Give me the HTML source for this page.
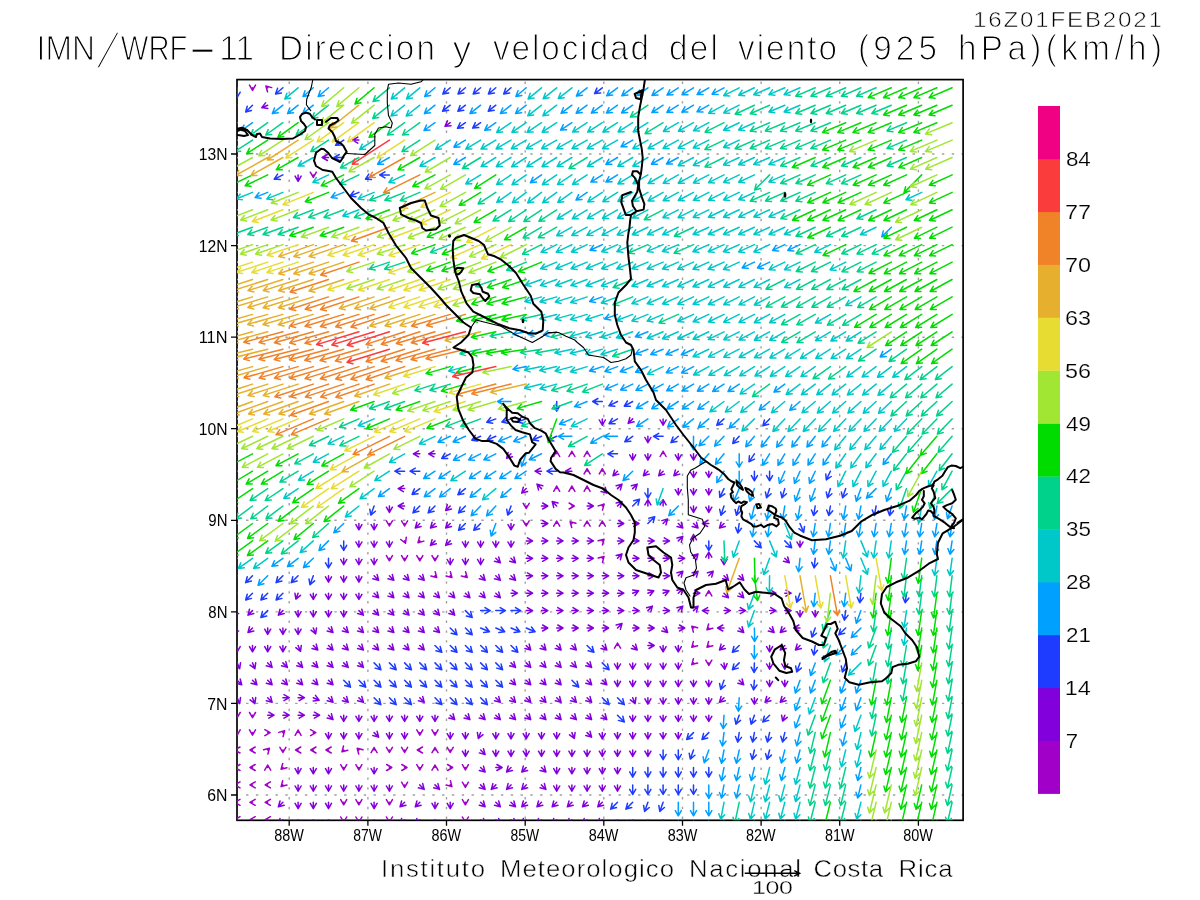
<!DOCTYPE html><html><head><meta charset="utf-8"><title>IMN/WRF-11 viento 925 hPa</title><style>html,body{margin:0;padding:0;background:#fff;width:1200px;height:900px;overflow:hidden}svg{display:block}.t{font-family:"Liberation Sans",Arial,sans-serif;fill:#000}</style></head><body>
<svg width="1200" height="900" viewBox="0 0 1200 900">
<rect width="1200" height="900" fill="#fff"/>
<defs><clipPath id="fr"><rect x="237.0" y="79.6" width="726.1" height="740.7"/></clipPath></defs>
<path d="M289.2 81.6V820.3M367.9 81.6V820.3M446.5 81.6V820.3M525.2 81.6V820.3M603.8 81.6V820.3M682.5 81.6V820.3M761.1 81.6V820.3M839.7 81.6V820.3M918.4 81.6V820.3M246.1 795.0H963.1M246.1 703.4H963.1M246.1 611.9H963.1M246.1 520.3H963.1M246.1 428.7H963.1M246.1 337.2H963.1M246.1 245.6H963.1M246.1 154.0H963.1" stroke="#a0a0a0" stroke-width="1.4" stroke-dasharray="2.4 7.4" fill="none"/>
<rect x="237.0" y="79.6" width="726.1" height="740.7" fill="none" stroke="#000" stroke-width="1.7"/>
<g clip-path="url(#fr)" fill="none" stroke-width="1.5" stroke-linecap="round" stroke-linejoin="round">
<path stroke="#a000c8" d="M252.5 87.8L252.5 90.3M249.5 85.1L252.5 90.3L255.5 85.1M267.7 87.8L265.9 86M271.7 87.6L265.9 86L267.5 91.8M313.3 174.9L313.3 177.4M310.3 172.2L313.3 177.4L316.3 172.2M556.7 453.8L556.7 451.3M559.7 456.5L556.7 451.3L553.7 456.5M571.9 453.8L571.9 451.3M574.9 456.5L571.9 451.3L568.9 456.5M587.1 453.8L587.1 451.3M590.1 456.5L587.1 451.3L584.1 456.5M663.1 453.8L663.1 451.3M666.1 456.5L663.1 451.3L660.1 456.5M587.1 471.2L587.1 468.7M590.1 473.9L587.1 468.7L584.1 473.9M602.3 471.2L602.3 468.7M605.3 473.9L602.3 468.7L599.3 473.9M556.7 488.6L556.7 486.1M559.7 491.3L556.7 486.1L553.7 491.3M571.9 488.6L571.9 486.1M574.9 491.3L571.9 486.1L568.9 491.3M587.1 488.6L587.1 486.1M590.1 491.3L587.1 486.1L584.1 491.3M526.2 506L526.2 508.5M523.2 503.3L526.2 508.5L529.2 503.3M571.9 506L574.3 506M569.1 509L574.3 506L569.1 503M602.3 506L604 504.3M602.5 510.1L604 504.3L598.2 505.9M389.4 523.5L389.4 526M386.4 520.8L389.4 526L392.4 520.8M404.6 523.5L404.6 526M401.6 520.8L404.6 526L407.6 520.8M526.2 523.5L526.2 526M523.2 520.8L526.2 526L529.2 520.8M556.7 523.5L556.7 521M559.7 526.2L556.7 521L553.7 526.2M571.9 523.5L570.1 521.7M575.9 523.3L570.1 521.7L571.7 527.5M587.1 523.5L587.1 521M590.1 526.2L587.1 521L584.1 526.2M602.3 523.5L602.3 521M605.3 526.2L602.3 521L599.3 526.2M404.6 540.9L405.5 543.2M400.7 539.5L405.5 543.2L406.3 537.2M419.8 540.9L418 542.7M419.6 536.9L418 542.7L423.8 541.1M602.3 540.9L604 539.2M602.5 544.9L604 539.2L598.2 540.7M389.4 558.3L389.4 560.8M386.4 555.6L389.4 560.8L392.4 555.6M404.6 558.3L404.6 560.8M401.6 555.6L404.6 560.8L407.6 555.6M419.8 558.3L419.8 560.8M416.8 555.6L419.8 560.8L422.8 555.6M435 558.3L435 560.8M432 555.6L435 560.8L438 555.6M602.3 558.3L604 556.6M602.5 562.4L604 556.6L598.2 558.1M435 575.8L436.7 577.5M430.9 576L436.7 577.5L435.2 571.7M450.2 575.8L451.9 577.5M446.1 576L451.9 577.5L450.4 571.7M465.4 575.8L467.2 577.5M461.4 576L467.2 577.5L465.6 571.7M708.8 593.2L708.8 590.7M711.8 595.9L708.8 590.7L705.8 595.9M693.5 628L691.8 626.3M697.6 627.8L691.8 626.3L693.4 632.1M708.8 628L707 629.8M708.6 624L707 629.8L712.8 628.2M617.5 645.5L617.5 643M620.5 648.2L617.5 643L614.5 648.2M693.5 645.5L691.8 647.2M693.4 641.4L691.8 647.2L697.6 645.7M708.8 645.5L707 647.2M708.6 641.4L707 647.2L712.8 645.7M693.5 662.9L691.8 664.6M693.4 658.8L691.8 664.6L697.6 663.1M708.8 662.9L708.8 665.4M705.8 660.2L708.8 665.4L711.8 660.2M237.2 715.2L237.2 717.6M234.2 712.5L237.2 717.6L240.2 712.5M252.5 715.2L252.5 717.6M249.5 712.5L252.5 717.6L255.5 712.5M237.2 732.6L237.2 735.1M234.2 729.9L237.2 735.1L240.2 729.9M252.5 732.6L252.5 735.1M249.5 729.9L252.5 735.1L255.5 729.9M267.7 732.6L270.1 732.6M264.9 735.6L270.1 732.6L264.9 729.6M282.9 732.6L284.6 730.8M283.1 736.6L284.6 730.8L278.8 732.4M298.1 732.6L298.1 730.1M301.1 735.3L298.1 730.1L295.1 735.3M313.3 732.6L315.8 732.6M310.6 735.6L315.8 732.6L310.6 729.6M419.8 732.6L419.8 735.1M416.8 729.9L419.8 735.1L422.8 729.9M435 732.6L435 735.1M432 729.9L435 735.1L438 729.9M237.2 750L234.8 750M240 747L234.8 750L240 753M252.5 750L250 750M255.2 747L250 750L255.2 753M267.7 750L269.4 748.3M267.9 754.1L269.4 748.3L263.6 749.8M282.9 750L282.9 752.5M279.9 747.3L282.9 752.5L285.9 747.3M298.1 750L295.6 750M300.8 747L295.6 750L300.8 753M313.3 750L310.8 750M316 747L310.8 750L316 753M328.5 750L326 750M331.2 747L326 750L331.2 753M343.7 750L342 751.8M343.5 746L342 751.8L347.8 750.2M358.9 750L357.2 748.3M363 749.8L357.2 748.3L358.7 754.1M374.1 750L374.1 747.6M377.1 752.7L374.1 747.6L371.1 752.7M389.4 750L389.4 752.5M386.4 747.3L389.4 752.5L392.4 747.3M404.6 750L404.6 752.5M401.6 747.3L404.6 752.5L407.6 747.3M419.8 750L417.3 750M422.5 747L417.3 750L422.5 753M435 750L435 747.6M438 752.7L435 747.6L432 752.7M450.2 750L450.2 752.5M447.2 747.3L450.2 752.5L453.2 747.3M237.2 767.5L234.8 767.5M240 764.5L234.8 767.5L240 770.5M252.5 767.5L250 767.5M255.2 764.5L250 767.5L255.2 770.5M267.7 767.5L267.7 765M270.7 770.2L267.7 765L264.7 770.2M282.9 767.5L281.1 769.2M282.7 763.4L281.1 769.2L286.9 767.7M343.7 767.5L343.7 769.9M340.7 764.7L343.7 769.9L346.7 764.7M358.9 767.5L358.9 769.9M355.9 764.7L358.9 769.9L361.9 764.7M389.4 767.5L391.8 767.5M386.6 770.5L391.8 767.5L386.6 764.5M404.6 767.5L407 767.5M401.8 770.5L407 767.5L401.8 764.5M419.8 767.5L419.8 769.9M416.8 764.7L419.8 769.9L422.8 764.7M435 767.5L435 765M438 770.2L435 765L432 770.2M450.2 767.5L452.7 767.5M447.5 770.5L452.7 767.5L447.5 764.5M465.4 767.5L465.4 769.9M462.4 764.7L465.4 769.9L468.4 764.7M237.2 784.9L234.8 784.9M240 781.9L234.8 784.9L240 787.9M252.5 784.9L250 784.9M255.2 781.9L250 784.9L255.2 787.9M267.7 784.9L265.2 784.9M270.4 781.9L265.2 784.9L270.4 787.9M282.9 784.9L281.1 786.6M282.7 780.8L281.1 786.6L286.9 785.1M404.6 784.9L404.6 787.4M401.6 782.2L404.6 787.4L407.6 782.2M450.2 784.9L451.9 786.6M446.1 785.1L451.9 786.6L450.4 780.8M465.4 784.9L465.4 787.4M462.4 782.2L465.4 787.4L468.4 782.2M237.2 802.3L234.8 802.3M240 799.3L234.8 802.3L240 805.3M252.5 802.3L250 802.3M255.2 799.3L250 802.3L255.2 805.3M267.7 802.3L265.2 802.3M270.4 799.3L265.2 802.3L270.4 805.3M343.7 802.3L343.7 804.8M340.7 799.6L343.7 804.8L346.7 799.6M358.9 802.3L358.9 804.8M355.9 799.6L358.9 804.8L361.9 799.6M389.4 802.3L389.4 804.8M386.4 799.6L389.4 804.8L392.4 799.6M465.4 802.3L465.4 804.8M462.4 799.6L465.4 804.8L468.4 799.6M237.2 819.7L234.8 819.7M240 816.7L234.8 819.7L240 822.7M252.5 819.7L250 819.7M255.2 816.7L250 819.7L255.2 822.7M267.7 819.7L265.2 819.7M270.4 816.7L265.2 819.7L270.4 822.7M343.7 819.7L343.7 822.2M340.7 817L343.7 822.2L346.7 817M358.9 819.7L358.9 822.2M355.9 817L358.9 822.2L361.9 817M389.4 819.7L389.4 822.2M386.4 817L389.4 822.2L392.4 817M465.4 819.7L465.4 822.2M462.4 817L465.4 822.2L468.4 817"/>
<path stroke="#8200dc" d="M267.7 105.2L261.8 107.6M265.5 102.9L261.8 107.6L267.8 108.4M450.2 122.7L445 126.3M447.5 120.9L445 126.3L451 125.8M358.9 140.1L352.6 140.1M357.8 137.1L352.6 140.1L357.8 143.1M328.5 157.5L322.2 157.5M327.4 154.5L322.2 157.5L327.4 160.5M298.1 174.9L298.1 181.3M295.1 176.1L298.1 181.3L301.1 176.1M602.3 418.9L602.3 425.2M599.3 420L602.3 425.2L605.3 420M632.7 418.9L628.2 423.4M629.8 417.6L628.2 423.4L634 421.8M663.1 418.9L663.1 425.2M660.1 420L663.1 425.2L666.1 420M647.9 436.3L647.9 442.7M644.9 437.5L647.9 442.7L650.9 437.5M419.8 453.8L413.4 453.8M418.6 450.8L413.4 453.8L418.6 456.8M435 453.8L428.7 453.8M433.9 450.8L428.7 453.8L433.9 456.8M511 453.8L506.6 458.2M508.1 452.4L506.6 458.2L512.4 456.7M632.7 453.8L632.7 460.1M629.7 454.9L632.7 460.1L635.7 454.9M647.9 453.8L647.9 460.1M644.9 454.9L647.9 460.1L650.9 454.9M678.3 453.8L678.3 460.1M675.3 454.9L678.3 460.1L681.3 454.9M693.5 453.8L693.5 460.1M690.5 454.9L693.5 460.1L696.5 454.9M541.5 471.2L535.1 471.2M540.3 468.2L535.1 471.2L540.3 474.2M571.9 471.2L565.5 471.2M570.7 468.2L565.5 471.2L570.7 474.2M617.5 471.2L613 475.7M614.6 469.9L613 475.7L618.8 474.1M647.9 471.2L643.4 475.7M645 469.9L643.4 475.7L649.2 474.1M663.1 471.2L658.7 475.7M660.2 469.9L658.7 475.7L664.5 474.1M678.3 471.2L673.9 475.7M675.4 469.9L673.9 475.7L679.7 474.1M693.5 471.2L693.5 477.5M690.5 472.3L693.5 477.5L696.5 472.3M708.8 471.2L708.8 477.5M705.8 472.3L708.8 477.5L711.8 472.3M404.6 488.6L398.2 488.6M403.4 485.6L398.2 488.6L403.4 491.6M526.2 488.6L521.8 493.1M523.3 487.3L521.8 493.1L527.6 491.5M541.5 488.6L537 484.1M542.8 485.7L537 484.1L538.5 489.9M602.3 488.6L606.8 493.1M601 491.5L606.8 493.1L605.2 487.3M617.5 488.6L622 484.1M620.4 489.9L622 484.1L616.2 485.7M632.7 488.6L637.2 484.1M635.6 489.9L637.2 484.1L631.4 485.7M678.3 488.6L678.3 494.9M675.3 489.7L678.3 494.9L681.3 489.7M693.5 488.6L693.5 494.9M690.5 489.7L693.5 494.9L696.5 489.7M708.8 488.6L708.8 494.9M705.8 489.7L708.8 494.9L711.8 489.7M389.4 506L389.4 512.4M386.4 507.2L389.4 512.4L392.4 507.2M404.6 506L398.2 506M403.4 503L398.2 506L403.4 509M450.2 506L445.7 510.5M447.3 504.7L445.7 510.5L451.5 509M541.5 506L547.8 506M542.6 509L547.8 506L542.6 503M556.7 506L552.2 501.6M558 503.1L552.2 501.6L553.7 507.4M587.1 506L593.4 506M588.2 509L593.4 506L588.2 503M617.5 506L622 501.6M620.4 507.4L622 501.6L616.2 503.1M647.9 506L647.9 499.7M650.9 504.9L647.9 499.7L644.9 504.9M663.1 506L663.1 499.7M666.1 504.9L663.1 499.7L660.1 504.9M693.5 506L693.5 512.4M690.5 507.2L693.5 512.4L696.5 507.2M708.8 506L708.8 512.4M705.8 507.2L708.8 512.4L711.8 507.2M358.9 523.5L358.9 529.8M355.9 524.6L358.9 529.8L361.9 524.6M374.1 523.5L374.1 529.8M371.1 524.6L374.1 529.8L377.1 524.6M419.8 523.5L415.3 527.9M416.9 522.2L415.3 527.9L421.1 526.4M435 523.5L430.5 527.9M432.1 522.2L430.5 527.9L436.3 526.4M450.2 523.5L445.7 527.9M447.3 522.2L445.7 527.9L451.5 526.4M511 523.5L511 529.8M508 524.6L511 529.8L514 524.6M541.5 523.5L547.8 523.5M542.6 526.5L547.8 523.5L542.6 520.5M617.5 523.5L623.8 523.5M618.6 526.5L623.8 523.5L618.6 520.5M632.7 523.5L639 523.5M633.8 526.5L639 523.5L633.8 520.5M663.1 523.5L667.6 519M666 524.8L667.6 519L661.8 520.6M678.3 523.5L682.8 527.9M677 526.4L682.8 527.9L681.3 522.2M693.5 523.5L698 527.9M692.2 526.4L698 527.9L696.5 522.2M708.8 523.5L702.4 523.5M707.6 520.5L702.4 523.5L707.6 526.5M724 523.5L719.5 527.9M721.1 522.2L719.5 527.9L725.3 526.4M358.9 540.9L358.9 547.2M355.9 542L358.9 547.2L361.9 542M374.1 540.9L374.1 547.2M371.1 542L374.1 547.2L377.1 542M389.4 540.9L389.4 547.2M386.4 542L389.4 547.2L392.4 542M435 540.9L430.5 545.4M432.1 539.6L430.5 545.4L436.3 543.8M450.2 540.9L445.7 545.4M447.3 539.6L445.7 545.4L451.5 543.8M465.4 540.9L465.4 547.2M462.4 542L465.4 547.2L468.4 542M480.6 540.9L480.6 547.2M477.6 542L480.6 547.2L483.6 542M495.8 540.9L495.8 547.2M492.8 542L495.8 547.2L498.8 542M511 540.9L511 547.2M508 542L511 547.2L514 542M526.2 540.9L532.6 540.9M527.4 543.9L532.6 540.9L527.4 537.9M541.5 540.9L547.8 540.9M542.6 543.9L547.8 540.9L542.6 537.9M556.7 540.9L563 540.9M557.8 543.9L563 540.9L557.8 537.9M571.9 540.9L578.2 540.9M573 543.9L578.2 540.9L573 537.9M587.1 540.9L593.4 540.9M588.2 543.9L593.4 540.9L588.2 537.9M617.5 540.9L623.8 540.9M618.6 543.9L623.8 540.9L618.6 537.9M632.7 540.9L639 540.9M633.8 543.9L639 540.9L633.8 537.9M647.9 540.9L654.2 540.9M649 543.9L654.2 540.9L649 537.9M663.1 540.9L669.5 540.9M664.3 543.9L669.5 540.9L664.3 537.9M678.3 540.9L682.8 536.4M681.3 542.2L682.8 536.4L677 538M693.5 540.9L693.5 534.6M696.5 539.8L693.5 534.6L690.5 539.8M800 540.9L800 547.2M797 542L800 547.2L803 542M343.7 558.3L343.7 564.7M340.7 559.5L343.7 564.7L346.7 559.5M358.9 558.3L358.9 564.7M355.9 559.5L358.9 564.7L361.9 559.5M374.1 558.3L374.1 564.7M371.1 559.5L374.1 564.7L377.1 559.5M450.2 558.3L450.2 564.7M447.2 559.5L450.2 564.7L453.2 559.5M465.4 558.3L465.4 564.7M462.4 559.5L465.4 564.7L468.4 559.5M480.6 558.3L480.6 564.7M477.6 559.5L480.6 564.7L483.6 559.5M495.8 558.3L500.3 562.8M494.5 561.2L500.3 562.8L498.7 557M511 558.3L515.5 562.8M509.7 561.2L515.5 562.8L513.9 557M526.2 558.3L532.6 558.3M527.4 561.3L532.6 558.3L527.4 555.3M541.5 558.3L547.8 558.3M542.6 561.3L547.8 558.3L542.6 555.3M556.7 558.3L563 558.3M557.8 561.3L563 558.3L557.8 555.3M571.9 558.3L578.2 558.3M573 561.3L578.2 558.3L573 555.3M587.1 558.3L593.4 558.3M588.2 561.3L593.4 558.3L588.2 555.3M617.5 558.3L622 553.9M620.4 559.7L622 553.9L616.2 555.4M632.7 558.3L639 558.3M633.8 561.3L639 558.3L633.8 555.3M647.9 558.3L654.2 558.3M649 561.3L654.2 558.3L649 555.3M663.1 558.3L669.5 558.3M664.3 561.3L669.5 558.3L664.3 555.3M678.3 558.3L684.7 558.3M679.5 561.3L684.7 558.3L679.5 555.3M693.5 558.3L698 553.9M696.5 559.7L698 553.9L692.2 555.4M708.8 558.3L708.8 552M711.8 557.2L708.8 552L705.8 557.2M724 558.3L724 564.7M721 559.5L724 564.7L727 559.5M784.8 558.3L789.3 562.8M783.5 561.2L789.3 562.8L787.7 557M328.5 575.8L328.5 582.1M325.5 576.9L328.5 582.1L331.5 576.9M343.7 575.8L343.7 582.1M340.7 576.9L343.7 582.1L346.7 576.9M358.9 575.8L358.9 582.1M355.9 576.9L358.9 582.1L361.9 576.9M374.1 575.8L378.6 580.2M372.8 578.7L378.6 580.2L377.1 574.4M389.4 575.8L393.8 580.2M388 578.7L393.8 580.2L392.3 574.4M404.6 575.8L409 580.2M403.2 578.7L409 580.2L407.5 574.4M419.8 575.8L424.2 580.2M418.4 578.7L424.2 580.2L422.7 574.4M480.6 575.8L485.1 580.2M479.3 578.7L485.1 580.2L483.5 574.4M495.8 575.8L500.3 580.2M494.5 578.7L500.3 580.2L498.7 574.4M511 575.8L515.5 580.2M509.7 578.7L515.5 580.2L513.9 574.4M526.2 575.8L532.6 575.8M527.4 578.8L532.6 575.8L527.4 572.8M541.5 575.8L547.8 575.8M542.6 578.8L547.8 575.8L542.6 572.8M556.7 575.8L563 575.8M557.8 578.8L563 575.8L557.8 572.8M571.9 575.8L578.2 575.8M573 578.8L578.2 575.8L573 572.8M587.1 575.8L593.4 575.8M588.2 578.8L593.4 575.8L588.2 572.8M602.3 575.8L608.6 575.8M603.4 578.8L608.6 575.8L603.4 572.8M617.5 575.8L623.8 575.8M618.6 578.8L623.8 575.8L618.6 572.8M632.7 575.8L639 575.8M633.8 578.8L639 575.8L633.8 572.8M647.9 575.8L654.2 575.8M649 578.8L654.2 575.8L649 572.8M663.1 575.8L669.5 575.8M664.3 578.8L669.5 575.8L664.3 572.8M678.3 575.8L682.8 571.3M681.3 577.1L682.8 571.3L677 572.8M693.5 575.8L698 571.3M696.5 577.1L698 571.3L692.2 572.8M708.8 575.8L713.2 571.3M711.7 577.1L713.2 571.3L707.4 572.8M724 575.8L728.4 580.2M722.6 578.7L728.4 580.2L726.9 574.4M739.2 575.8L743.7 580.2M737.9 578.7L743.7 580.2L742.1 574.4M298.1 593.2L295.9 599.1M294.9 593.2L295.9 599.1L300.5 595.3M313.3 593.2L313.3 599.5M310.3 594.3L313.3 599.5L316.3 594.3M328.5 593.2L328.5 599.5M325.5 594.3L328.5 599.5L331.5 594.3M343.7 593.2L343.7 599.5M340.7 594.3L343.7 599.5L346.7 594.3M358.9 593.2L358.9 599.5M355.9 594.3L358.9 599.5L361.9 594.3M374.1 593.2L378.6 597.7M372.8 596.1L378.6 597.7L377.1 591.9M389.4 593.2L393.8 597.7M388 596.1L393.8 597.7L392.3 591.9M404.6 593.2L409 597.7M403.2 596.1L409 597.7L407.5 591.9M419.8 593.2L424.2 597.7M418.4 596.1L424.2 597.7L422.7 591.9M435 593.2L439.5 597.7M433.7 596.1L439.5 597.7L437.9 591.9M450.2 593.2L454.7 597.7M448.9 596.1L454.7 597.7L453.1 591.9M465.4 593.2L469.9 597.7M464.1 596.1L469.9 597.7L468.3 591.9M480.6 593.2L485.1 597.7M479.3 596.1L485.1 597.7L483.5 591.9M495.8 593.2L500.3 597.7M494.5 596.1L500.3 597.7L498.7 591.9M511 593.2L517.4 593.2M512.2 596.2L517.4 593.2L512.2 590.2M526.2 593.2L532.6 593.2M527.4 596.2L532.6 593.2L527.4 590.2M541.5 593.2L547.8 593.2M542.6 596.2L547.8 593.2L542.6 590.2M556.7 593.2L563 593.2M557.8 596.2L563 593.2L557.8 590.2M571.9 593.2L578.2 593.2M573 596.2L578.2 593.2L573 590.2M587.1 593.2L593.4 593.2M588.2 596.2L593.4 593.2L588.2 590.2M602.3 593.2L608.6 593.2M603.4 596.2L608.6 593.2L603.4 590.2M617.5 593.2L623.8 593.2M618.6 596.2L623.8 593.2L618.6 590.2M632.7 593.2L638.6 590.8M634.9 595.5L638.6 590.8L632.6 590M647.9 593.2L653.8 590.8M650.1 595.5L653.8 590.8L647.8 590M663.1 593.2L669 590.8M665.3 595.5L669 590.8L663 590M678.3 593.2L682.8 588.7M681.3 594.5L682.8 588.7L677 590.3M693.5 593.2L699.9 593.2M694.7 596.2L699.9 593.2L694.7 590.2M724 593.2L728.4 597.7M722.6 596.1L728.4 597.7L726.9 591.9M739.2 593.2L743.7 597.7M737.9 596.1L743.7 597.7L742.1 591.9M769.6 593.2L775.9 593.2M770.7 596.2L775.9 593.2L770.7 590.2M784.8 593.2L791.1 593.2M785.9 596.2L791.1 593.2L785.9 590.2M237.2 610.6L232.8 615.1M234.3 609.3L232.8 615.1L238.6 613.5M252.5 610.6L248 615.1M249.5 609.3L248 615.1L253.8 613.5M282.9 610.6L278.4 615.1M280 609.3L278.4 615.1L284.2 613.5M298.1 610.6L298.1 616.9M295.1 611.7L298.1 616.9L301.1 611.7M313.3 610.6L313.3 616.9M310.3 611.7L313.3 616.9L316.3 611.7M328.5 610.6L328.5 616.9M325.5 611.7L328.5 616.9L331.5 611.7M343.7 610.6L343.7 616.9M340.7 611.7L343.7 616.9L346.7 611.7M358.9 610.6L363.4 615.1M357.6 613.5L363.4 615.1L361.8 609.3M374.1 610.6L378.6 615.1M372.8 613.5L378.6 615.1L377.1 609.3M389.4 610.6L393.8 615.1M388 613.5L393.8 615.1L392.3 609.3M404.6 610.6L409 615.1M403.2 613.5L409 615.1L407.5 609.3M419.8 610.6L424.2 615.1M418.4 613.5L424.2 615.1L422.7 609.3M435 610.6L439.5 615.1M433.7 613.5L439.5 615.1L437.9 609.3M450.2 610.6L454.7 615.1M448.9 613.5L454.7 615.1L453.1 609.3M526.2 610.6L532.6 610.6M527.4 613.6L532.6 610.6L527.4 607.6M541.5 610.6L547.8 610.6M542.6 613.6L547.8 610.6L542.6 607.6M556.7 610.6L563 610.6M557.8 613.6L563 610.6L557.8 607.6M571.9 610.6L578.2 610.6M573 613.6L578.2 610.6L573 607.6M587.1 610.6L593.4 610.6M588.2 613.6L593.4 610.6L588.2 607.6M602.3 610.6L608.6 610.6M603.4 613.6L608.6 610.6L603.4 607.6M617.5 610.6L623.8 610.6M618.6 613.6L623.8 610.6L618.6 607.6M632.7 610.6L639 610.6M633.8 613.6L639 610.6L633.8 607.6M647.9 610.6L652.4 606.1M650.8 611.9L652.4 606.1L646.6 607.7M663.1 610.6L669.5 610.6M664.3 613.6L669.5 610.6L664.3 607.6M678.3 610.6L682.8 606.1M681.3 611.9L682.8 606.1L677 607.7M693.5 610.6L698 606.1M696.5 611.9L698 606.1L692.2 607.7M708.8 610.6L702.4 610.6M707.6 607.6L702.4 610.6L707.6 613.6M724 610.6L730.3 610.6M725.1 613.6L730.3 610.6L725.1 607.6M739.2 610.6L745.5 610.6M740.3 613.6L745.5 610.6L740.3 607.6M769.6 610.6L775.9 610.6M770.7 613.6L775.9 610.6L770.7 607.6M784.8 610.6L791.1 610.6M785.9 613.6L791.1 610.6L785.9 607.6M800 610.6L800 616.9M797 611.7L800 616.9L803 611.7M815.2 610.6L815.2 616.9M812.2 611.7L815.2 616.9L818.2 611.7M237.2 628L232.8 632.5M234.3 626.7L232.8 632.5L238.6 631M252.5 628L248 632.5M249.5 626.7L248 632.5L253.8 631M267.7 628L267.7 634.4M264.7 629.2L267.7 634.4L270.7 629.2M282.9 628L282.9 634.4M279.9 629.2L282.9 634.4L285.9 629.2M298.1 628L298.1 634.4M295.1 629.2L298.1 634.4L301.1 629.2M313.3 628L315.7 633.9M311 630.2L315.7 633.9L316.5 627.9M328.5 628L333 632.5M327.2 631L333 632.5L331.4 626.7M343.7 628L348.2 632.5M342.4 631L348.2 632.5L346.6 626.7M358.9 628L363.4 632.5M357.6 631L363.4 632.5L361.8 626.7M374.1 628L378.6 632.5M372.8 631L378.6 632.5L377.1 626.7M389.4 628L393.8 632.5M388 631L393.8 632.5L392.3 626.7M404.6 628L409 632.5M403.2 631L409 632.5L407.5 626.7M419.8 628L424.2 632.5M418.4 631L424.2 632.5L422.7 626.7M435 628L439.5 632.5M433.7 631L439.5 632.5L437.9 626.7M541.5 628L547.8 628M542.6 631L547.8 628L542.6 625M556.7 628L563 628M557.8 631L563 628L557.8 625M571.9 628L578.2 628M573 631L578.2 628L573 625M587.1 628L593.4 628M588.2 631L593.4 628L588.2 625M602.3 628L608.6 628M603.4 631L608.6 628L603.4 625M617.5 628L622 623.6M620.4 629.4L622 623.6L616.2 625.1M632.7 628L639 628M633.8 631L639 628L633.8 625M647.9 628L654.2 628M649 631L654.2 628L649 625M663.1 628L667.6 632.5M661.8 631L667.6 632.5L666 626.7M678.3 628L684.7 628M679.5 631L684.7 628L679.5 625M724 628L717.6 628M722.8 625L717.6 628L722.8 631M739.2 628L743.7 632.5M737.9 631L743.7 632.5L742.1 626.7M769.6 628L774.1 632.5M768.3 631L774.1 632.5L772.5 626.7M784.8 628L780.3 632.5M781.9 626.7L780.3 632.5L786.1 631M800 628L793.7 628M798.9 625L793.7 628L798.9 631M237.2 645.5L237.2 651.8M234.2 646.6L237.2 651.8L240.2 646.6M252.5 645.5L252.5 651.8M249.5 646.6L252.5 651.8L255.5 646.6M267.7 645.5L267.7 651.8M264.7 646.6L267.7 651.8L270.7 646.6M282.9 645.5L282.9 651.8M279.9 646.6L282.9 651.8L285.9 646.6M298.1 645.5L300.5 651.3M295.8 647.7L300.5 651.3L301.3 645.4M313.3 645.5L317.8 649.9M312 648.4L317.8 649.9L316.2 644.1M328.5 645.5L333 649.9M327.2 648.4L333 649.9L331.4 644.1M343.7 645.5L348.2 649.9M342.4 648.4L348.2 649.9L346.6 644.1M358.9 645.5L363.4 649.9M357.6 648.4L363.4 649.9L361.8 644.1M374.1 645.5L378.6 649.9M372.8 648.4L378.6 649.9L377.1 644.1M389.4 645.5L393.8 649.9M388 648.4L393.8 649.9L392.3 644.1M404.6 645.5L409 649.9M403.2 648.4L409 649.9L407.5 644.1M419.8 645.5L424.2 649.9M418.4 648.4L424.2 649.9L422.7 644.1M526.2 645.5L530.7 649.9M524.9 648.4L530.7 649.9L529.2 644.1M541.5 645.5L545.9 649.9M540.1 648.4L545.9 649.9L544.4 644.1M556.7 645.5L561.1 649.9M555.3 648.4L561.1 649.9L559.6 644.1M571.9 645.5L576.3 649.9M570.5 648.4L576.3 649.9L574.8 644.1M602.3 645.5L606.8 649.9M601 648.4L606.8 649.9L605.2 644.1M632.7 645.5L637.2 649.9M631.4 648.4L637.2 649.9L635.6 644.1M647.9 645.5L654.2 645.5M649 648.5L654.2 645.5L649 642.5M663.1 645.5L663.1 651.8M660.1 646.6L663.1 651.8L666.1 646.6M678.3 645.5L678.3 651.8M675.3 646.6L678.3 651.8L681.3 646.6M724 645.5L719.5 649.9M721.1 644.1L719.5 649.9L725.3 648.4M769.6 645.5L769.6 651.8M766.6 646.6L769.6 651.8L772.6 646.6M784.8 645.5L780.3 649.9M781.9 644.1L780.3 649.9L786.1 648.4M800 645.5L795.5 649.9M797.1 644.1L795.5 649.9L801.3 648.4M237.2 662.9L239.7 668.7M234.9 665.1L239.7 668.7L240.5 662.8M252.5 662.9L254.9 668.7M250.1 665.1L254.9 668.7L255.7 662.8M267.7 662.9L272.1 667.4M266.3 665.8L272.1 667.4L270.6 661.6M282.9 662.9L287.4 667.4M281.6 665.8L287.4 667.4L285.8 661.6M298.1 662.9L302.6 667.4M296.8 665.8L302.6 667.4L301 661.6M313.3 662.9L317.8 667.4M312 665.8L317.8 667.4L316.2 661.6M328.5 662.9L333 667.4M327.2 665.8L333 667.4L331.4 661.6M343.7 662.9L348.2 667.4M342.4 665.8L348.2 667.4L346.6 661.6M358.9 662.9L363.4 667.4M357.6 665.8L363.4 667.4L361.8 661.6M511 662.9L515.5 667.4M509.7 665.8L515.5 667.4L513.9 661.6M526.2 662.9L530.7 667.4M524.9 665.8L530.7 667.4L529.2 661.6M541.5 662.9L545.9 667.4M540.1 665.8L545.9 667.4L544.4 661.6M556.7 662.9L561.1 667.4M555.3 665.8L561.1 667.4L559.6 661.6M571.9 662.9L576.3 667.4M570.5 665.8L576.3 667.4L574.8 661.6M587.1 662.9L591.6 667.4M585.8 665.8L591.6 667.4L590 661.6M617.5 662.9L617.5 669.2M614.5 664L617.5 669.2L620.5 664M632.7 662.9L632.7 669.2M629.7 664L632.7 669.2L635.7 664M647.9 662.9L647.9 669.2M644.9 664L647.9 669.2L650.9 664M663.1 662.9L663.1 669.2M660.1 664L663.1 669.2L666.1 664M678.3 662.9L678.3 669.2M675.3 664L678.3 669.2L681.3 664M724 662.9L724.8 669.2M721.1 664.4L724.8 669.2L727.1 663.6M769.6 662.9L769.6 669.2M766.6 664L769.6 669.2L772.6 664M784.8 662.9L784.8 669.2M781.8 664L784.8 669.2L787.8 664M237.2 680.3L241.7 684.8M235.9 683.2L241.7 684.8L240.2 679M252.5 680.3L256.9 684.8M251.1 683.2L256.9 684.8L255.4 679M267.7 680.3L272.1 684.8M266.3 683.2L272.1 684.8L270.6 679M282.9 680.3L287.4 684.8M281.6 683.2L287.4 684.8L285.8 679M298.1 680.3L302.6 684.8M296.8 683.2L302.6 684.8L301 679M313.3 680.3L317.8 684.8M312 683.2L317.8 684.8L316.2 679M328.5 680.3L333 684.8M327.2 683.2L333 684.8L331.4 679M511 680.3L515.5 684.8M509.7 683.2L515.5 684.8L513.9 679M526.2 680.3L530.7 684.8M524.9 683.2L530.7 684.8L529.2 679M541.5 680.3L545.9 684.8M540.1 683.2L545.9 684.8L544.4 679M556.7 680.3L561.1 684.8M555.3 683.2L561.1 684.8L559.6 679M587.1 680.3L591.6 684.8M585.8 683.2L591.6 684.8L590 679M602.3 680.3L606.8 684.8M601 683.2L606.8 684.8L605.2 679M617.5 680.3L617.5 686.6M614.5 681.4L617.5 686.6L620.5 681.4M632.7 680.3L632.7 686.6M629.7 681.4L632.7 686.6L635.7 681.4M647.9 680.3L647.9 686.6M644.9 681.4L647.9 686.6L650.9 681.4M663.1 680.3L663.1 686.6M660.1 681.4L663.1 686.6L666.1 681.4M678.3 680.3L678.3 686.6M675.3 681.4L678.3 686.6L681.3 681.4M693.5 680.3L693.5 686.6M690.5 681.4L693.5 686.6L696.5 681.4M708.8 680.3L708.8 686.6M705.8 681.4L708.8 686.6L711.8 681.4M739.2 680.3L743.7 684.8M737.9 683.2L743.7 684.8L742.1 679M769.6 680.3L769.6 686.6M766.6 681.4L769.6 686.6L772.6 681.4M784.8 680.3L784.8 686.6M781.8 681.4L784.8 686.6L787.8 681.4M237.2 697.7L239.7 703.6M234.9 699.9L239.7 703.6L240.5 697.6M252.5 697.7L254.9 703.6M250.1 699.9L254.9 703.6L255.7 697.6M267.7 697.7L272.1 702.2M266.3 700.7L272.1 702.2L270.6 696.4M282.9 697.7L289.2 697.7M284 700.7L289.2 697.7L284 694.7M298.1 697.7L304.4 697.7M299.2 700.7L304.4 697.7L299.2 694.7M313.3 697.7L319.1 700.2M313.2 700.9L319.1 700.2L315.5 695.4M328.5 697.7L333 702.2M327.2 700.7L333 702.2L331.4 696.4M343.7 697.7L348.2 702.2M342.4 700.7L348.2 702.2L346.6 696.4M358.9 697.7L363.4 702.2M357.6 700.7L363.4 702.2L361.8 696.4M419.8 697.7L424.2 702.2M418.4 700.7L424.2 702.2L422.7 696.4M495.8 697.7L500.3 702.2M494.5 700.7L500.3 702.2L498.7 696.4M511 697.7L515.5 702.2M509.7 700.7L515.5 702.2L513.9 696.4M526.2 697.7L530.7 702.2M524.9 700.7L530.7 702.2L529.2 696.4M541.5 697.7L545.9 702.2M540.1 700.7L545.9 702.2L544.4 696.4M556.7 697.7L561.1 702.2M555.3 700.7L561.1 702.2L559.6 696.4M571.9 697.7L576.3 702.2M570.5 700.7L576.3 702.2L574.8 696.4M587.1 697.7L591.6 702.2M585.8 700.7L591.6 702.2L590 696.4M632.7 697.7L635.1 703.6M630.4 699.9L635.1 703.6L635.9 697.6M647.9 697.7L647.9 704.1M644.9 698.9L647.9 704.1L650.9 698.9M663.1 697.7L663.1 704.1M660.1 698.9L663.1 704.1L666.1 698.9M678.3 697.7L678.3 704.1M675.3 698.9L678.3 704.1L681.3 698.9M693.5 697.7L693.5 704.1M690.5 698.9L693.5 704.1L696.5 698.9M708.8 697.7L708.8 704.1M705.8 698.9L708.8 704.1L711.8 698.9M724 697.7L719.5 702.2M721.1 696.4L719.5 702.2L725.3 700.7M754.4 697.7L754.4 704.1M751.4 698.9L754.4 704.1L757.4 698.9M769.6 697.7L765.1 702.2M766.7 696.4L765.1 702.2L770.9 700.7M784.8 697.7L780.3 702.2M781.9 696.4L780.3 702.2L786.1 700.7M267.7 715.2L274 715.2M268.8 718.2L274 715.2L268.8 712.2M282.9 715.2L289.2 715.2M284 718.2L289.2 715.2L284 712.2M298.1 715.2L304.4 715.2M299.2 718.2L304.4 715.2L299.2 712.2M313.3 715.2L319.6 715.2M314.4 718.2L319.6 715.2L314.4 712.2M328.5 715.2L333 719.6M327.2 718.1L333 719.6L331.4 713.8M343.7 715.2L343.7 721.5M340.7 716.3L343.7 721.5L346.7 716.3M358.9 715.2L358.9 721.5M355.9 716.3L358.9 721.5L361.9 716.3M374.1 715.2L374.1 721.5M371.1 716.3L374.1 721.5L377.1 716.3M389.4 715.2L389.4 721.5M386.4 716.3L389.4 721.5L392.4 716.3M404.6 715.2L404.6 721.5M401.6 716.3L404.6 721.5L407.6 716.3M419.8 715.2L419.8 721.5M416.8 716.3L419.8 721.5L422.8 716.3M435 715.2L435 721.5M432 716.3L435 721.5L438 716.3M450.2 715.2L454.7 719.6M448.9 718.1L454.7 719.6L453.1 713.8M465.4 715.2L469.9 719.6M464.1 718.1L469.9 719.6L468.3 713.8M480.6 715.2L485.1 719.6M479.3 718.1L485.1 719.6L483.5 713.8M495.8 715.2L500.3 719.6M494.5 718.1L500.3 719.6L498.7 713.8M511 715.2L515.5 719.6M509.7 718.1L515.5 719.6L513.9 713.8M526.2 715.2L530.7 719.6M524.9 718.1L530.7 719.6L529.2 713.8M541.5 715.2L545.9 719.6M540.1 718.1L545.9 719.6L544.4 713.8M556.7 715.2L561.1 719.6M555.3 718.1L561.1 719.6L559.6 713.8M571.9 715.2L576.3 719.6M570.5 718.1L576.3 719.6L574.8 713.8M587.1 715.2L591.6 719.6M585.8 718.1L591.6 719.6L590 713.8M602.3 715.2L606.8 719.6M601 718.1L606.8 719.6L605.2 713.8M632.7 715.2L632.7 721.5M629.7 716.3L632.7 721.5L635.7 716.3M647.9 715.2L647.9 721.5M644.9 716.3L647.9 721.5L650.9 716.3M663.1 715.2L663.1 721.5M660.1 716.3L663.1 721.5L666.1 716.3M678.3 715.2L678.3 721.5M675.3 716.3L678.3 721.5L681.3 716.3M693.5 715.2L693.5 721.5M690.5 716.3L693.5 721.5L696.5 716.3M708.8 715.2L708.8 721.5M705.8 716.3L708.8 721.5L711.8 716.3M784.8 715.2L782.6 721.1M781.6 715.2L782.6 721.1L787.2 717.3M328.5 732.6L328.5 738.9M325.5 733.7L328.5 738.9L331.5 733.7M343.7 732.6L343.7 738.9M340.7 733.7L343.7 738.9L346.7 733.7M358.9 732.6L358.9 738.9M355.9 733.7L358.9 738.9L361.9 733.7M374.1 732.6L378.6 737.1M372.8 735.5L378.6 737.1L377.1 731.3M389.4 732.6L389.4 738.9M386.4 733.7L389.4 738.9L392.4 733.7M404.6 732.6L404.6 738.9M401.6 733.7L404.6 738.9L407.6 733.7M450.2 732.6L450.2 738.9M447.2 733.7L450.2 738.9L453.2 733.7M465.4 732.6L465.4 738.9M462.4 733.7L465.4 738.9L468.4 733.7M480.6 732.6L478.4 738.5M477.4 732.6L478.4 738.5L483 734.7M495.8 732.6L495.8 738.9M492.8 733.7L495.8 738.9L498.8 733.7M511 732.6L511 738.9M508 733.7L511 738.9L514 733.7M526.2 732.6L526.2 738.9M523.2 733.7L526.2 738.9L529.2 733.7M541.5 732.6L541.5 738.9M538.5 733.7L541.5 738.9L544.5 733.7M556.7 732.6L556.7 738.9M553.7 733.7L556.7 738.9L559.7 733.7M571.9 732.6L574.3 738.4M569.5 734.8L574.3 738.4L575.1 732.5M587.1 732.6L591.6 737.1M585.8 735.5L591.6 737.1L590 731.3M602.3 732.6L602.3 738.9M599.3 733.7L602.3 738.9L605.3 733.7M617.5 732.6L617.5 738.9M614.5 733.7L617.5 738.9L620.5 733.7M632.7 732.6L632.7 738.9M629.7 733.7L632.7 738.9L635.7 733.7M647.9 732.6L647.9 738.9M644.9 733.7L647.9 738.9L650.9 733.7M663.1 732.6L663.1 738.9M660.1 733.7L663.1 738.9L666.1 733.7M678.3 732.6L678.3 738.9M675.3 733.7L678.3 738.9L681.3 733.7M465.4 750L465.4 756.4M462.4 751.2L465.4 756.4L468.4 751.2M480.6 750L485.1 754.5M479.3 752.9L485.1 754.5L483.5 748.7M495.8 750L495.8 756.4M492.8 751.2L495.8 756.4L498.8 751.2M511 750L511 756.4M508 751.2L511 756.4L514 751.2M526.2 750L526.2 756.4M523.2 751.2L526.2 756.4L529.2 751.2M541.5 750L541.5 756.4M538.5 751.2L541.5 756.4L544.5 751.2M556.7 750L556.7 756.4M553.7 751.2L556.7 756.4L559.7 751.2M571.9 750L571.9 756.4M568.9 751.2L571.9 756.4L574.9 751.2M587.1 750L587.1 756.4M584.1 751.2L587.1 756.4L590.1 751.2M602.3 750L602.3 756.4M599.3 751.2L602.3 756.4L605.3 751.2M617.5 750L617.5 756.4M614.5 751.2L617.5 756.4L620.5 751.2M632.7 750L632.7 756.4M629.7 751.2L632.7 756.4L635.7 751.2M647.9 750L647.9 756.4M644.9 751.2L647.9 756.4L650.9 751.2M298.1 767.5L298.1 773.8M295.1 768.6L298.1 773.8L301.1 768.6M313.3 767.5L313.3 773.8M310.3 768.6L313.3 773.8L316.3 768.6M328.5 767.5L328.5 773.8M325.5 768.6L328.5 773.8L331.5 768.6M374.1 767.5L374.1 773.8M371.1 768.6L374.1 773.8L377.1 768.6M480.6 767.5L485.1 771.9M479.3 770.4L485.1 771.9L483.5 766.1M495.8 767.5L502.1 767.5M496.9 770.5L502.1 767.5L496.9 764.5M511 767.5L506.6 771.9M508.1 766.1L506.6 771.9L512.4 770.4M526.2 767.5L521.8 771.9M523.3 766.1L521.8 771.9L527.6 770.4M541.5 767.5L545.9 771.9M540.1 770.4L545.9 771.9L544.4 766.1M556.7 767.5L556.7 773.8M553.7 768.6L556.7 773.8L559.7 768.6M571.9 767.5L571.9 773.8M568.9 768.6L571.9 773.8L574.9 768.6M587.1 767.5L587.1 773.8M584.1 768.6L587.1 773.8L590.1 768.6M602.3 767.5L602.3 773.8M599.3 768.6L602.3 773.8L605.3 768.6M617.5 767.5L617.5 773.8M614.5 768.6L617.5 773.8L620.5 768.6M298.1 784.9L298.1 791.2M295.1 786L298.1 791.2L301.1 786M313.3 784.9L313.3 791.2M310.3 786L313.3 791.2L316.3 786M328.5 784.9L328.5 791.2M325.5 786L328.5 791.2L331.5 786M343.7 784.9L343.7 791.2M340.7 786L343.7 791.2L346.7 786M358.9 784.9L358.9 791.2M355.9 786L358.9 791.2L361.9 786M374.1 784.9L374.1 791.2M371.1 786L374.1 791.2L377.1 786M389.4 784.9L389.4 791.2M386.4 786L389.4 791.2L392.4 786M419.8 784.9L424.2 789.4M418.4 787.8L424.2 789.4L422.7 783.6M435 784.9L439.5 789.4M433.7 787.8L439.5 789.4L437.9 783.6M480.6 784.9L485.1 789.4M479.3 787.8L485.1 789.4L483.5 783.6M495.8 784.9L491.3 789.4M492.9 783.6L491.3 789.4L497.1 787.8M511 784.9L506.6 789.4M508.1 783.6L506.6 789.4L512.4 787.8M526.2 784.9L521.8 789.4M523.3 783.6L521.8 789.4L527.6 787.8M541.5 784.9L545.9 789.4M540.1 787.8L545.9 789.4L544.4 783.6M556.7 784.9L556.7 791.2M553.7 786L556.7 791.2L559.7 786M571.9 784.9L571.9 791.2M568.9 786L571.9 791.2L574.9 786M587.1 784.9L587.1 791.2M584.1 786L587.1 791.2L590.1 786M602.3 784.9L602.3 791.2M599.3 786L602.3 791.2L605.3 786M617.5 784.9L617.5 791.2M614.5 786L617.5 791.2L620.5 786M282.9 802.3L278.4 806.8M280 801L278.4 806.8L284.2 805.2M298.1 802.3L298.1 808.6M295.1 803.4L298.1 808.6L301.1 803.4M313.3 802.3L313.3 808.6M310.3 803.4L313.3 808.6L316.3 803.4M328.5 802.3L328.5 808.6M325.5 803.4L328.5 808.6L331.5 803.4M374.1 802.3L374.1 808.6M371.1 803.4L374.1 808.6L377.1 803.4M404.6 802.3L400.1 806.8M401.6 801L400.1 806.8L405.9 805.2M419.8 802.3L415.3 806.8M416.9 801L415.3 806.8L421.1 805.2M435 802.3L435 808.6M432 803.4L435 808.6L438 803.4M450.2 802.3L450.2 808.6M447.2 803.4L450.2 808.6L453.2 803.4M480.6 802.3L485.1 806.8M479.3 805.2L485.1 806.8L483.5 801M495.8 802.3L500.3 806.8M494.5 805.2L500.3 806.8L498.7 801M511 802.3L515.5 806.8M509.7 805.2L515.5 806.8L513.9 801M526.2 802.3L521.8 806.8M523.3 801L521.8 806.8L527.6 805.2M541.5 802.3L537 806.8M538.5 801L537 806.8L542.8 805.2M556.7 802.3L552.2 806.8M553.7 801L552.2 806.8L558 805.2M571.9 802.3L567.4 806.8M569 801L567.4 806.8L573.2 805.2M587.1 802.3L582.6 806.8M584.2 801L582.6 806.8L588.4 805.2M602.3 802.3L597.8 806.8M599.4 801L597.8 806.8L603.6 805.2M282.9 819.7L278.4 824.2M280 818.4L278.4 824.2L284.2 822.7M298.1 819.7L298.1 826.1M295.1 820.9L298.1 826.1L301.1 820.9M313.3 819.7L313.3 826.1M310.3 820.9L313.3 826.1L316.3 820.9M328.5 819.7L328.5 826.1M325.5 820.9L328.5 826.1L331.5 820.9M374.1 819.7L374.1 826.1M371.1 820.9L374.1 826.1L377.1 820.9M404.6 819.7L400.1 824.2M401.6 818.4L400.1 824.2L405.9 822.7M419.8 819.7L415.3 824.2M416.9 818.4L415.3 824.2L421.1 822.7M435 819.7L435 826.1M432 820.9L435 826.1L438 820.9M450.2 819.7L450.2 826.1M447.2 820.9L450.2 826.1L453.2 820.9M480.6 819.7L485.1 824.2M479.3 822.7L485.1 824.2L483.5 818.4M495.8 819.7L500.3 824.2M494.5 822.7L500.3 824.2L498.7 818.4M511 819.7L515.5 824.2M509.7 822.7L515.5 824.2L513.9 818.4M526.2 819.7L521.8 824.2M523.3 818.4L521.8 824.2L527.6 822.7M541.5 819.7L537 824.2M538.5 818.4L537 824.2L542.8 822.7M556.7 819.7L552.2 824.2M553.7 818.4L552.2 824.2L558 822.7M571.9 819.7L567.4 824.2M569 818.4L567.4 824.2L573.2 822.7M587.1 819.7L582.6 824.2M584.2 818.4L582.6 824.2L588.4 822.7M602.3 819.7L597.8 824.2M599.4 818.4L597.8 824.2L603.6 822.7"/>
<path stroke="#1e3cff" d="M237.2 87.8L237.2 97.4M234.2 92.2L237.2 97.4L240.2 92.2M282.9 87.8L275.5 94M277.6 88.3L275.5 94L281.4 92.9M450.2 87.8L442.8 94M444.9 88.3L442.8 94L448.7 92.9M465.4 87.8L458 94M460.1 88.3L458 94L463.9 92.9M480.6 87.8L473.2 94M475.3 88.3L473.2 94L479.1 92.9M495.8 87.8L488.4 94M490.5 88.3L488.4 94L494.4 92.9M511 87.8L503.7 94M505.7 88.3L503.7 94L509.6 92.9M602.3 87.8L594.6 93.6M596.9 88.1L594.6 93.6L600.6 92.9M237.2 105.2L230.4 112M232 106.2L230.4 112L236.2 110.5M252.5 105.2L245.7 112M247.2 106.2L245.7 112L251.4 110.5M450.2 105.2L442.6 111.2M444.9 105.6L442.6 111.2L448.6 110.3M465.4 105.2L457.9 111.2M460.1 105.6L457.9 111.2L463.8 110.3M495.8 105.2L488.3 111.2M490.5 105.6L488.3 111.2L494.2 110.3M465.4 122.7L457.5 128.2M460.1 122.7L457.5 128.2L463.5 127.7M480.6 122.7L472.7 128.1M475.3 122.7L472.7 128.1L478.7 127.6M343.7 140.1L335.6 145.3M338.4 140L335.6 145.3L341.6 145M343.7 157.5L334.1 157.5M339.3 154.5L334.1 157.5L339.3 160.5M282.9 174.9L274.2 179.1M277.6 174.1L274.2 179.1L280.2 179.6M374.1 174.9L365.5 179.1M368.8 174.1L365.5 179.1L371.4 179.6M389.4 174.9L379.7 174.9M384.9 171.9L379.7 174.9L384.9 177.9M358.9 192.4L350 196M353.7 191.2L350 196L355.9 196.8M556.7 401.5L556.7 411.1M553.7 405.9L556.7 411.1L559.7 405.9M602.3 401.5L592.7 401.5M597.9 398.5L592.7 401.5L597.9 404.5M617.5 401.5L608.9 405.8M612.2 400.8L608.9 405.8L614.9 406.2M632.7 401.5L624.3 406.1M627.4 401L624.3 406.1L630.3 406.2M495.8 418.9L486.8 422.2M490.6 417.6L486.8 422.2L492.7 423.2M511 418.9L501.9 422.1M505.9 417.5L501.9 422.1L507.8 423.2M526.2 418.9L517.1 422M521.1 417.5L517.1 422L523 423.2M617.5 418.9L609.1 423.7M612.2 418.5L609.1 423.7L615.1 423.7M724 418.9L716.8 425.3M718.7 419.6L716.8 425.3L722.6 424.1M769.6 418.9L762.9 425.8M764.4 420L762.9 425.8L768.7 424.2M480.6 436.3L471.8 440.2M475.3 435.4L471.8 440.2L477.8 440.9M495.8 436.3L487 440.1M490.6 435.3L487 440.1L492.9 440.8M541.5 436.3L532.6 440M536.2 435.3L532.6 440L538.5 440.8M556.7 436.3L547.9 440.3M551.4 435.5L547.9 440.3L553.9 440.9M632.7 436.3L624.8 441.8M627.4 436.4L624.8 441.8L630.8 441.3M663.1 436.3L653.5 436.3M658.7 433.3L653.5 436.3L658.7 439.3M678.3 436.3L671 442.6M673 436.9L671 442.6L676.9 441.5M739.2 436.3L732.8 443.5M734 437.7L732.8 443.5L738.5 441.6M450.2 453.8L441.7 458.4M444.9 453.2L441.7 458.4L447.7 458.5M617.5 453.8L607.9 453.8M613.1 450.8L607.9 453.8L613.1 456.8M754.4 453.8L749 461.8M749.4 455.8L749 461.8L754.4 459.1M404.6 471.2L394.9 471.2M400.1 468.2L394.9 471.2L400.1 474.2M419.8 471.2L410.1 471.2M415.3 468.2L410.1 471.2L415.3 474.2M556.7 471.2L547 471.2M552.2 468.2L547 471.2L552.2 474.2M754.4 471.2L754.4 480.8M751.4 475.6L754.4 480.8L757.4 475.6M769.6 471.2L769.6 480.8M766.6 475.6L769.6 480.8L772.6 475.6M830.4 471.2L826.3 479.9M825.8 473.9L826.3 479.9L831.2 476.5M419.8 488.6L412.1 494.4M414.4 488.9L412.1 494.4L418 493.7M465.4 488.6L457.9 494.7M460.1 489.1L457.9 494.7L463.8 493.7M647.9 488.6L647.9 498.2M644.9 493L647.9 498.2L650.9 493M724 488.6L719.8 497.3M719.4 491.3L719.8 497.3L724.8 493.9M769.6 488.6L766.6 497.8M765.4 491.9L766.6 497.8L771.1 493.8M784.8 488.6L782 497.8M780.7 492L782 497.8L786.4 493.7M830.4 488.6L827.5 497.8M826.2 491.9L827.5 497.8L831.9 493.8M845.7 488.6L842.6 497.8M841.4 491.9L842.6 497.8L847.1 493.8M374.1 506L370.8 515.1M369.8 509.2L370.8 515.1L375.4 511.2M419.8 506L413 512.9M414.5 507.1L413 512.9L418.8 511.3M435 506L428.2 512.9M429.7 507.1L428.2 512.9L434 511.3M465.4 506L458.6 512.9M460.1 507.1L458.6 512.9L464.4 511.3M511 506L507.7 515.1M506.7 509.2L507.7 515.1L512.3 511.2M632.7 506L639.5 499.2M638 505L639.5 499.2L633.7 500.8M724 506L720.9 515.2M719.7 509.3L720.9 515.2L725.4 511.2M739.2 506L736.5 515.3M735.1 509.5L736.5 515.3L740.8 511.1M815.2 506L813.6 515.5M811.5 509.9L813.6 515.5L817.4 510.9M830.4 506L828.8 515.5M826.7 509.9L828.8 515.5L832.6 510.9M876.1 506L874.4 515.5M872.3 509.9L874.4 515.5L878.3 510.9M891.3 506L889.6 515.5M887.6 509.9L889.6 515.5L893.5 510.9M465.4 523.5L458.6 530.3M460.1 524.5L458.6 530.3L464.4 528.7M480.6 523.5L473.8 530.3M475.4 524.5L473.8 530.3L479.6 528.7M647.9 523.5L654.7 516.7M653.2 522.5L654.7 516.7L648.9 518.2M739.2 523.5L737.8 533M735.6 527.4L737.8 533L741.5 528.3M800 523.5L803.7 532.4M798.9 528.7L803.7 532.4L804.5 526.4M343.7 540.9L343.7 550.5M340.7 545.3L343.7 550.5L346.7 545.3M708.8 540.9L708.8 550.5M705.8 545.3L708.8 550.5L711.8 545.3M754.4 540.9L761.2 547.7M755.4 546.2L761.2 547.7L759.6 541.9M784.8 540.9L791.6 547.7M785.8 546.2L791.6 547.7L790.1 541.9M328.5 558.3L328.5 568M325.5 562.8L328.5 568L331.5 562.8M815.2 558.3L814.1 567.9M811.7 562.4L814.1 567.9L817.7 563.1M237.2 575.8L230.4 582.6M232 576.8L230.4 582.6L236.2 581M252.5 575.8L245.7 582.6M247.2 576.8L245.7 582.6L251.4 581M282.9 575.8L276.1 582.6M277.6 576.8L276.1 582.6L281.9 581M298.1 575.8L291.3 582.6M292.8 576.8L291.3 582.6L297.1 581M313.3 575.8L310 584.8M309 578.9L310 584.8L314.6 580.9M237.2 593.2L230.4 600M232 594.2L230.4 600L236.2 598.4M252.5 593.2L245.7 600M247.2 594.2L245.7 600L251.4 598.4M267.7 593.2L260.9 600M262.4 594.2L260.9 600L266.7 598.4M282.9 593.2L276.1 600M277.6 594.2L276.1 600L281.9 598.4M800 593.2L796.7 602.2M795.7 596.3L796.7 602.2L801.3 598.4M860.9 593.2L859.7 602.7M857.3 597.2L859.7 602.7L863.3 597.9M906.5 593.2L905.2 602.7M902.9 597.2L905.2 602.7L908.9 598M267.7 610.6L260.9 617.4M262.4 611.6L260.9 617.4L266.7 615.9M465.4 610.6L472.2 617.4M466.4 615.9L472.2 617.4L470.7 611.6M480.6 610.6L490.2 610.6M485 613.6L490.2 610.6L485 607.6M495.8 610.6L505.4 610.6M500.2 613.6L505.4 610.6L500.2 607.6M511 610.6L520.7 610.6M515.5 613.6L520.7 610.6L515.5 607.6M845.7 610.6L844.4 620.1M842.1 614.6L844.4 620.1L848 615.4M450.2 628L457 634.8M451.2 633.3L457 634.8L455.4 629M465.4 628L472.2 634.8M466.4 633.3L472.2 634.8L470.7 629M480.6 628L489.5 631.7M483.6 632.5L489.5 631.7L485.8 627M495.8 628L504.7 631.7M498.8 632.5L504.7 631.7L501.1 627M511 628L519.9 631.7M514 632.5L519.9 631.7L516.3 627M526.2 628L535.1 631.7M529.2 632.5L535.1 631.7L531.5 627M815.2 628L811.9 637.1M810.9 631.2L811.9 637.1L816.5 633.2M845.7 628L838.8 634.8M840.4 629L838.8 634.8L844.6 633.3M435 645.5L441.8 652.3M436 650.7L441.8 652.3L440.2 646.5M450.2 645.5L457 652.3M451.2 650.7L457 652.3L455.4 646.5M465.4 645.5L472.2 652.3M466.4 650.7L472.2 652.3L470.7 646.5M480.6 645.5L487.4 652.3M481.6 650.7L487.4 652.3L485.9 646.5M495.8 645.5L502.6 652.3M496.8 650.7L502.6 652.3L501.1 646.5M511 645.5L517.8 652.3M512 650.7L517.8 652.3L516.3 646.5M587.1 645.5L593.9 652.3M588.1 650.7L593.9 652.3L592.3 646.5M739.2 645.5L732.4 652.3M733.9 646.5L732.4 652.3L738.2 650.7M815.2 645.5L813.7 655M811.6 649.4L813.7 655L817.5 650.3M374.1 662.9L380.9 669.7M375.2 668.1L380.9 669.7L379.4 663.9M389.4 662.9L396.2 669.7M390.4 668.1L396.2 669.7L394.6 663.9M404.6 662.9L411.4 669.7M405.6 668.1L411.4 669.7L409.8 663.9M419.8 662.9L426.6 669.7M420.8 668.1L426.6 669.7L425 663.9M435 662.9L441.8 669.7M436 668.1L441.8 669.7L440.2 663.9M450.2 662.9L457 669.7M451.2 668.1L457 669.7L455.4 663.9M465.4 662.9L472.2 669.7M466.4 668.1L472.2 669.7L470.7 663.9M480.6 662.9L487.4 669.7M481.6 668.1L487.4 669.7L485.9 663.9M495.8 662.9L502.6 669.7M496.8 668.1L502.6 669.7L501.1 663.9M602.3 662.9L609.1 669.7M603.3 668.1L609.1 669.7L607.5 663.9M739.2 662.9L732.4 669.7M733.9 663.9L732.4 669.7L738.2 668.1M754.4 662.9L754 672.5M751.2 667.2L754 672.5L757.2 667.4M800 662.9L796.7 671.9M795.7 666L796.7 671.9L801.3 668.1M845.7 662.9L842.4 671.9M841.3 666L842.4 671.9L847 668.1M343.7 680.3L350.5 687.1M344.7 685.6L350.5 687.1L349 681.3M358.9 680.3L365.7 687.1M359.9 685.6L365.7 687.1L364.2 681.3M374.1 680.3L380.9 687.1M375.2 685.6L380.9 687.1L379.4 681.3M389.4 680.3L396.2 687.1M390.4 685.6L396.2 687.1L394.6 681.3M404.6 680.3L411.4 687.1M405.6 685.6L411.4 687.1L409.8 681.3M419.8 680.3L426.6 687.1M420.8 685.6L426.6 687.1L425 681.3M435 680.3L441.8 687.1M436 685.6L441.8 687.1L440.2 681.3M450.2 680.3L457 687.1M451.2 685.6L457 687.1L455.4 681.3M465.4 680.3L472.2 687.1M466.4 685.6L472.2 687.1L470.7 681.3M480.6 680.3L487.4 687.1M481.6 685.6L487.4 687.1L485.9 681.3M495.8 680.3L502.6 687.1M496.8 685.6L502.6 687.1L501.1 681.3M571.9 680.3L578.7 687.1M572.9 685.6L578.7 687.1L577.1 681.3M724 680.3L720.7 689.4M719.6 683.5L720.7 689.4L725.3 685.5M754.4 680.3L753.6 689.9M751 684.5L753.6 689.9L757 685M374.1 697.7L380.9 704.6M375.2 703L380.9 704.6L379.4 698.8M389.4 697.7L396.2 704.6M390.4 703L396.2 704.6L394.6 698.8M404.6 697.7L411.4 704.6M405.6 703L411.4 704.6L409.8 698.8M435 697.7L441.8 704.6M436 703L441.8 704.6L440.2 698.8M450.2 697.7L457 704.6M451.2 703L457 704.6L455.4 698.8M465.4 697.7L472.2 704.6M466.4 703L472.2 704.6L470.7 698.8M480.6 697.7L487.4 704.6M481.6 703L487.4 704.6L485.9 698.8M602.3 697.7L609.1 704.6M603.3 703L609.1 704.6L607.5 698.8M617.5 697.7L624.3 704.6M618.5 703L624.3 704.6L622.8 698.8M617.5 715.2L624.3 722M618.5 720.4L624.3 722L622.8 716.2M739.2 715.2L735.9 724.2M734.8 718.3L735.9 724.2L740.5 720.4M754.4 715.2L751.1 724.2M750.1 718.3L751.1 724.2L755.7 720.4M769.6 715.2L762.8 722M764.3 716.2L762.8 722L768.6 720.4M693.5 732.6L686.7 739.4M688.3 733.6L686.7 739.4L692.5 737.9M708.8 732.6L702 739.4M703.5 733.6L702 739.4L707.7 737.9M739.2 732.6L737.7 742.1M735.5 736.5L737.7 742.1L741.5 737.4M754.4 732.6L752.6 742M750.6 736.4L752.6 742L756.5 737.5M769.6 732.6L767.4 742M765.7 736.2L767.4 742L771.5 737.6M784.8 732.6L782.5 741.9M780.8 736.2L782.5 741.9L786.7 737.6M663.1 750L663.1 759.7M660.1 754.5L663.1 759.7L666.1 754.5M678.3 750L678.3 759.7M675.3 754.5L678.3 759.7L681.3 754.5M693.5 750L690.3 759.1M689.2 753.2L690.3 759.1L694.9 755.2M754.4 750L752.2 759.4M750.5 753.7L752.2 759.4L756.3 755M769.6 750L767.2 759.3M765.6 753.6L767.2 759.3L771.4 755.1M632.7 767.5L632.7 777.1M629.7 771.9L632.7 777.1L635.7 771.9M647.9 767.5L647.9 777.1M644.9 771.9L647.9 777.1L650.9 771.9M663.1 767.5L663.1 777.1M660.1 771.9L663.1 777.1L666.1 771.9M678.3 767.5L678.3 777.1M675.3 771.9L678.3 777.1L681.3 771.9M693.5 767.5L693.5 777.1M690.5 771.9L693.5 777.1L696.5 771.9M708.8 767.5L708.8 777.1M705.8 771.9L708.8 777.1L711.8 771.9M632.7 784.9L632.7 794.5M629.7 789.3L632.7 794.5L635.7 789.3M647.9 784.9L647.9 794.5M644.9 789.3L647.9 794.5L650.9 789.3M663.1 784.9L663.1 794.5M660.1 789.3L663.1 794.5L666.1 789.3M678.3 784.9L678.3 794.5M675.3 789.3L678.3 794.5L681.3 789.3M693.5 784.9L693.5 794.5M690.5 789.3L693.5 794.5L696.5 789.3M617.5 802.3L610.7 809.1M612.2 803.3L610.7 809.1L616.5 807.6M632.7 802.3L625.9 809.1M627.5 803.3L625.9 809.1L631.7 807.6M647.9 802.3L644.6 811.4M643.6 805.4L644.6 811.4L649.2 807.5M663.1 802.3L659.8 811.4M658.8 805.4L659.8 811.4L664.4 807.5M617.5 819.7L610.7 826.5M612.2 820.7L610.7 826.5L616.5 825M632.7 819.7L625.9 826.5M627.5 820.7L625.9 826.5L631.7 825M647.9 819.7L644.6 828.8M643.6 822.9L644.6 828.8L649.2 824.9M663.1 819.7L659.8 828.8M658.8 822.9L659.8 828.8L664.4 824.9"/>
<path stroke="#00a0ff" d="M313.3 87.8L303 96.5M305 90.8L303 96.5L308.9 95.4M328.5 87.8L318.2 96.5M320.2 90.8L318.2 96.5L324.1 95.4M435 87.8L424.7 96.5M426.7 90.8L424.7 96.5L430.6 95.4M526.2 87.8L515.9 96.5M518 90.8L515.9 96.5L521.8 95.4M587.1 87.8L576.4 96.1M578.7 90.5L576.4 96.1L582.4 95.2M617.5 87.8L606.7 95.8M609.1 90.3L606.7 95.8L612.6 95.1M632.7 87.8L621.8 95.7M624.2 90.2L621.8 95.7L627.8 95.1M647.9 87.8L636.9 95.6M639.4 90.1L636.9 95.6L642.9 95M663.1 87.8L652 95.4M654.6 90L652 95.4L658 94.9M678.3 87.8L667 95.1M669.8 89.8L667 95.1L673 94.8M693.5 87.8L682 94.8M684.9 89.5L682 94.8L688 94.7M708.8 87.8L697.1 94.5M700.1 89.3L697.1 94.5L703.1 94.5M724 87.8L712.1 94.2M715.3 89.1L712.1 94.2L718.1 94.4M282.9 105.2L272.3 113.6M274.5 108L272.3 113.6L278.3 112.7M298.1 105.2L287.6 113.6M289.7 108L287.6 113.6L293.5 112.7M313.3 105.2L302.8 113.6M305 108L302.8 113.6L308.7 112.7M435 105.2L424.4 113.6M426.6 108L424.4 113.6L430.4 112.7M480.6 105.2L470 113.6M472.3 108L470 113.6L476 112.7M511 105.2L500.4 113.5M502.7 108L500.4 113.5L506.4 112.7M526.2 105.2L515.6 113.5M517.9 108L515.6 113.5L521.6 112.7M571.9 105.2L561.1 113.3M563.4 107.8L561.1 113.3L567 112.6M587.1 105.2L576.2 113.2M578.6 107.7L576.2 113.2L582.2 112.5M602.3 105.2L591.4 113.1M593.8 107.6L591.4 113.1L597.3 112.5M617.5 105.2L606.5 113M609 107.6L606.5 113L612.5 112.5M632.7 105.2L621.6 112.9M624.2 107.5L621.6 112.9L627.6 112.4M663.1 105.2L651.9 112.6M654.6 107.3L651.9 112.6L657.9 112.3M678.3 105.2L666.9 112.4M669.7 107.1L666.9 112.4L672.9 112.2M693.5 105.2L681.9 112.1M684.9 106.9L681.9 112.1L687.9 112M708.8 105.2L697 111.8M700.1 106.6L697 111.8L703 111.9M237.2 122.7L226.3 130.5M228.8 125.1L226.3 130.5L232.3 129.9M252.5 122.7L241.5 130.5M244 125.1L241.5 130.5L247.5 129.9M435 122.7L424 130.5M426.5 125L424 130.5L430 129.9M495.8 122.7L484.7 130.3M487.3 124.9L484.7 130.3L490.7 129.8M571.9 122.7L560.6 130.1M563.3 124.7L560.6 130.1L566.6 129.7M465.4 140.1L453.9 147.2M456.8 141.9L453.9 147.2L459.9 147M632.7 140.1L621 146.8M624 141.6L621 146.8L627 146.8M389.4 157.5L377.6 164.1M380.7 158.9L377.6 164.1L383.6 164.2M465.4 157.5L453.8 164.4M456.8 159.2L453.8 164.4L459.8 164.3M617.5 157.5L605.9 164.4M608.9 159.2L605.9 164.4L611.9 164.3M663.1 157.5L651.4 164.2M654.4 159L651.4 164.2L657.4 164.2M678.3 157.5L666.5 164M669.6 158.9L666.5 164L672.5 164.1M541.5 174.9L530.4 182.7M532.9 177.2L530.4 182.7L536.4 182.1M602.3 174.9L590.9 182.1M593.7 176.8L590.9 182.1L596.9 181.9M617.5 174.9L606 182M608.9 176.7L606 182L612 181.8M267.7 192.4L255.2 197.4M258.9 192.7L255.2 197.4L261.1 198.2M343.7 192.4L331.2 197.4M334.9 192.7L331.2 197.4L337.2 198.2M587.1 192.4L576 200M578.6 194.6L576 200L582 199.5M891.3 227.2L881.8 236.7M883.3 230.9L881.8 236.7L887.5 235.2M602.3 244.6L590.1 250.3M593.5 245.4L590.1 250.3L596 250.8M784.8 244.6L772.6 250.4M776 245.4L772.6 250.4L778.6 250.9M800 244.6L787.8 250.4M791.3 245.5L787.8 250.4L793.8 250.9M754.4 262.1L742.2 267.9M745.6 262.9L742.2 267.9L748.2 268.3M769.6 262.1L757.5 267.9M760.8 263L757.5 267.9L763.5 268.4M602.3 296.9L589.6 301.4M593.5 296.9L589.6 301.4L595.5 302.5M617.5 314.4L604.8 318.9M608.7 314.3L604.8 318.9L610.7 319.9M526.2 331.8L513 334.3M517.5 330.4L513 334.3L518.7 336.3M541.5 331.8L528.2 334.4M532.7 330.4L528.2 334.4L533.9 336.3M556.7 331.8L543.5 334.7M547.9 330.7L543.5 334.7L549.2 336.5M647.9 331.8L635.4 336.7M639.1 332L635.4 336.7L641.3 337.6M647.9 349.2L635.4 354.1M639.1 349.4L635.4 354.1L641.3 355M663.1 349.2L650.7 354.4M654.3 349.6L650.7 354.4L656.6 355.1M678.3 349.2L666 354.6M669.6 349.8L666 354.6L671.9 355.3M693.5 349.2L681.3 354.8M684.8 349.9L681.3 354.8L687.3 355.4M891.3 349.2L880.2 356.9M882.8 351.4L880.2 356.9L886.2 356.4M526.2 366.6L513 369.2M517.5 365.2L513 369.2L518.7 371.1M602.3 366.6L589.5 371M593.5 366.5L589.5 371L595.4 372.1M617.5 366.6L604.9 371.4M608.7 366.7L604.9 371.4L610.8 372.4M632.7 366.6L620.3 371.8M623.9 367L620.3 371.8L626.2 372.6M647.9 366.6L635.6 372.2M639.1 367.3L635.6 372.2L641.6 372.8M678.3 366.6L666.3 372.7M669.6 367.7L666.3 372.7L672.3 373M693.5 366.6L681.6 372.9M684.8 367.8L681.6 372.9L687.6 373.2M617.5 384.1L605.2 389.5M608.7 384.6L605.2 389.5L611.1 390.1M632.7 384.1L620.6 389.9M623.9 384.9L620.6 389.9L626.5 390.3M647.9 384.1L636 390.3M639.2 385.2L636 390.3L642 390.6M663.1 384.1L651.4 390.6M654.4 385.5L651.4 390.6L657.4 390.7M678.3 384.1L666.7 390.8M669.7 385.6L666.7 390.8L672.7 390.8M693.5 384.1L682 391M684.9 385.8L682 391L688 390.9M708.8 384.1L697.4 391.2M700.2 385.9L697.4 391.2L703.3 391M724 384.1L712.7 391.4M715.4 386.1L712.7 391.4L718.7 391.1M739.2 384.1L728 391.6M730.6 386.2L728 391.6L734 391.2M784.8 384.1L774 392.1M776.4 386.6L774 392.1L780 391.4M511 401.5L497.6 401.5M502.8 398.5L497.6 401.5L502.8 404.5M587.1 401.5L574.6 406.6M578.3 401.9L574.6 406.6L580.6 407.4M647.9 401.5L636.4 408.4M639.3 403.2L636.4 408.4L642.4 408.3M663.1 401.5L651.8 408.7M654.5 403.4L651.8 408.7L657.8 408.5M678.3 401.5L667.1 408.9M669.8 403.6L667.1 408.9L673.1 408.6M693.5 401.5L682.4 409.1M685 403.7L682.4 409.1L688.4 408.6M708.8 401.5L697.8 409.3M700.3 403.9L697.8 409.3L703.8 408.7M769.6 401.5L759.2 410.1M761.3 404.4L759.2 410.1L765.1 409.1M800 401.5L789.8 410.2M791.8 404.6L789.8 410.2L795.7 409.1M571.9 418.9L559.5 424.3M563.1 419.5L559.5 424.3L565.5 425M647.9 418.9L636.7 426.4M639.4 421L636.7 426.4L642.7 426M678.3 418.9L667.6 427M669.9 421.5L667.6 427L673.5 426.3M693.5 418.9L683 427.3M685.2 421.7L683 427.3L688.9 426.4M708.8 418.9L698.4 427.6M700.5 421.9L698.4 427.6L704.3 426.5M739.2 418.9L729.3 428.1M731.1 422.4L729.3 428.1L735.2 426.7M450.2 436.3L438 442.1M441.4 437.1L438 442.1L444 442.6M465.4 436.3L453.1 441.9M456.6 437L453.1 441.9L459.1 442.5M511 436.3L498.6 441.5M502.2 436.8L498.6 441.5L504.5 442.3M526.2 436.3L513.7 441.4M517.4 436.7L513.7 441.4L519.7 442.2M571.9 436.3L558.4 436.3M563.6 433.3L558.4 436.3L563.6 439.3M602.3 436.3L590.7 443.2M593.6 438L590.7 443.2L596.7 443.1M617.5 436.3L604 436.3M609.2 433.3L604 436.3L609.2 439.3M693.5 436.3L693.5 449.8M690.5 444.6L693.5 449.8L696.5 444.6M708.8 436.3L699.1 445.8M700.7 440L699.1 445.8L704.9 444.3M724 436.3L714.7 446.1M716.1 440.3L714.7 446.1L720.4 444.4M754.4 436.3L745.8 446.7M746.8 440.8L745.8 446.7L751.4 444.6M769.6 436.3L761.4 447M762.2 441.1L761.4 447L766.9 444.7M784.8 436.3L776.7 447.1M777.4 441.2L776.7 447.1L782.2 444.8M800 436.3L791.8 447M792.6 441.1L791.8 447L797.4 444.7M815.2 436.3L806.9 447M807.8 441L806.9 447L812.5 444.7M830.4 436.3L822 446.9M822.9 440.9L822 446.9L827.6 444.7M465.4 453.8L453.5 460.1M456.7 455L453.5 460.1L459.5 460.3M480.6 453.8L468.6 459.9M471.9 454.9L468.6 459.9L474.6 460.2M495.8 453.8L483.8 459.8M487.1 454.8L483.8 459.8L489.8 460.2M526.2 453.8L521.6 466.4M520.6 460.5L521.6 466.4L526.2 462.6M541.5 453.8L529.3 459.7M532.7 454.7L529.3 459.7L535.3 460.1M708.8 453.8L699.9 463.9M701 458L699.9 463.9L705.6 462M724 453.8L715.5 464.3M716.4 458.3L715.5 464.3L721.1 462.1M739.2 453.8L739.2 467.2M736.2 462L739.2 467.2L742.2 462M769.6 453.8L762.6 465.3M762.7 459.3L762.6 465.3L767.9 462.4M784.8 453.8L778 465.4M778 459.4L778 465.4L783.2 462.4M800 453.8L793 465.3M793.1 459.3L793 465.3L798.3 462.4M815.2 453.8L808 465.1M808.3 459.1L808 465.1L813.3 462.4M830.4 453.8L823 465M823.4 459L823 465L828.4 462.3M891.3 453.8L883.1 464.5M883.9 458.5L883.1 464.5L888.6 462.2M435 471.2L423.7 478.6M426.4 473.2L423.7 478.6L429.7 478.2M450.2 471.2L438.9 478.6M441.6 473.2L438.9 478.6L444.9 478.2M480.6 471.2L469.4 478.6M472 473.2L469.4 478.6L475.3 478.2M495.8 471.2L484.6 478.6M487.3 473.2L484.6 478.6L490.6 478.2M511 471.2L499.8 478.6M502.5 473.2L499.8 478.6L505.8 478.2M526.2 471.2L515 478.6M517.7 473.2L515 478.6L521 478.2M632.7 471.2L623 480.6M624.7 474.8L623 480.6L628.9 479.1M724 471.2L716.8 482.6M717 476.6L716.8 482.6L722.1 479.8M739.2 471.2L739.2 484.7M736.2 479.5L739.2 484.7L742.2 479.5M784.8 471.2L779.4 483.5M778.7 477.6L779.4 483.5L784.2 480M800 471.2L794.5 483.5M793.9 477.5L794.5 483.5L799.3 480M815.2 471.2L809.5 483.4M809 477.4L809.5 483.4L814.5 480M389.4 488.6L378.5 496.6M380.9 491.1L378.5 496.6L384.4 495.9M435 488.6L424.3 496.8M426.6 491.3L424.3 496.8L430.3 496M450.2 488.6L439.6 497M441.8 491.4L439.6 497L445.5 496.1M480.6 488.6L470.2 497.2M472.3 491.6L470.2 497.2L476.1 496.2M511 488.6L500.8 497.4M502.8 491.7L500.8 497.4L506.7 496.3M739.2 488.6L733.9 501M733.2 495.1L733.9 501L738.7 497.4M754.4 488.6L749.7 501.2M748.7 495.3L749.7 501.2L754.3 497.4M800 488.6L795.4 501.3M794.4 495.4L795.4 501.3L800 497.4M815.2 488.6L810.6 501.3M809.6 495.4L810.6 501.3L815.2 497.4M860.9 488.6L856.3 501.3M855.2 495.4L856.3 501.3L860.8 497.4M876.1 488.6L866.5 498.1M868.1 492.4L866.5 498.1L872.3 496.6M891.3 488.6L886.7 501.3M885.6 495.4L886.7 501.3L891.3 497.4M480.6 506L471.2 515.7M472.7 509.9L471.2 515.7L477 514.1M495.8 506L486.6 515.9M488 510L486.6 515.9L492.4 514.1M678.3 506L668.8 515.6M670.4 509.8L668.8 515.6L674.6 514M754.4 506L751.2 519.1M749.5 513.4L751.2 519.1L755.3 514.8M769.6 506L767 519.3M765 513.6L767 519.3L770.9 514.8M784.8 506L782.5 519.3M780.4 513.7L782.5 519.3L786.3 514.7M800 506L797.7 519.3M795.6 513.7L797.7 519.3L801.5 514.7M845.7 506L843.3 519.3M841.3 513.7L843.3 519.3L847.2 514.7M860.9 506L858.5 519.3M856.5 513.7L858.5 519.3L862.4 514.7M906.5 506L904.2 519.3M902.1 513.7L904.2 519.3L908 514.7M936.9 506L934.6 519.3M932.5 513.7L934.6 519.3L938.4 514.7M952.1 506L947.5 518.7M946.5 512.8L947.5 518.7L952.1 514.9M343.7 523.5L333.9 532.8M335.6 527L333.9 532.8L339.8 531.3M495.8 523.5L491.2 536.1M490.2 530.2L491.2 536.1L495.8 532.3M754.4 523.5L752.4 536.8M750.2 531.2L752.4 536.8L756.1 532.1M769.6 523.5L767.6 536.8M765.4 531.2L767.6 536.8L771.3 532.1M815.2 523.5L813.1 536.8M811 531.2L813.1 536.8L816.9 532.1M830.4 523.5L828.3 536.8M826.2 531.2L828.3 536.8L832.1 532.1M845.7 523.5L843.5 536.8M841.4 531.2L843.5 536.8L847.3 532.1M860.9 523.5L858.7 536.8M856.6 531.2L858.7 536.8L862.5 532.1M876.1 523.5L873.9 536.8M871.8 531.2L873.9 536.8L877.7 532.1M891.3 523.5L889.1 536.8M887 531.2L889.1 536.8L892.9 532.1M906.5 523.5L904.3 536.8M902.2 531.2L904.3 536.8L908.1 532.1M921.7 523.5L919.5 536.8M917.4 531.2L919.5 536.8L923.3 532.1M936.9 523.5L934.7 536.8M932.6 531.2L934.7 536.8L938.5 532.1M952.1 523.5L950 536.8M947.8 531.2L950 536.8L953.8 532.1M328.5 540.9L319 550.4M320.5 544.6L319 550.4L324.8 548.9M815.2 540.9L813.4 554.3M811.1 548.7L813.4 554.3L817.1 549.5M830.4 540.9L828.6 554.2M826.3 548.7L828.6 554.2L832.3 549.5M906.5 540.9L904.5 554.2M902.3 548.6L904.5 554.2L908.2 549.5M921.7 540.9L919.7 554.2M917.5 548.6L919.7 554.2L923.4 549.5M936.9 540.9L934.9 554.2M932.7 548.6L934.9 554.2L938.7 549.5M952.1 540.9L950.1 554.2M947.9 548.6L950.1 554.2L953.9 549.5M282.9 558.3L271.9 566.2M274.4 560.7L271.9 566.2L277.9 565.6M298.1 558.3L287.5 566.6M289.7 561.1L287.5 566.6L293.4 565.8M313.3 558.3L303.5 567.6M305.2 561.8L303.5 567.6L309.3 566.2M800 558.3L798.5 571.7M796.1 566.2L798.5 571.7L802.1 566.9M830.4 558.3L835.6 570.8M830.8 567.1L835.6 570.8L836.4 564.8M845.7 558.3L850.8 570.8M846 567.1L850.8 570.8L851.6 564.8M267.7 575.8L258.1 585.3M259.7 579.5L258.1 585.3L263.9 583.7M815.2 593.2L813.7 606.6M811.3 601.1L813.7 606.6L817.3 601.7M845.7 593.2L844 606.6M841.7 601L844 606.6L847.6 601.8M860.9 610.6L856.3 623.3M855.2 617.4L856.3 623.3L860.8 619.4M754.4 628L754.7 641.5M751.6 636.4L754.7 641.5L757.6 636.2M860.9 628L851.3 637.6M852.9 631.8L851.3 637.6L857.1 636M754.4 645.5L754.3 658.9M751.3 653.7L754.3 658.9L757.3 653.8M845.7 645.5L836.1 655M837.7 649.2L836.1 655L841.9 653.4M860.9 645.5L851.3 655M852.9 649.2L851.3 655L857.1 653.4M815.2 662.9L810.6 675.6M809.6 669.6L810.6 675.6L815.2 671.7M800 680.3L795.4 693M794.4 687.1L795.4 693L800 689.1M815.2 680.3L810.6 693M809.6 687.1L810.6 693L815.2 689.1M845.7 680.3L841 693M840 687.1L841 693L845.6 689.1M860.9 680.3L856.3 693M855.2 687.1L856.3 693L860.8 689.1M739.2 697.7L738.4 711.2M735.7 705.8L738.4 711.2L741.7 706.2M800 697.7L795.4 710.4M794.4 704.5L795.4 710.4L800 706.6M845.7 697.7L841 710.4M840 704.5L841 710.4L845.6 706.6M860.9 697.7L856.3 710.4M855.2 704.5L856.3 710.4L860.8 706.6M724 715.2L723.2 728.6M720.5 723.3L723.2 728.6L726.5 723.6M800 715.2L795.4 727.8M794.4 721.9L795.4 727.8L800 724M845.7 715.2L841 727.8M840 721.9L841 727.8L845.6 724M724 732.6L722.3 746M720 740.5L722.3 746L725.9 741.2M800 732.6L796.8 745.7M795.1 739.9L796.8 745.7L801 741.4M845.7 732.6L842.6 745.7M840.9 740L842.6 745.7L846.7 741.3M708.8 750L704.2 762.7M703.1 756.8L704.2 762.7L708.7 758.8M724 750L721.5 763.3M719.5 757.6L721.5 763.3L725.4 758.7M739.2 750L736.4 763.2M734.5 757.5L736.4 763.2L740.4 758.7M784.8 750L781.4 763M779.8 757.3L781.4 763L785.6 758.8M800 750L796.6 763.1M795 757.3L796.6 763.1L800.8 758.8M724 767.5L721.5 780.7M719.5 775L721.5 780.7L725.4 776.1M739.2 767.5L736.4 780.6M734.5 774.9L736.4 780.6L740.4 776.2M754.4 767.5L751.3 780.6M749.6 774.8L751.3 780.6L755.4 776.2M784.8 767.5L781.4 780.5M779.8 774.7L781.4 780.5L785.6 776.2M860.9 767.5L857.7 780.5M856 774.8L857.7 780.5L861.8 776.2M708.8 784.9L708.8 798.4M705.8 793.2L708.8 798.4L711.8 793.2M724 784.9L721.5 798.1M719.5 792.5L721.5 798.1L725.4 793.6M739.2 784.9L736.4 798.1M734.5 792.4L736.4 798.1L740.4 793.6M860.9 784.9L857.7 798M856 792.2L857.7 798L861.8 793.6M678.3 802.3L678.3 815.8M675.3 810.6L678.3 815.8L681.3 810.6M693.5 802.3L693.5 815.8M690.5 810.6L693.5 815.8L696.5 810.6M708.8 802.3L708.8 815.8M705.8 810.6L708.8 815.8L711.8 810.6M678.3 819.7L678.3 833.2M675.3 828L678.3 833.2L681.3 828M693.5 819.7L693.5 833.2M690.5 828L693.5 833.2L696.5 828M708.8 819.7L708.8 833.2M705.8 828L708.8 833.2L711.8 828"/>
<path stroke="#00c8c8" d="M298.1 87.8L284.8 98.9M286.9 93.3L284.8 98.9L290.7 97.9M404.6 87.8L391.3 98.9M393.3 93.3L391.3 98.9L397.2 97.9M419.8 87.8L406.5 98.9M408.6 93.3L406.5 98.9L412.4 97.9M541.5 87.8L528.1 98.9M530.2 93.2L528.1 98.9L534 97.9M556.7 87.8L543.2 98.7M545.4 93.1L543.2 98.7L549.1 97.8M571.9 87.8L558.3 98.6M560.5 93L558.3 98.6L564.2 97.7M739.2 87.8L723.7 95.6M727 90.6L723.7 95.6L729.7 95.9M754.4 87.8L738.7 95.2M742.1 90.3L738.7 95.2L744.7 95.7M769.6 87.8L753.7 94.8M757.3 89.9L753.7 94.8L759.7 95.4M784.8 87.8L768.9 94.6M772.5 89.8L768.9 94.6L774.8 95.3M800 87.8L784.1 94.6M787.7 89.8L784.1 94.6L790 95.3M404.6 105.2L391 116M393.2 110.4L391 116L397 115.1M419.8 105.2L406.2 116M408.4 110.4L406.2 116L412.2 115.1M541.5 105.2L527.8 115.8M530 110.3L527.8 115.8L533.7 115M556.7 105.2L542.9 115.7M545.2 110.2L542.9 115.7L548.8 115M724 105.2L708.6 113.3M711.8 108.2L708.6 113.3L714.6 113.5M739.2 105.2L723.7 112.9M727 107.9L723.7 112.9L729.7 113.3M784.8 105.2L768.9 112M772.5 107.2L768.9 112L774.8 112.7M800 105.2L784.1 112M787.7 107.2L784.1 112L790 112.7M511 122.7L496.7 132.4M499.3 127L496.7 132.4L502.7 132M526.2 122.7L511.9 132.4M514.5 127L511.9 132.4L517.9 131.9M541.5 122.7L527.1 132.3M529.7 126.9L527.1 132.3L533.1 131.9M556.7 122.7L542.2 132.2M544.9 126.9L542.2 132.2L548.2 131.9M587.1 122.7L572.6 132.1M575.3 126.8L572.6 132.1L578.6 131.8M602.3 122.7L587.7 132.1M590.5 126.7L587.7 132.1L593.7 131.8M617.5 122.7L602.9 132M605.7 126.7L602.9 132L608.9 131.7M632.7 122.7L618.1 131.9M620.9 126.6L618.1 131.9L624.1 131.7M647.9 122.7L633.2 131.9M636.1 126.6L633.2 131.9L639.2 131.6M678.3 122.7L663.4 131.4M666.4 126.2L663.4 131.4L669.4 131.4M693.5 122.7L678.4 131.1M681.5 125.9L678.4 131.1L684.4 131.2M708.8 122.7L693.5 130.8M696.6 125.7L693.5 130.8L699.5 131M739.2 122.7L723.6 130.2M727 125.2L723.6 130.2L729.6 130.6M754.4 122.7L738.6 129.9M742.1 125L738.6 129.9L744.6 130.4M374.1 140.1L359.6 149.5M362.3 144.2L359.6 149.5L365.6 149.2M450.2 140.1L435.5 149.3M438.3 144L435.5 149.3L441.5 149.1M480.6 140.1L465.8 149.1M468.7 143.8L465.8 149.1L471.8 148.9M495.8 140.1L481 149M483.9 143.7L481 149L487 148.9M511 140.1L496.1 148.9M499.1 143.7L496.1 148.9L502.1 148.8M526.2 140.1L511.3 148.8M514.2 143.6L511.3 148.8L517.3 148.8M541.5 140.1L526.4 148.7M529.4 143.5L526.4 148.7L532.4 148.7M556.7 140.1L541.7 148.7M544.7 143.5L541.7 148.7L547.7 148.7M571.9 140.1L556.9 148.7M559.9 143.5L556.9 148.7L562.9 148.7M587.1 140.1L572.1 148.7M575.1 143.5L572.1 148.7L578.1 148.7M602.3 140.1L587.3 148.7M590.3 143.5L587.3 148.7L593.3 148.7M617.5 140.1L602.5 148.7M605.5 143.5L602.5 148.7L608.5 148.7M647.9 140.1L632.9 148.7M635.9 143.5L632.9 148.7L638.9 148.7M663.1 140.1L648.1 148.6M651.1 143.5L648.1 148.6L654.1 148.7M678.3 140.1L663.1 148.4M666.3 143.3L663.1 148.4L669.1 148.5M693.5 140.1L678.2 148.2M681.4 143.1L678.2 148.2L684.2 148.4M708.8 140.1L693.3 147.9M696.6 142.9L693.3 147.9L699.3 148.3M739.2 140.1L723.5 147.5M726.9 142.5L723.5 147.5L729.5 148M313.3 157.5L298.2 166M301.3 160.8L298.2 166L304.2 166.1M435 157.5L420 166.2M423 161L420 166.2L426 166.2M495.8 157.5L481.1 166.6M483.9 161.3L481.1 166.6L487.1 166.4M511 157.5L496.3 166.7M499.2 161.4L496.3 166.7L502.3 166.5M526.2 157.5L511.6 166.8M514.4 161.5L511.6 166.8L517.6 166.5M541.5 157.5L526.8 166.8M529.6 161.5L526.8 166.8L532.8 166.6M556.7 157.5L542 166.7M544.8 161.4L542 166.7L548 166.5M571.9 157.5L557.2 166.6M560 161.4L557.2 166.6L563.1 166.5M602.3 157.5L587.5 166.5M590.4 161.2L587.5 166.5L593.5 166.4M632.7 157.5L617.8 166.3M620.7 161.1L617.8 166.3L623.8 166.2M647.9 157.5L632.9 166.2M635.9 161L632.9 166.2L638.9 166.2M693.5 157.5L678.2 165.6M681.4 160.5L678.2 165.6L684.2 165.8M708.8 157.5L693.3 165.4M696.6 160.4L693.3 165.4L699.3 165.7M739.2 157.5L723.5 164.9M726.9 160L723.5 164.9L729.5 165.4M754.4 157.5L738.6 164.7M742.1 159.8L738.6 164.7L744.6 165.3M769.6 157.5L753.7 164.5M757.3 159.6L753.7 164.5L759.7 165.1M784.8 157.5L768.9 164.4M772.5 159.6L768.9 164.4L774.9 165.1M328.5 174.9L312.9 182.4M316.3 177.5L312.9 182.4L318.9 182.9M404.6 174.9L388.9 182.4M392.3 177.5L388.9 182.4L394.9 182.9M480.6 174.9L465.8 183.9M468.7 178.6L465.8 183.9L471.8 183.8M511 174.9L496.6 184.5M499.3 179.1L496.6 184.5L502.6 184.1M526.2 174.9L512 184.8M514.6 179.4L512 184.8L518 184.3M556.7 174.9L542.4 184.7M545 179.3L542.4 184.7L548.3 184.3M571.9 174.9L557.5 184.5M560.1 179.2L557.5 184.5L563.4 184.2M587.1 174.9L572.6 184.4M575.3 179L572.6 184.4L578.5 184.1M632.7 174.9L617.9 183.9M620.8 178.6L617.9 183.9L623.9 183.8M647.9 174.9L633 183.7M635.9 178.5L633 183.7L639 183.6M663.1 174.9L648.1 183.5M651.1 178.3L648.1 183.5L654.1 183.5M678.3 174.9L663.2 183.3M666.3 178.2L663.2 183.3L669.2 183.4M693.5 174.9L678.3 183.1M681.4 178L678.3 183.1L684.3 183.3M708.8 174.9L693.4 182.9M696.6 177.8L693.4 182.9L699.3 183.2M724 174.9L708.5 182.6M711.8 177.6L708.5 182.6L714.4 183M739.2 174.9L723.6 182.4M726.9 177.5L723.6 182.4L729.5 182.9M754.4 174.9L738.7 182.2M742.1 177.3L738.7 182.2L744.6 182.8M784.8 174.9L768.9 181.9M772.5 177.1L768.9 181.9L774.9 182.6M237.2 192.4L221.2 198.9M224.9 194.1L221.2 198.9L227.1 199.7M252.5 192.4L236.4 198.9M240.1 194.1L236.4 198.9L242.3 199.7M282.9 192.4L266.8 198.9M270.5 194.1L266.8 198.9L272.8 199.7M374.1 192.4L358.1 198.9M361.8 194.1L358.1 198.9L364 199.7M511 192.4L496.8 202.3M499.4 196.9L496.8 202.3L502.8 201.8M526.2 192.4L512.4 202.8M514.7 197.3L512.4 202.8L518.4 202.1M541.5 192.4L527.7 202.9M530 197.4L527.7 202.9L533.7 202.1M556.7 192.4L542.7 202.7M545.1 197.2L542.7 202.7L548.7 202M571.9 192.4L557.8 202.4M560.3 197L557.8 202.4L563.7 201.8M602.3 192.4L587.8 201.9M590.5 196.6L587.8 201.9L593.8 201.6M617.5 192.4L602.9 201.7M605.7 196.3L602.9 201.7L608.9 201.4M632.7 192.4L617.9 201.4M620.8 196.1L617.9 201.4L623.9 201.3M647.9 192.4L633 201.2M635.9 195.9L633 201.2L639 201.1M663.1 192.4L648.1 200.9M651.1 195.7L648.1 200.9L654.1 201M678.3 192.4L663.2 200.7M666.3 195.6L663.2 200.7L669.2 200.8M693.5 192.4L678.3 200.5M681.4 195.4L678.3 200.5L684.3 200.7M708.8 192.4L693.4 200.3M696.6 195.3L693.4 200.3L699.4 200.6M724 192.4L708.5 200.1M711.8 195.1L708.5 200.1L714.5 200.5M739.2 192.4L723.6 199.9M727 195L723.6 199.9L729.6 200.4M754.4 192.4L738.7 199.7M742.1 194.8L738.7 199.7L744.7 200.2M921.7 192.4L906 199.7M909.4 194.8L906 199.7L912 200.2M358.9 209.8L342.8 216M346.5 211.3L342.8 216L348.7 216.9M571.9 209.8L557.2 219M560 213.7L557.2 219L563.2 218.8M587.1 209.8L572.3 218.8M575.2 213.6L572.3 218.8L578.3 218.7M602.3 209.8L587.4 218.6M590.3 213.4L587.4 218.6L593.4 218.5M617.5 209.8L602.5 218.4M605.5 213.2L602.5 218.4L608.5 218.4M632.7 209.8L617.5 218.2M620.6 213L617.5 218.2L623.5 218.3M647.9 209.8L632.6 217.9M635.8 212.9L632.6 217.9L638.6 218.1M678.3 209.8L662.9 217.7M666.2 212.6L662.9 217.7L668.9 218M693.5 209.8L678.1 217.6M681.4 212.5L678.1 217.6L684.1 217.9M708.8 209.8L693.2 217.4M696.6 212.5L693.2 217.4L699.2 217.8M724 209.8L708.4 217.3M711.7 212.4L708.4 217.3L714.4 217.8M739.2 209.8L723.5 217.2M726.9 212.3L723.5 217.2L729.5 217.7M754.4 209.8L738.7 217.1M742.1 212.2L738.7 217.1L744.7 217.6M769.6 209.8L753.8 217M757.3 212.1L753.8 217L759.8 217.6M784.8 209.8L769 216.9M772.5 212.1L769 216.9L775 217.5M571.9 227.2L556.7 235.6M559.8 230.5L556.7 235.6L562.7 235.7M587.1 227.2L571.8 235.4M575 230.3L571.8 235.4L577.8 235.6M602.3 227.2L586.9 235.3M590.2 230.2L586.9 235.3L592.9 235.5M617.5 227.2L602.1 235.1M605.3 230L602.1 235.1L608.1 235.4M632.7 227.2L617.2 234.9M620.5 229.9L617.2 234.9L623.2 235.3M647.9 227.2L632.3 234.7M635.7 229.8L632.3 234.7L638.3 235.2M663.1 227.2L647.5 234.6M650.9 229.7L647.5 234.6L653.4 235.1M678.3 227.2L662.7 234.6M666.1 229.7L662.7 234.6L668.6 235.1M708.8 227.2L693.1 234.5M696.5 229.6L693.1 234.5L699 235.1M724 227.2L708.3 234.5M711.7 229.6L708.3 234.5L714.2 235.1M739.2 227.2L723.5 234.5M726.9 229.6L723.5 234.5L729.4 235M754.4 227.2L738.7 234.5M742.1 229.6L738.7 234.5L744.6 235M769.6 227.2L753.9 234.5M757.3 229.6L753.9 234.5L759.8 235M784.8 227.2L769.1 234.5M772.5 229.6L769.1 234.5L775 235M800 227.2L784.3 234.5M787.8 229.6L784.3 234.5L790.3 235M876.1 227.2L860.4 234.7M863.8 229.7L860.4 234.7L866.4 235.1M556.7 244.6L541.1 252.3M544.5 247.3L541.1 252.3L547.1 252.7M571.9 244.6L556.3 252.2M559.6 247.2L556.3 252.2L562.2 252.6M587.1 244.6L571.4 252M574.8 247.1L571.4 252L577.4 252.5M617.5 244.6L601.7 251.8M605.2 246.9L601.7 251.8L607.7 252.4M632.7 244.6L616.9 251.6M620.4 246.8L616.9 251.6L622.8 252.3M663.1 244.6L647.2 251.4M650.8 246.6L647.2 251.4L653.2 252.2M678.3 244.6L662.4 251.5M666 246.7L662.4 251.5L668.4 252.2M708.8 244.6L692.9 251.7M696.5 246.8L692.9 251.7L698.9 252.3M724 244.6L708.2 251.7M711.7 246.9L708.2 251.7L714.1 252.3M739.2 244.6L723.4 251.8M726.9 246.9L723.4 251.8L729.4 252.4M754.4 244.6L738.6 251.9M742.1 247L738.6 251.9L744.6 252.4M769.6 244.6L753.9 251.9M757.3 247L753.9 251.9L759.9 252.5M830.4 244.6L814.8 252.1M818.2 247.1L814.8 252.1L820.8 252.6M556.7 262.1L540.7 268.8M544.3 264L540.7 268.8L546.7 269.6M571.9 262.1L555.9 268.8M559.5 264L555.9 268.8L561.9 269.6M587.1 262.1L571.1 268.8M574.7 264L571.1 268.8L577.1 269.6M602.3 262.1L586.3 268.8M590 264L586.3 268.8L592.3 269.6M617.5 262.1L601.6 268.8M605.2 264L601.6 268.8L607.5 269.6M632.7 262.1L616.8 268.8M620.4 264L616.8 268.8L622.7 269.6M647.9 262.1L632 268.8M635.6 264L632 268.8L637.9 269.6M663.1 262.1L647.2 268.9M650.8 264.1L647.2 268.9L653.2 269.6M678.3 262.1L662.5 269M666 264.2L662.5 269L668.4 269.7M693.5 262.1L677.7 269.1M681.2 264.2L677.7 269.1L683.7 269.7M708.8 262.1L693 269.2M696.5 264.3L693 269.2L698.9 269.8M724 262.1L708.2 269.3M711.7 264.4L708.2 269.3L714.2 269.9M739.2 262.1L723.5 269.4M726.9 264.5L723.5 269.4L729.5 269.9M784.8 262.1L769.2 269.7M772.6 264.7L769.2 269.7L775.2 270.1M800 262.1L784.5 269.7M787.8 264.7L784.5 269.7L790.5 270.1M845.7 262.1L830.2 269.9M833.5 264.9L830.2 269.9L836.2 270.2M541.5 279.5L525.1 285.2M529 280.7L525.1 285.2L531 286.3M556.7 279.5L540.4 285.4M544.2 280.8L540.4 285.4L546.3 286.4M571.9 279.5L555.6 285.5M559.5 280.9L555.6 285.5L561.5 286.5M587.1 279.5L570.9 285.6M574.7 281L570.9 285.6L576.8 286.6M602.3 279.5L586.1 285.8M589.9 281.1L586.1 285.8L592.1 286.7M617.5 279.5L601.4 285.9M605.1 281.2L601.4 285.9L607.3 286.8M647.9 279.5L631.9 286.2M635.6 281.4L631.9 286.2L637.9 287M663.1 279.5L647.2 286.3M650.8 281.5L647.2 286.3L653.2 287M678.3 279.5L662.5 286.5M666 281.6L662.5 286.5L668.4 287.1M693.5 279.5L677.8 286.6M681.3 281.7L677.8 286.6L683.7 287.2M708.8 279.5L693 286.8M696.5 281.9L693 286.8L699 287.3M724 279.5L708.3 286.9M711.7 282L708.3 286.9L714.3 287.4M739.2 279.5L723.6 287M727 282.1L723.6 287L729.6 287.5M754.4 279.5L738.9 287.2M742.2 282.2L738.9 287.2L744.8 287.6M769.6 279.5L754.1 287.3M757.4 282.3L754.1 287.3L760.1 287.6M800 279.5L784.6 287.4M787.9 282.4L784.6 287.4L790.6 287.7M541.5 296.9L524.8 301.6M529 297.3L524.8 301.6L530.6 303.1M556.7 296.9L540 301.8M544.2 297.5L540 301.8L545.9 303.2M571.9 296.9L555.3 302.1M559.4 297.7L555.3 302.1L561.2 303.4M587.1 296.9L570.7 302.4M574.6 297.9L570.7 302.4L576.5 303.6M617.5 296.9L601.3 303M605.1 298.4L601.3 303L607.2 304M647.9 296.9L631.9 303.6M635.6 298.8L631.9 303.6L637.9 304.3M663.1 296.9L647.2 303.8M650.8 299L647.2 303.8L653.2 304.5M678.3 296.9L662.5 304M666 299.1L662.5 304L668.5 304.6M693.5 296.9L677.8 304.1M681.3 299.2L677.8 304.1L683.8 304.7M708.8 296.9L693.1 304.3M696.5 299.4L693.1 304.3L699.1 304.8M724 296.9L708.4 304.5M711.7 299.5L708.4 304.5L714.4 304.9M739.2 296.9L723.7 304.6M727 299.6L723.7 304.6L729.7 305M754.4 296.9L739 304.8M742.2 299.8L739 304.8L745 305.1M769.6 296.9L754.3 305M757.5 299.9L754.3 305L760.3 305.2M860.9 296.9L845.8 305.4M848.8 300.3L845.8 305.4L851.8 305.5M556.7 314.4L539.9 318.7M544.2 314.5L539.9 318.7L545.7 320.3M571.9 314.4L555.2 319.1M559.4 314.8L555.2 319.1L561 320.5M587.1 314.4L570.5 319.4M574.6 315L570.5 319.4L576.4 320.8M602.3 314.4L585.8 319.8M589.8 315.3L585.8 319.8L591.7 321M632.7 314.4L616.5 320.5M620.3 315.9L616.5 320.5L622.4 321.5M647.9 314.4L631.9 320.9M635.6 316.1L631.9 320.9L637.8 321.7M663.1 314.4L647.2 321.1M650.8 316.3L647.2 321.1L653.1 321.9M693.5 314.4L677.8 321.5M681.3 316.7L677.8 321.5L683.8 322.1M708.8 314.4L693.1 321.8M696.5 316.8L693.1 321.8L699.1 322.2M724 314.4L708.4 322M711.8 317L708.4 322L714.4 322.4M739.2 314.4L723.7 322.2M727 317.1L723.7 322.2L729.7 322.5M754.4 314.4L739 322.4M742.2 317.3L739 322.4L745 322.6M769.6 314.4L754.3 322.6M757.5 317.5L754.3 322.6L760.3 322.7M784.8 314.4L769.6 322.7M772.7 317.6L769.6 322.7L775.6 322.8M830.4 314.4L815.4 323M818.4 317.8L815.4 323L821.4 323M587.1 331.8L570.4 336.4M574.6 332.1L570.4 336.4L576.2 337.9M602.3 331.8L585.7 336.9M589.8 332.5L585.7 336.9L591.6 338.2M617.5 331.8L601.1 337.3M605 332.8L601.1 337.3L607 338.5M632.7 331.8L616.4 337.7M620.3 333.1L616.4 337.7L622.3 338.8M663.1 331.8L647.2 338.5M650.8 333.7L647.2 338.5L653.1 339.2M678.3 331.8L662.5 338.7M666 333.9L662.5 338.7L668.4 339.4M693.5 331.8L677.8 339M681.3 334.1L677.8 339L683.8 339.5M708.8 331.8L693.1 339.2M696.5 334.3L693.1 339.2L699.1 339.7M724 331.8L708.4 339.4M711.8 334.5L708.4 339.4L714.4 339.8M739.2 331.8L723.8 339.7M727 334.6L723.8 339.7L729.8 340M754.4 331.8L739.1 339.9M742.3 334.8L739.1 339.9L745.1 340.1M769.6 331.8L754.4 340.1M757.5 335L754.4 340.1L760.4 340.3M784.8 331.8L769.7 340.3M772.8 335.2L769.7 340.3L775.7 340.4M830.4 331.8L815.6 340.7M818.5 335.5L815.6 340.7L821.6 340.6M845.7 331.8L830.9 340.9M833.7 335.6L830.9 340.9L836.9 340.7M860.9 331.8L846.2 341M849 335.7L846.2 341L852.2 340.8M571.9 349.2L554.9 352.9M559.4 348.9L554.9 352.9L560.7 354.7M587.1 349.2L570.3 353.4M574.6 349.3L570.3 353.4L576 355.1M602.3 349.2L585.6 353.9M589.8 349.6L585.6 353.9L591.4 355.4M617.5 349.2L601 354.5M605 350L601 354.5L606.8 355.7M708.8 349.2L693.1 356.7M696.5 351.7L693.1 356.7L699.1 357.1M724 349.2L708.5 356.9M711.8 351.9L708.5 356.9L714.5 357.3M739.2 349.2L723.8 357.2M727 352.1L723.8 357.2L729.8 357.5M754.4 349.2L739.2 357.5M742.3 352.4L739.2 357.5L745.2 357.6M769.6 349.2L754.5 357.7M757.6 352.6L754.5 357.7L760.5 357.8M784.8 349.2L769.9 357.9M772.8 352.7L769.9 357.9L775.9 357.9M800 349.2L785.2 358.1M788.1 352.9L785.2 358.1L791.2 358M815.2 349.2L800.5 358.3M803.3 353L800.5 358.3L806.5 358.1M830.4 349.2L815.8 358.4M818.6 353.1L815.8 358.4L821.8 358.2M845.7 349.2L831.1 358.6M833.8 353.3L831.1 358.6L837.1 358.3M860.9 349.2L846.4 358.8M849.1 353.4L846.4 358.8L852.4 358.4M465.4 366.6L448.7 371.1M452.9 366.9L448.7 371.1L454.5 372.7M541.5 366.6L524.5 370M529 366.1L524.5 370L530.1 371.9M556.7 366.6L539.8 370.6M544.2 366.5L539.8 370.6L545.5 372.3M571.9 366.6L555.1 371.1M559.4 366.9L555.1 371.1L560.9 372.7M587.1 366.6L570.5 371.7M574.6 367.3L570.5 371.7L576.3 373M663.1 366.6L647.5 374.2M650.9 369.2L647.5 374.2L653.5 374.6M708.8 366.6L693.6 375M696.7 369.9L693.6 375L699.6 375.1M724 366.6L708.9 375.3M712 370.1L708.9 375.3L714.9 375.3M739.2 366.6L724.3 375.5M727.2 370.3L724.3 375.5L730.3 375.4M754.4 366.6L739.7 375.8M742.5 370.5L739.7 375.8L745.7 375.6M769.6 366.6L755 376M757.8 370.7L755 376L761 375.7M784.8 366.6L770.4 376.2M773 370.8L770.4 376.2L776.4 375.8M800 366.6L785.7 376.4M788.3 371L785.7 376.4L791.7 375.9M815.2 366.6L801 376.5M803.5 371.1L801 376.5L807 376M860.9 366.6L846.9 376.9M849.3 371.4L846.9 376.9L852.9 376.2M876.1 366.6L862.2 377M864.6 371.5L862.2 377L868.2 376.3M891.3 366.6L877.5 377.2M879.8 371.6L877.5 377.2L883.5 376.4M906.5 366.6L892.8 377.2M895.1 371.7L892.8 377.2L898.7 376.4M541.5 384.1L524.6 388.2M529 384L524.6 388.2L530.4 389.8M556.7 384.1L540 388.7M544.2 384.4L540 388.7L545.8 390.2M754.4 384.1L740.2 394M742.7 388.6L740.2 394L746.2 393.5M800 384.1L786.2 394.6M788.6 389L786.2 394.6L792.2 393.8M815.2 384.1L801.5 394.7M803.8 389.1L801.5 394.7L807.5 393.9M830.4 384.1L816.8 394.8M819.1 389.2L816.8 394.8L822.8 393.9M845.7 384.1L832.1 394.9M834.3 389.3L832.1 394.9L838.1 394M860.9 384.1L847.4 395M849.6 389.4L847.4 395L853.4 394M876.1 384.1L862.7 395.1M864.8 389.5L862.7 395.1L868.6 394.1M891.3 384.1L878 395.2M880.1 389.6L878 395.2L883.9 394.2M724 401.5L710 411.8M712.4 406.3L710 411.8L716 411.1M739.2 401.5L725.4 412M727.7 406.5L725.4 412L731.4 411.2M754.4 401.5L740.8 412.3M743 406.7L740.8 412.3L746.8 411.4M784.8 401.5L771.6 412.7M773.6 407L771.6 412.7L777.5 411.6M815.2 401.5L802.1 412.8M804.1 407.2L802.1 412.8L808 411.7M830.4 401.5L817.4 412.9M819.3 407.2L817.4 412.9L823.3 411.7M845.7 401.5L832.7 413M834.6 407.3L832.7 413L838.6 411.8M860.9 401.5L848 413.1M849.8 407.4L848 413.1L853.9 411.8M876.1 401.5L863.3 413.2M865.1 407.5L863.3 413.2L869.1 411.9M891.3 401.5L878.6 413.3M880.3 407.5L878.6 413.3L884.4 411.9M374.1 418.9L358.2 425.7M361.8 420.9L358.2 425.7L364.2 426.4M587.1 418.9L571.4 426.4M574.8 421.4L571.4 426.4L577.4 426.8M754.4 418.9L742 431M743.6 425.3L742 431L747.8 429.5M784.8 418.9L772.9 431.5M774.3 425.7L772.9 431.5L778.7 429.8M800 418.9L788.1 431.5M789.5 425.7L788.1 431.5L793.9 429.8M815.2 418.9L803.3 431.5M804.7 425.6L803.3 431.5L809 429.8M830.4 418.9L818.5 431.5M819.9 425.6L818.5 431.5L824.2 429.8M845.7 418.9L833.7 431.4M835.1 425.6L833.7 431.4L839.4 429.8M860.9 418.9L848.9 431.4M850.3 425.6L848.9 431.4L854.6 429.7M876.1 418.9L864.1 431.4M865.5 425.6L864.1 431.4L869.8 429.7M891.3 418.9L879.3 431.4M880.7 425.6L879.3 431.4L885 429.7M906.5 418.9L894.5 431.4M895.9 425.6L894.5 431.4L900.2 429.7M343.7 436.3L328.1 443.9M331.5 438.9L328.1 443.9L334.1 444.3M435 436.3L419.4 443.9M422.8 438.9L419.4 443.9L425.4 444.3M845.7 436.3L834.7 449.8M835.7 443.9L834.7 449.8L840.3 447.6M860.9 436.3L849.8 449.7M850.8 443.8L849.8 449.7L855.4 447.6M876.1 436.3L864.9 449.6M866 443.7L864.9 449.6L870.5 447.5M891.3 436.3L880 449.5M881.1 443.6L880 449.5L885.6 447.5M328.5 453.8L313.3 462.1M316.4 456.9L313.3 462.1L319.3 462.2M404.6 453.8L389.5 462.4M392.5 457.2L389.5 462.4L395.5 462.4M845.7 453.8L835.8 468M836.3 462.1L835.8 468L841.3 465.5M860.9 453.8L850.8 467.9M851.4 461.9L850.8 467.9L856.3 465.4M876.1 453.8L865.8 467.7M866.4 461.7L865.8 467.7L871.3 465.3M313.3 471.2L298.5 480.2M301.4 475L298.5 480.2L304.5 480.1M389.4 471.2L374.8 480.6M377.5 475.3L374.8 480.6L380.8 480.3M465.4 471.2L450.9 480.7M453.6 475.4L450.9 480.7L456.9 480.4M845.7 471.2L838 486.7M837.6 480.7L838 486.7L843 483.4M860.9 471.2L853 486.6M852.7 480.6L853 486.6L858 483.4M876.1 471.2L868 486.5M867.8 480.5L868 486.5L873.1 483.3M891.3 471.2L883.1 486.4M882.9 480.4L883.1 486.4L888.2 483.3M936.9 471.2L928.6 486.4M928.5 480.4L928.6 486.4L933.7 483.3M298.1 488.6L283.8 498.4M286.4 493L283.8 498.4L289.7 497.9M374.1 488.6L360.1 498.8M362.6 493.3L360.1 498.8L366.1 498.2M495.8 488.6L482.6 499.8M484.6 494.1L482.6 499.8L488.5 498.7M663.1 488.6L657.2 504.9M656.2 499L657.2 504.9L661.8 501M358.9 506L345.4 516.9M347.6 511.3L345.4 516.9L351.3 516M921.7 506L918.7 523.1M916.6 517.5L918.7 523.1L922.5 518.5M784.8 523.5L791.4 539.5M786.7 535.8L791.4 539.5L792.2 533.5M313.3 540.9L300.3 552.4M302.2 546.7L300.3 552.4L306.2 551.2M739.2 540.9L733.3 557.2M732.2 551.3L733.3 557.2L737.9 553.3M769.6 540.9L776.2 556.9M771.5 553.3L776.2 556.9L777 551M845.7 540.9L843.2 558.1M841 552.5L843.2 558.1L846.9 553.3M860.9 540.9L867.5 556.9M862.7 553.3L867.5 556.9L868.3 551M876.1 540.9L873.6 558M871.3 552.5L873.6 558L877.3 553.3M891.3 540.9L888.7 558M886.5 552.5L888.7 558L892.5 553.3M237.2 558.3L223.1 568.4M225.6 562.9L223.1 568.4L229.1 567.8M252.5 558.3L238.4 568.4M240.8 562.9L238.4 568.4L244.3 567.8M267.7 558.3L253.6 568.4M256.1 562.9L253.6 568.4L259.5 567.8M769.6 558.3L763.7 574.6M762.6 568.7L763.7 574.6L768.3 570.8M860.9 558.3L867.5 574.3M862.7 570.7L867.5 574.3L868.3 568.4M936.9 558.3L934.6 575.5M932.3 569.9L934.6 575.5L938.2 570.8M952.1 558.3L949.8 575.5M947.5 569.9L949.8 575.5L953.5 570.8M769.6 575.8L769.3 593.1M766.4 587.8L769.3 593.1L772.4 587.9M860.9 575.8L858.9 593M856.5 587.5L858.9 593L862.5 588.1M754.4 593.2L748.5 609.5M747.4 603.6L748.5 609.5L753.1 605.6M754.4 610.6L748.5 626.9M747.4 621L748.5 626.9L753.1 623M906.5 610.6L904 627.8M901.8 622.2L904 627.8L907.7 623M906.5 628L903.8 645.2M901.7 639.6L903.8 645.2L907.6 640.5M830.4 645.5L824.5 661.7M823.5 655.8L824.5 661.7L829.1 657.9M860.9 662.9L848.6 675.1M850.2 669.3L848.6 675.1L854.4 673.6M815.2 697.7L809.3 714M808.3 708.1L809.3 714L813.9 710.2M860.9 715.2L854.9 731.5M853.9 725.5L854.9 731.5L859.5 727.6M860.9 732.6L857 749.5M855.2 743.8L857 749.5L861.1 745.1M845.7 750L841.5 766.8M839.8 761.1L841.5 766.8L845.7 762.5M860.9 750L856.8 766.9M855.1 761.1L856.8 766.9L860.9 762.5M769.6 767.5L765.3 784.2M763.7 778.5L765.3 784.2L769.5 779.9M800 767.5L795.6 784.2M794.1 778.4L795.6 784.2L799.9 779.9M754.4 784.9L750.5 801.8M748.7 796L750.5 801.8L754.6 797.4M769.6 784.9L765.3 801.7M763.7 795.9L765.3 801.7L769.5 797.4M784.8 784.9L780.4 801.6M778.8 795.8L780.4 801.6L784.6 797.4M800 784.9L795.6 801.6M794.1 795.9L795.6 801.6L799.9 797.4M724 802.3L720.8 819.3M718.8 813.7L720.8 819.3L724.7 814.8M754.4 802.3L750.5 819.2M748.7 813.4L750.5 819.2L754.6 814.8M769.6 802.3L765.3 819.1M763.7 813.3L765.3 819.1L769.5 814.8M784.8 802.3L780.4 819.1M778.8 813.3L780.4 819.1L784.6 814.8M800 802.3L795.6 819.1M794.1 813.3L795.6 819.1L799.9 814.8M860.9 802.3L856.8 819.1M855.1 813.4L856.8 819.1L860.9 814.8M724 819.7L720.8 836.8M718.8 831.1L720.8 836.8L724.7 832.2M754.4 819.7L750.5 836.6M748.7 830.9L750.5 836.6L754.6 832.2M769.6 819.7L765.3 836.5M763.7 830.7L765.3 836.5L769.5 832.2M784.8 819.7L780.4 836.5M778.8 830.7L780.4 836.5L784.6 832.2M800 819.7L795.6 836.5M794.1 830.7L795.6 836.5L799.9 832.2M860.9 819.7L856.8 836.6M855.1 830.8L856.8 836.6L860.9 832.2"/>
<path stroke="#00d28c" d="M389.4 87.8L373.1 101.4M375.2 95.8L373.1 101.4L379 100.4M815.2 87.8L795.7 96.1M799.3 91.3L795.7 96.1L801.7 96.8M830.4 87.8L810.9 96.1M814.6 91.3L810.9 96.1L816.9 96.8M845.7 87.8L826.2 96.1M829.8 91.3L826.2 96.1L832.1 96.8M860.9 87.8L841.4 96.1M845 91.3L841.4 96.1L847.3 96.8M876.1 87.8L856.6 96.1M860.2 91.3L856.6 96.1L862.5 96.8M328.5 105.2L312 118.4M314.2 112.9L312 118.4L317.9 117.5M389.4 105.2L372.8 118.4M375 112.9L372.8 118.4L378.7 117.5M647.9 105.2L630.4 117.1M633 111.7L630.4 117.1L636.4 116.7M754.4 105.2L735.2 114.2M738.6 109.3L735.2 114.2L741.2 114.7M769.6 105.2L750.2 113.7M753.8 108.9L750.2 113.7L756.2 114.4M815.2 105.2L795.7 113.5M799.3 108.7L795.7 113.5L801.7 114.2M830.4 105.2L810.9 113.5M814.6 108.7L810.9 113.5L816.9 114.2M845.7 105.2L826.2 113.5M829.8 108.7L826.2 113.5L832.1 114.2M860.9 105.2L841.4 113.5M845 108.7L841.4 113.5L847.3 114.2M876.1 105.2L856.6 113.5M860.2 108.7L856.6 113.5L862.5 114.2M891.3 105.2L871.8 113.5M875.4 108.7L871.8 113.5L877.7 114.2M267.7 122.7L250.5 135M253 129.6L250.5 135L256.5 134.4M282.9 122.7L265.7 135M268.2 129.6L265.7 135L271.7 134.4M313.3 122.7L296.1 135M298.6 129.6L296.1 135L302.1 134.4M404.6 122.7L387.4 135M389.8 129.6L387.4 135L393.4 134.4M419.8 122.7L402.6 135M405 129.5L402.6 135L408.5 134.4M663.1 122.7L645.1 133.7M647.9 128.4L645.1 133.7L651.1 133.5M724 122.7L705.1 132.2M708.4 127.2L705.1 132.2L711.1 132.6M769.6 122.7L750.2 131.1M753.8 126.3L750.2 131.1L756.2 131.8M784.8 122.7L765.3 130.9M768.9 126.1L765.3 130.9L771.3 131.7M800 122.7L780.5 130.9M784.1 126.1L780.5 130.9L786.5 131.7M815.2 122.7L795.7 130.9M799.3 126.1L795.7 130.9L801.7 131.7M830.4 122.7L810.9 130.9M814.6 126.1L810.9 130.9L816.9 131.7M906.5 122.7L887 130.9M890.6 126.1L887 130.9L893 131.7M237.2 140.1L219.5 151.6M222.2 146.3L219.5 151.6L225.5 151.3M252.5 140.1L234.7 151.6M237.4 146.3L234.7 151.6L240.7 151.3M328.5 140.1L310.8 151.6M313.5 146.3L310.8 151.6L316.7 151.3M419.8 140.1L402 151.6M404.7 146.2L402 151.6L408 151.3M724 140.1L704.9 149.4M708.3 144.4L704.9 149.4L710.9 149.8M754.4 140.1L735.1 148.8M738.6 143.9L735.1 148.8L741.1 149.4M769.6 140.1L750.2 148.5M753.7 143.7L750.2 148.5L756.1 149.2M784.8 140.1L765.3 148.4M768.9 143.6L765.3 148.4L771.3 149.1M800 140.1L780.5 148.4M784.1 143.6L780.5 148.4L786.5 149.1M815.2 140.1L795.7 148.4M799.3 143.6L795.7 148.4L801.7 149.1M830.4 140.1L810.9 148.4M814.6 143.6L810.9 148.4L816.9 149.1M906.5 140.1L887 148.4M890.6 143.6L887 148.4L893 149.1M358.9 157.5L340.5 167.9M343.5 162.7L340.5 167.9L346.5 168M480.6 157.5L462.5 168.5M465.4 163.2L462.5 168.5L468.5 168.4M587.1 157.5L569 168.6M571.9 163.3L569 168.6L575 168.4M724 157.5L705 166.9M708.3 161.9L705 166.9L711 167.3M800 157.5L780.6 165.9M784.2 161.1L780.6 165.9L786.5 166.6M830.4 157.5L811 165.9M814.6 161.1L811 165.9L817 166.6M860.9 157.5L841.5 166M845 161.1L841.5 166L847.4 166.6M906.5 157.5L887.1 166M890.7 161.2L887.1 166L893.1 166.7M358.9 174.9L339.8 184.1M343.2 179.2L339.8 184.1L345.8 184.6M769.6 174.9L754.6 189.9M756.2 184.1L754.6 189.9L760.4 188.4M800 174.9L780.6 183.5M784.2 178.6L780.6 183.5L786.6 184.1M815.2 174.9L795.9 183.5M799.4 178.7L795.9 183.5L801.8 184.1M845.7 174.9L826.3 183.6M829.8 178.7L826.3 183.6L832.3 184.2M860.9 174.9L841.5 183.6M845.1 178.7L841.5 183.6L847.5 184.2M389.4 192.4L369.7 200.3M373.4 195.6L369.7 200.3L375.7 201.1M404.6 192.4L384.9 200.3M388.6 195.6L384.9 200.3L390.9 201.1M419.8 192.4L400.3 200.6M403.9 195.8L400.3 200.6L406.2 201.4M495.8 192.4L478.1 203.9M480.8 198.5L478.1 203.9L484.1 203.6M769.6 192.4L750.3 201.1M753.8 196.2L750.3 201.1L756.3 201.7M784.8 192.4L765.5 201M769 196.1L765.5 201L771.4 201.6M800 192.4L780.7 201M784.2 196.2L780.7 201L786.7 201.6M815.2 192.4L795.9 201.1M799.4 196.2L795.9 201.1L801.9 201.7M313.3 209.8L293.5 217.4M297.3 212.7L293.5 217.4L299.5 218.3M328.5 209.8L308.7 217.4M312.5 212.7L308.7 217.4L314.7 218.3M343.7 209.8L324 217.4M327.7 212.7L324 217.4L329.9 218.3M374.1 209.8L354.4 217.4M358.1 212.7L354.4 217.4L360.3 218.3M511 209.8L493 221M495.9 215.7L493 221L499 220.8M526.2 209.8L508.6 221.5M511.3 216.1L508.6 221.5L514.6 221.1M541.5 209.8L523.9 221.6M526.5 216.2L523.9 221.6L529.9 221.2M556.7 209.8L538.9 221.3M541.6 216L538.9 221.3L544.9 221M663.1 209.8L644.3 219.6M647.6 214.5L644.3 219.6L650.3 219.8M800 209.8L780.8 218.6M784.2 213.7L780.8 218.6L786.7 219.2M876.1 209.8L856.9 218.8M860.3 213.9L856.9 218.8L862.9 219.3M237.2 227.2L217.4 234.5M221.2 229.9L217.4 234.5L223.3 235.5M252.5 227.2L232.6 234.5M236.4 229.9L232.6 234.5L238.5 235.5M267.7 227.2L247.8 234.5M251.6 229.9L247.8 234.5L253.7 235.5M282.9 227.2L263 234.5M266.8 229.9L263 234.5L268.9 235.5M298.1 227.2L278.2 234.5M282 229.9L278.2 234.5L284.1 235.5M541.5 227.2L523.2 237.9M526.1 232.7L523.2 237.9L529.2 237.9M556.7 227.2L538.3 237.7M541.3 232.5L538.3 237.7L544.3 237.7M693.5 227.2L674.4 236.2M677.8 231.3L674.4 236.2L680.4 236.7M815.2 227.2L796 236.2M799.5 231.2L796 236.2L802 236.7M845.7 227.2L826.5 236.2M829.9 231.3L826.5 236.2L832.5 236.7M860.9 227.2L841.7 236.3M845.1 231.3L841.7 236.3L847.7 236.8M450.2 244.6L430.5 252.4M434.2 247.7L430.5 252.4L436.4 253.3M541.5 244.6L522.5 254.2M525.8 249.2L522.5 254.2L528.5 254.5M647.9 244.6L628.5 253M632.1 248.2L628.5 253L634.4 253.7M693.5 244.6L674.1 253.1M677.7 248.3L674.1 253.1L680.1 253.8M815.2 244.6L796.1 253.7M799.5 248.8L796.1 253.7L802.1 254.2M860.9 244.6L841.8 253.8M845.2 248.9L841.8 253.8L847.8 254.3M876.1 244.6L857 253.9M860.4 248.9L857 253.9L863 254.3M891.3 244.6L872.2 253.9M875.6 248.9L872.2 253.9L878.2 254.3M389.4 262.1L369.3 268.9M373.3 264.4L369.3 268.9L375.2 270.1M404.6 262.1L384.5 268.9M388.5 264.4L384.5 268.9L390.4 270.1M526.2 262.1L506.7 270.3M510.3 265.5L506.7 270.3L512.7 271M815.2 262.1L796.3 271.5M799.6 266.5L796.3 271.5L802.3 271.9M830.4 262.1L811.5 271.5M814.8 266.5L811.5 271.5L817.5 271.9M860.9 262.1L842 271.7M845.3 266.6L842 271.7L848 272M876.1 262.1L857.2 271.7M860.5 266.7L857.2 271.7L863.2 272M495.8 279.5L475.8 286.4M479.7 281.9L475.8 286.4L481.7 287.5M632.7 279.5L613.1 287.5M616.8 282.8L613.1 287.5L619.1 288.3M784.8 279.5L766 289.1M769.2 284.1L766 289.1L772 289.4M815.2 279.5L796.5 289.3M799.7 284.2L796.5 289.3L802.4 289.5M830.4 279.5L811.7 289.3M814.9 284.3L811.7 289.3L817.7 289.6M845.7 279.5L826.9 289.4M830.1 284.3L826.9 289.4L832.9 289.6M860.9 279.5L842.2 289.5M845.4 284.4L842.2 289.5L848.2 289.7M632.7 296.9L613 304.7M616.7 300L613 304.7L618.9 305.6M784.8 296.9L766.1 306.9M769.3 301.8L766.1 306.9L772.1 307.1M800 296.9L781.4 307M784.5 301.9L781.4 307L787.4 307.2M815.2 296.9L796.6 307.1M799.8 301.9L796.6 307.1L802.6 307.2M830.4 296.9L811.9 307.1M815 302L811.9 307.1L817.9 307.3M845.7 296.9L827.2 307.2M830.2 302.1L827.2 307.2L833.2 307.3M876.1 296.9L857.7 307.4M860.7 302.2L857.7 307.4L863.7 307.4M541.5 314.4L520.8 319.2M525.2 315.1L520.8 319.2L526.6 320.9M678.3 314.4L659 322.9M662.5 318.1L659 322.9L664.9 323.5M800 314.4L781.5 324.7M784.6 319.5L781.5 324.7L787.5 324.8M815.2 314.4L796.8 324.8M799.9 319.6L796.8 324.8L802.8 324.9M845.7 314.4L827.4 325.1M830.3 319.8L827.4 325.1L833.4 325M860.9 314.4L842.7 325.2M845.6 319.9L842.7 325.2L848.7 325.1M511 331.8L490.3 336.1M494.8 332.1L490.3 336.1L496 338M571.9 331.8L551.3 336.9M555.6 332.8L551.3 336.9L557.1 338.6M800 331.8L781.7 342.4M784.7 337.2L781.7 342.4L787.7 342.4M815.2 331.8L797 342.6M799.9 337.3L797 342.6L803 342.5M876.1 331.8L858.2 343.2M861 337.9L858.2 343.2L864.2 342.9M480.6 349.2L459.9 353.7M464.4 349.7L459.9 353.7L465.6 355.6M541.5 349.2L520.5 352.5M525.2 348.7L520.5 352.5L526.1 354.6M556.7 349.2L535.8 353.1M540.4 349.2L535.8 353.1L541.5 355.1M632.7 349.2L612.7 356.2M616.6 351.7L612.7 356.2L618.6 357.3M876.1 349.2L858.5 361.1M861.2 355.7L858.5 361.1L864.5 360.6M906.5 349.2L889.1 361.4M891.7 355.9L889.1 361.4L895.1 360.8M830.4 366.6L813.1 378.8M815.7 373.4L813.1 378.8L819.1 378.3M845.7 366.6L828.5 379M830.9 373.5L828.5 379L834.4 378.4M921.7 366.6L904.9 379.6M907.2 374L904.9 379.6L910.9 378.8M936.9 366.6L920.1 379.6M922.4 374L920.1 379.6L926.1 378.8M952.1 366.6L935.4 379.6M937.6 374L935.4 379.6L941.3 378.8M435 384.1L414.9 390.6M418.9 386.2L414.9 390.6L420.7 391.9M450.2 384.1L430 390.3M434 385.9L430 390.3L435.8 391.7M571.9 384.1L551.7 390.5M555.7 386L551.7 390.5L557.6 391.8M587.1 384.1L567.1 391.2M571 386.6L567.1 391.2L573 392.3M602.3 384.1L582.6 391.9M586.3 387.2L582.6 391.9L588.5 392.7M769.6 384.1L752.5 396.6M754.9 391.1L752.5 396.6L758.5 395.9M906.5 384.1L890.3 397.8M892.4 392.1L890.3 397.8L896.3 396.7M921.7 384.1L905.6 397.8M907.6 392.1L905.6 397.8L911.5 396.7M936.9 384.1L920.8 397.8M922.8 392.1L920.8 397.8L926.7 396.7M952.1 384.1L936 397.8M938 392.1L936 397.8L941.9 396.7M389.4 401.5L369.5 408.7M373.3 404.1L369.5 408.7L375.4 409.8M404.6 401.5L384.7 408.7M388.5 404.1L384.7 408.7L390.6 409.8M571.9 401.5L552 408.8M555.8 404.2L552 408.8L557.9 409.8M906.5 401.5L891 415.9M892.8 410.2L891 415.9L896.8 414.6M921.7 401.5L906.2 415.9M908 410.2L906.2 415.9L912.1 414.6M936.9 401.5L921.4 415.9M923.2 410.2L921.4 415.9L927.3 414.6M952.1 401.5L936.6 415.9M938.4 410.2L936.6 415.9L942.5 414.6M358.9 418.9L339.4 427.2M343.1 422.4L339.4 427.2L345.4 427.9M465.4 418.9L445.7 426.6M449.4 421.9L445.7 426.6L451.6 427.5M480.6 418.9L460.8 426.3M464.6 421.7L460.8 426.3L466.7 427.3M541.5 418.9L521.5 425.9M525.4 421.4L521.5 425.9L527.4 427M921.7 418.9L907 434.1M908.4 428.3L907 434.1L912.8 432.5M936.9 418.9L922.2 434.1M923.7 428.3L922.2 434.1L928 432.5M952.1 418.9L937.4 434.1M938.9 428.3L937.4 434.1L943.2 432.5M328.5 436.3L309.4 445.5M312.8 440.6L309.4 445.5L315.4 446M358.9 436.3L339.9 445.7M343.3 440.7L339.9 445.7L345.9 446.1M587.1 436.3L568.5 446.5M571.6 441.3L568.5 446.5L574.5 446.6M906.5 436.3L892.6 452.3M893.7 446.4L892.6 452.3L898.3 450.4M921.7 436.3L907.8 452.3M909 446.4L907.8 452.3L913.5 450.4M952.1 436.3L938.2 452.3M939.4 446.4L938.2 452.3L943.9 450.4M313.3 453.8L294.7 463.8M297.8 458.7L294.7 463.8L300.7 464M602.3 453.8L584.6 465.4M587.3 460.1L584.6 465.4L590.6 465.1M906.5 453.8L893.5 470.5M894.3 464.5L893.5 470.5L899 468.2M952.1 453.8L939.1 470.5M939.9 464.5L939.1 470.5L944.6 468.2M298.1 471.2L280 482.1M282.9 476.9L280 482.1L286 482M906.5 471.2L896.3 489.8M896.2 483.8L896.3 489.8L901.5 486.7M952.1 471.2L942 489.8M941.8 483.8L942 489.8L947.1 486.7M267.7 488.6L250.1 500.5M252.7 495.1L250.1 500.5L256.1 500M282.9 488.6L265.3 500.5M268 495.1L265.3 500.5L271.3 500M906.5 488.6L899.5 508.6M898.4 502.7L899.5 508.6L904 504.7M936.9 488.6L929.9 508.6M928.8 502.7L929.9 508.6L934.5 504.7M952.1 488.6L937.1 503.6M938.7 497.8L937.1 503.6L942.9 502M237.2 506L220.3 518.8M222.7 513.3L220.3 518.8L226.3 518.1M252.5 506L235.5 518.8M237.9 513.3L235.5 518.8L241.5 518.1M267.7 506L250.8 518.8M253.1 513.3L250.8 518.8L256.7 518.1M282.9 506L266 518.8M268.3 513.3L266 518.8L271.9 518.1M328.5 523.5L312.7 537.5M314.6 531.8L312.7 537.5L318.5 536.3M282.9 540.9L265.7 553.3M268.2 547.9L265.7 553.3L271.7 552.7M298.1 540.9L281.4 553.9M283.6 548.3L281.4 553.9L287.3 553.1M724 540.9L724.8 562.1M721.6 557L724.8 562.1L727.6 556.7M906.5 558.3L903.6 579.3M901.4 573.8L903.6 579.3L907.3 574.6M906.5 575.8L903.9 596.8M901.6 591.3L903.9 596.8L907.5 592M921.7 575.8L919.1 596.8M916.8 591.3L919.1 596.8L922.7 592M936.9 575.8L934.3 596.8M932 591.3L934.3 596.8L937.9 592M952.1 575.8L949.5 596.8M947.2 591.3L949.5 596.8L953.2 592M921.7 593.2L918.9 614.2M916.6 608.6L918.9 614.2L922.6 609.4M952.1 593.2L949.3 614.2M947 608.6L949.3 614.2L953 609.4M830.4 610.6L823.2 630.5M822.2 624.6L823.2 630.5L827.8 626.7M876.1 610.6L873.1 631.6M870.9 626L873.1 631.6L876.8 626.9M952.1 610.6L949.1 631.6M946.9 626L949.1 631.6L952.8 626.9M830.4 628L823.2 647.9M822.2 642L823.2 647.9L827.8 644.1M876.1 628L868.8 647.9M867.8 642L868.8 647.9L873.4 644.1M891.3 628L888.1 649M885.9 643.4L888.1 649L891.8 644.3M952.1 628L948.9 649M946.7 643.4L948.9 649L952.6 644.3M876.1 645.5L868.8 665.4M867.8 659.5L868.8 665.4L873.4 661.5M891.3 645.5L887.8 666.4M885.7 660.7L887.8 666.4L891.6 661.7M906.5 645.5L903 666.4M900.9 660.7L903 666.4L906.8 661.7M952.1 645.5L948.7 666.4M946.6 660.7L948.7 666.4L952.5 661.7M830.4 662.9L823.2 682.8M822.2 676.9L823.2 682.8L827.8 678.9M876.1 662.9L872.4 683.7M870.3 678.1L872.4 683.7L876.2 679.1M891.3 662.9L887.6 683.7M885.6 678.1L887.6 683.7L891.5 679.1M906.5 662.9L902.8 683.7M900.8 678.1L902.8 683.7L906.7 679.1M952.1 662.9L948.4 683.7M946.4 678.1L948.4 683.7L952.3 679.1M906.5 680.3L902.6 701.1M900.6 695.5L902.6 701.1L906.5 696.6M952.1 680.3L948.2 701.1M946.2 695.5L948.2 701.1L952.1 696.6M876.1 697.7L871.9 718.5M870 712.8L871.9 718.5L875.9 714M952.1 697.7L948 718.5M946.1 712.8L948 718.5L952 714M815.2 715.2L808 735.1M806.9 729.2L808 735.1L812.6 731.2M876.1 715.2L871.7 735.9M869.8 730.2L871.7 735.9L875.7 731.4M952.1 715.2L947.8 735.9M945.9 730.2L947.8 735.9L951.8 731.4M815.2 732.6L810.3 753.2M808.6 747.4L810.3 753.2L814.4 748.8M952.1 732.6L947.6 753.3M945.8 747.6L947.6 753.3L951.6 748.8M815.2 750L810 770.5M808.4 764.8L810 770.5L814.2 766.2M830.4 750L825.3 770.6M823.6 764.8L825.3 770.6L829.4 766.3M952.1 750L947.4 770.7M945.6 764.9L947.4 770.7L951.4 766.3M815.2 767.5L810 788M808.4 782.2L810 788L814.2 783.7M830.4 767.5L825.3 788M823.6 782.2L825.3 788L829.4 783.7M845.7 767.5L840.6 788M838.9 782.2L840.6 788L844.7 783.7M952.1 767.5L947.4 788.1M945.6 782.3L947.4 788.1L951.4 783.7M815.2 784.9L810 805.4M808.4 799.6L810 805.4L814.2 801.1M830.4 784.9L825.3 805.4M823.6 799.6L825.3 805.4L829.4 801.1M845.7 784.9L840.6 805.4M838.9 799.7L840.6 805.4L844.7 801.1M952.1 784.9L947.4 805.5M945.6 799.8L947.4 805.5L951.4 801.1M739.2 802.3L734.8 823M733 817.3L734.8 823L738.8 818.6M815.2 802.3L810 822.8M808.4 817L810 822.8L814.2 818.5M845.7 802.3L840.6 822.9M838.9 817.1L840.6 822.9L844.7 818.5M952.1 802.3L947.4 822.9M945.6 817.2L947.4 822.9L951.4 818.6M739.2 819.7L734.8 840.5M733 834.8L734.8 840.5L738.8 836M815.2 819.7L810 840.2M808.4 834.5L810 840.2L814.2 836M845.7 819.7L840.6 840.3M838.9 834.5L840.6 840.3L844.7 836M952.1 819.7L947.4 840.4M945.6 834.6L947.4 840.4L951.4 836"/>
<path stroke="#00dc00" d="M374.1 87.8L355 103.9M357 98.2L355 103.9L360.9 102.8M891.3 87.8L868.2 97.6M871.9 92.8L868.2 97.6L874.2 98.3M906.5 87.8L883.5 97.6M887.1 92.8L883.5 97.6L889.4 98.3M921.7 87.8L898.7 97.6M902.3 92.8L898.7 97.6L904.6 98.3M936.9 87.8L913.9 97.6M917.5 92.8L913.9 97.6L919.8 98.3M952.1 87.8L929.1 97.6M932.7 92.8L929.1 97.6L935 98.3M906.5 105.2L883.5 115M887.1 110.2L883.5 115L889.4 115.7M921.7 105.2L898.7 115M902.3 110.2L898.7 115L904.6 115.7M936.9 105.2L913.9 115M917.5 110.2L913.9 115L919.8 115.7M952.1 105.2L929.1 115M932.7 110.2L929.1 115L935 115.7M298.1 122.7L277.8 137.3M280.3 131.8L277.8 137.3L283.8 136.7M389.4 122.7L369.1 137.3M371.5 131.8L369.1 137.3L375 136.7M845.7 122.7L822.6 132.4M826.2 127.6L822.6 132.4L828.6 133.2M860.9 122.7L837.8 132.4M841.4 127.6L837.8 132.4L843.8 133.2M876.1 122.7L853 132.4M856.6 127.6L853 132.4L859 133.2M891.3 122.7L868.2 132.4M871.9 127.6L868.2 132.4L874.2 133.2M921.7 122.7L898.7 132.4M902.3 127.6L898.7 132.4L904.6 133.2M936.9 122.7L913.9 132.4M917.5 127.6L913.9 132.4L919.8 133.2M267.7 140.1L246.7 153.7M249.4 148.4L246.7 153.7L252.7 153.4M845.7 140.1L822.6 149.9M826.2 145.1L822.6 149.9L828.6 150.6M860.9 140.1L837.8 149.9M841.4 145.1L837.8 149.9L843.8 150.6M891.3 140.1L868.2 149.9M871.9 145.1L868.2 149.9L874.2 150.6M921.7 140.1L898.7 149.9M902.3 145.1L898.7 149.9L904.6 150.6M298.1 157.5L276.3 169.8M279.3 164.6L276.3 169.8L282.3 169.8M419.8 157.5L398 169.8M401 164.7L398 169.8L404 169.9M815.2 157.5L792.3 167.5M795.8 162.6L792.3 167.5L798.2 168.1M845.7 157.5L822.7 167.5M826.3 162.7L822.7 167.5L828.7 168.2M876.1 157.5L853.1 167.5M856.7 162.7L853.1 167.5L859.1 168.2M891.3 157.5L868.4 167.5M871.9 162.7L868.4 167.5L874.3 168.2M921.7 157.5L898.8 167.6M902.3 162.7L898.8 167.6L904.7 168.2M237.2 174.9L214.7 185.8M218.1 180.8L214.7 185.8L220.7 186.2M252.5 174.9L229.9 185.8M233.3 180.8L229.9 185.8L235.9 186.2M267.7 174.9L245.1 185.8M248.5 180.8L245.1 185.8L251.1 186.2M343.7 174.9L321.2 185.8M324.5 180.8L321.2 185.8L327.1 186.2M435 174.9L412.8 186.5M416 181.4L412.8 186.5L418.8 186.7M495.8 174.9L474.7 188.3M477.5 183L474.7 188.3L480.7 188.1M830.4 174.9L807.6 185.1M811.1 180.2L807.6 185.1L813.5 185.7M876.1 174.9L853.2 185.2M856.8 180.3L853.2 185.2L859.2 185.8M891.3 174.9L868.5 185.2M872 180.4L868.5 185.2L874.4 185.8M906.5 174.9L883.7 185.2M887.2 180.4L883.7 185.2L889.7 185.8M921.7 174.9L904 192.6M905.6 186.8L904 192.6L909.8 191.1M952.1 174.9L929.3 185.2M932.8 180.4L929.3 185.2L935.3 185.8M328.5 192.4L305.3 201.7M309 197L305.3 201.7L311.2 202.6M480.6 192.4L459.2 205.3M462.1 200L459.2 205.3L465.2 205.1M830.4 192.4L807.7 202.7M811.1 197.8L807.7 202.7L813.6 203.3M845.7 192.4L822.9 202.8M826.4 197.9L822.9 202.8L828.9 203.3M860.9 192.4L838.1 202.8M841.6 197.9L838.1 202.8L844.1 203.4M906.5 192.4L883.8 202.9M887.3 198L883.8 202.9L889.8 203.5M952.1 192.4L929.4 202.9M932.9 198L929.4 202.9L935.4 203.5M389.4 209.8L366 218.8M369.8 214.1L366 218.8L371.9 219.7M495.8 209.8L474.2 222.4M477.2 217.2L474.2 222.4L480.2 222.3M815.2 209.8L792.5 220.2M796 215.3L792.5 220.2L798.5 220.8M830.4 209.8L807.7 220.3M811.2 215.4L807.7 220.3L813.7 220.8M845.7 209.8L823 220.3M826.4 215.4L823 220.3L828.9 220.9M860.9 209.8L838.2 220.4M841.6 215.5L838.2 220.4L844.2 220.9M891.3 209.8L868.6 220.5M872.1 215.5L868.6 220.5L874.6 221M906.5 209.8L883.9 220.5M887.3 215.6L883.9 220.5L889.9 221M936.9 209.8L914.3 220.5M917.7 215.6L914.3 220.5L920.3 221M952.1 209.8L929.5 220.5M932.9 215.6L929.5 220.5L935.5 221M313.3 227.2L289.8 235.8M293.6 231.2L289.8 235.8L295.7 236.8M343.7 227.2L320.2 235.8M324.1 231.2L320.2 235.8L326.1 236.8M450.2 227.2L427.2 237.1M430.8 232.3L427.2 237.1L433.2 237.8M526.2 227.2L504.6 239.7M507.6 234.5L504.6 239.7L510.6 239.7M830.4 227.2L807.8 237.8M811.2 232.9L807.8 237.8L813.8 238.3M906.5 227.2L883.9 238.1M887.3 233.1L883.9 238.1L889.9 238.5M936.9 227.2L914.4 238.1M917.7 233.1L914.4 238.1L920.3 238.5M952.1 227.2L929.6 238.1M932.9 233.1L929.6 238.1L935.5 238.5M435 244.6L411.5 253.4M415.4 248.8L411.5 253.4L417.5 254.4M465.4 244.6L442.3 254.2M445.9 249.5L442.3 254.2L448.2 255M845.7 244.6L823.1 255.4M826.5 250.5L823.1 255.4L829.1 255.9M906.5 244.6L884 255.6M887.4 250.6L884 255.6L890 256M921.7 244.6L899.2 255.6M902.6 250.6L899.2 255.6L905.2 256M936.9 244.6L914.4 255.6M917.8 250.6L914.4 255.6L920.4 256M952.1 244.6L929.6 255.6M933 250.6L929.6 255.6L935.6 256M450.2 262.1L426.7 270.7M430.5 266.1L426.7 270.7L432.6 271.7M465.4 262.1L442 270.9M445.8 266.3L442 270.9L447.9 271.9M511 262.1L487.9 271.5M491.5 266.8L487.9 271.5L493.8 272.4M541.5 262.1L518.4 271.8M522 267.1L518.4 271.8L524.4 272.6M891.3 262.1L869 273.5M872.3 268.5L869 273.5L875 273.8M906.5 262.1L884.3 273.6M887.5 268.5L884.3 273.6L890.3 273.8M921.7 262.1L899.5 273.6M902.7 268.5L899.5 273.6L905.5 273.8M936.9 262.1L914.7 273.6M917.9 268.5L914.7 273.6L920.7 273.8M952.1 262.1L929.9 273.6M933.1 268.5L929.9 273.6L935.9 273.8M511 279.5L487.4 287.6M491.3 283.1L487.4 287.6L493.3 288.8M526.2 279.5L502.6 287.6M506.5 283.1L502.6 287.6L508.5 288.8M876.1 279.5L854 291.4M857.2 286.3L854 291.4L860 291.6M891.3 279.5L869.3 291.5M872.4 286.3L869.3 291.5L875.3 291.6M906.5 279.5L884.5 291.5M887.7 286.4L884.5 291.5L890.5 291.6M921.7 279.5L899.7 291.5M902.9 286.4L899.7 291.5L905.7 291.6M936.9 279.5L915 291.5M918.1 286.4L915 291.5L921 291.6M952.1 279.5L930.2 291.5M933.3 286.4L930.2 291.5L936.2 291.6M495.8 296.9L471.8 303.9M475.9 299.6L471.8 303.9L477.6 305.4M511 296.9L486.9 303.7M491.1 299.4L486.9 303.7L492.8 305.2M526.2 296.9L502.1 303.5M506.3 299.2L502.1 303.5L507.9 305M891.3 296.9L869.6 309.4M872.6 304.2L869.6 309.4L875.6 309.4M906.5 296.9L884.8 309.4M887.8 304.2L884.8 309.4L890.8 309.4M921.7 296.9L900 309.4M903 304.2L900 309.4L906 309.4M936.9 296.9L915.2 309.4M918.2 304.2L915.2 309.4L921.2 309.4M952.1 296.9L930.4 309.4M933.4 304.2L930.4 309.4L936.4 309.4M480.6 314.4L456.5 321M460.7 316.7L456.5 321L462.3 322.5M495.8 314.4L471.6 320.6M475.9 316.4L471.6 320.6L477.4 322.2M511 314.4L486.7 320.3M491.1 316.2L486.7 320.3L492.5 322M526.2 314.4L501.9 320M506.2 315.9L501.9 320L507.6 321.7M876.1 314.4L854.6 327.3M857.5 322L854.6 327.3L860.6 327.2M891.3 314.4L869.9 327.4M872.8 322.1L869.9 327.4L875.9 327.3M906.5 314.4L885.2 327.5M888 322.2L885.2 327.5L891.2 327.3M921.7 314.4L900.4 327.5M903.2 322.2L900.4 327.5L906.4 327.3M936.9 314.4L915.6 327.5M918.5 322.2L915.6 327.5L921.6 327.3M952.1 314.4L930.8 327.5M933.7 322.2L930.8 327.5L936.8 327.3M495.8 331.8L471.4 337.3M475.8 333.3L471.4 337.3L477.2 339.1M906.5 331.8L885.6 345.5M888.3 340.2L885.6 345.5L891.6 345.2M921.7 331.8L900.8 345.5M903.5 340.2L900.8 345.5L906.8 345.2M936.9 331.8L916 345.5M918.7 340.2L916 345.5L922 345.2M952.1 331.8L931.2 345.5M933.9 340.2L931.2 345.5L937.2 345.2M495.8 349.2L471.3 354M475.8 350.1L471.3 354L476.9 356M511 349.2L486.4 353.5M491 349.7L486.4 353.5L492 355.6M526.2 349.2L501.5 353M506.2 349.2L501.5 353L507.1 355.1M921.7 349.2L901.2 363.6M903.7 358.1L901.2 363.6L907.2 363M936.9 349.2L916.4 363.6M918.9 358.1L916.4 363.6L922.4 363M952.1 349.2L931.6 363.6M934.2 358.1L931.6 363.6L937.6 363M450.2 366.6L426.1 373.6M430.3 369.2L426.1 373.6L432 375M480.6 366.6L456.3 372.7M460.6 368.5L456.3 372.7L462.1 374.3M465.4 384.1L441.4 391.1M445.5 386.8L441.4 391.1L447.2 392.5M374.1 401.5L350.6 410M354.5 405.4L350.6 410L356.5 411.1M419.8 401.5L396.2 409.9M400.1 405.3L396.2 409.9L402.1 411M541.5 401.5L517.4 408.4M521.6 404.1L517.4 408.4L523.2 409.9M389.4 418.9L366.4 428.8M369.9 424L366.4 428.8L372.3 429.5M450.2 418.9L426.9 428.2M430.7 423.5L426.9 428.2L432.9 429.1M556.7 418.9L548.1 442.4M547.1 436.5L548.1 442.4L552.7 438.6M936.9 436.3L920.5 455.2M921.6 449.3L920.5 455.2L926.2 453.3M237.2 453.8L215.2 465.5M218.3 460.4L215.2 465.5L221.2 465.7M252.5 453.8L230.4 465.5M233.5 460.4L230.4 465.5L236.4 465.7M298.1 453.8L276 465.6M279.2 460.5L276 465.6L282 465.8M343.7 453.8L321.8 465.9M324.9 460.7L321.8 465.9L327.8 466M921.7 453.8L906.3 473.5M907.1 467.5L906.3 473.5L911.9 471.2M936.9 453.8L921.5 473.5M922.3 467.5L921.5 473.5L927.1 471.2M237.2 471.2L215.8 484.1M218.7 478.8L215.8 484.1L221.8 484M252.5 471.2L231 484.1M233.9 478.8L231 484.1L237 484M267.7 471.2L246.2 484.1M249.1 478.8L246.2 484.1L252.2 484M282.9 471.2L261.4 484.1M264.3 478.8L261.4 484.1L267.4 484M328.5 471.2L307.2 484.4M310.1 479.1L307.2 484.4L313.2 484.2M237.2 488.6L216.5 502.6M219.1 497.2L216.5 502.6L222.5 502.2M252.5 488.6L231.7 502.6M234.3 497.2L231.7 502.6L237.7 502.2M313.3 488.6L292.7 502.8M295.3 497.4L292.7 502.8L298.7 502.3M358.9 488.6L338.6 503.2M341 497.7L338.6 503.2L344.5 502.6M921.7 488.6L913.4 512.2M912.3 506.3L913.4 512.2L918 508.3M298.1 506L278.2 521.2M280.5 515.6L278.2 521.2L284.1 520.4M343.7 506L324.1 521.6M326.3 516L324.1 521.6L330 520.7M237.2 523.5L217.1 538.4M219.5 532.9L217.1 538.4L223.1 537.7M252.5 523.5L232.3 538.4M234.7 532.9L232.3 538.4L238.3 537.7M267.7 523.5L247.6 538.4M249.9 532.9L247.6 538.4L253.5 537.7M313.3 523.5L294 539.4M296.1 533.8L294 539.4L299.9 538.4M237.2 540.9L217 555.6M219.4 550.1L217 555.6L223 555M252.5 540.9L232.2 555.6M234.7 550.1L232.2 555.6L238.2 555M267.7 540.9L247.4 555.6M249.9 550.1L247.4 555.6L253.4 555M754.4 558.3L755.2 583.3M752.1 578.2L755.2 583.3L758.1 578M891.3 558.3L887.9 583.1M885.7 577.6L887.9 583.1L891.6 578.4M921.7 558.3L918.3 583.1M916.1 577.6L918.3 583.1L922 578.4M754.4 575.8L757.5 600.6M753.9 595.8L757.5 600.6L759.8 595.1M891.3 575.8L888.3 600.6M885.9 595.1L888.3 600.6L891.9 595.8M876.1 593.2L872.9 618M870.6 612.5L872.9 618L876.5 613.2M891.3 593.2L888 618M885.7 612.5L888 618L891.7 613.2M936.9 593.2L933.6 618M931.3 612.4L933.6 618L937.3 613.2M891.3 610.6L887.7 635.4M885.5 629.8L887.7 635.4L891.4 630.7M921.7 610.6L918.1 635.4M915.9 629.8L918.1 635.4L921.8 630.7M936.9 610.6L933.3 635.4M931.1 629.8L933.3 635.4L937.1 630.7M921.7 628L917.9 652.8M915.7 647.2L917.9 652.8L921.6 648.1M936.9 628L933.1 652.8M930.9 647.2L933.1 652.8L936.8 648.1M921.7 645.5L917.6 670.2M915.5 664.5L917.6 670.2L921.4 665.5M936.9 645.5L932.8 670.2M930.7 664.5L932.8 670.2L936.6 665.5M936.9 662.9L932.6 687.5M930.5 681.9L932.6 687.5L936.4 682.9M830.4 680.3L821.9 703.8M820.8 697.9L821.9 703.8L826.5 700M876.1 680.3L871.4 704.9M869.4 699.2L871.4 704.9L875.3 700.4M891.3 680.3L886.7 704.9M884.7 699.3L886.7 704.9L890.6 700.4M936.9 680.3L932.3 704.9M930.3 699.3L932.3 704.9L936.2 700.4M830.4 697.7L821.9 721.3M820.8 715.4L821.9 721.3L826.5 717.4M891.3 697.7L886.4 722.3M884.5 716.6L886.4 722.3L890.4 717.8M906.5 697.7L901.6 722.3M899.7 716.6L901.6 722.3L905.6 717.8M936.9 697.7L932 722.3M930.1 716.6L932 722.3L936 717.8M830.4 715.2L821.9 738.7M820.8 732.8L821.9 738.7L826.5 734.8M891.3 715.2L886.1 739.7M884.3 734L886.1 739.7L890.1 735.2M906.5 715.2L901.4 739.7M899.5 734L901.4 739.7L905.4 735.2M936.9 715.2L931.8 739.7M929.9 734L931.8 739.7L935.8 735.2M830.4 732.6L824.7 757M823 751.2L824.7 757L828.8 752.6M876.1 732.6L870.6 757M868.8 751.3L870.6 757L874.6 752.6M891.3 732.6L885.9 757M884.1 751.3L885.9 757L889.9 752.6M906.5 732.6L901.1 757M899.3 751.3L901.1 757L905.2 752.6M936.9 732.6L931.5 757M929.7 751.3L931.5 757L935.6 752.6M891.3 750L885.6 774.4M883.9 768.7L885.6 774.4L889.7 770M906.5 750L900.9 774.4M899.1 768.7L900.9 774.4L905 770M936.9 750L931.3 774.4M929.5 768.7L931.3 774.4L935.4 770M891.3 767.5L885.6 791.8M883.9 786.1L885.6 791.8L889.7 787.4M906.5 767.5L900.9 791.8M899.1 786.1L900.9 791.8L905 787.4M936.9 767.5L931.3 791.8M929.5 786.1L931.3 791.8L935.4 787.4M906.5 784.9L900.9 809.3M899.1 803.5L900.9 809.3L905 804.9M921.7 784.9L916.1 809.3M914.3 803.5L916.1 809.3L920.2 804.9M936.9 784.9L931.3 809.3M929.5 803.5L931.3 809.3L935.4 804.9M830.4 802.3L824.3 826.6M822.7 820.8L824.3 826.6L828.5 822.3M906.5 802.3L900.9 826.7M899.1 821L900.9 826.7L905 822.3M921.7 802.3L916.1 826.7M914.3 821L916.1 826.7L920.2 822.3M936.9 802.3L931.3 826.7M929.5 821L931.3 826.7L935.4 822.3M830.4 819.7L824.3 844M822.7 838.2L824.3 844L828.5 839.7M906.5 819.7L900.9 844.1M899.1 838.4L900.9 844.1L905 839.7M921.7 819.7L916.1 844.1M914.3 838.4L916.1 844.1L920.2 839.7M936.9 819.7L931.3 844.1M929.5 838.4L931.3 844.1L935.4 839.7"/>
<path stroke="#a0e632" d="M343.7 87.8L321.6 106.4M323.7 100.7L321.6 106.4L327.5 105.3M358.9 87.8L336.8 106.4M338.9 100.7L336.8 106.4L342.7 105.3M343.7 105.2L321.2 123.2M323.3 117.7L321.2 123.2L327.1 122.3M374.1 105.2L351.6 123.2M353.8 117.7L351.6 123.2L357.5 122.3M328.5 122.7L305.1 139.5M307.6 134.1L305.1 139.5L311.1 138.9M952.1 122.7L925.5 133.9M929.2 129.1L925.5 133.9L931.5 134.7M282.9 140.1L258.7 155.8M261.4 150.5L258.7 155.8L264.7 155.5M435 140.1L410.6 155.6M413.4 150.2L410.6 155.6L416.6 155.3M876.1 140.1L849.5 151.4M853.1 146.6L849.5 151.4L855.4 152.1M936.9 140.1L910.3 151.4M913.9 146.6L910.3 151.4L916.3 152.1M952.1 140.1L925.5 151.4M929.2 146.6L925.5 151.4L931.5 152.1M237.2 157.5L212.1 171.7M215.1 166.5L212.1 171.7L218.1 171.7M252.5 157.5L227.3 171.7M230.3 166.5L227.3 171.7L233.3 171.7M374.1 157.5L349 171.7M352 166.5L349 171.7L355 171.7M450.2 157.5L425.3 172.1M428.2 166.9L425.3 172.1L431.3 172.1M936.9 157.5L910.5 169.1M914 164.3L910.5 169.1L916.4 169.8M952.1 157.5L925.7 169.1M929.2 164.3L925.7 169.1L931.6 169.8M450.2 174.9L424.9 188.8M428 183.7L424.9 188.8L430.9 188.9M465.4 174.9L440.4 189.3M443.4 184.1L440.4 189.3L446.4 189.3M936.9 174.9L910.6 186.8M914.1 182L910.6 186.8L916.6 187.4M298.1 192.4L271.3 203.2M275 198.5L271.3 203.2L277.3 204M465.4 192.4L440.1 206.4M443.2 201.2L440.1 206.4L446.1 206.5M876.1 192.4L849.9 204.5M853.3 199.6L849.9 204.5L855.8 205M891.3 192.4L865.1 204.5M868.5 199.6L865.1 204.5L871.1 205.1M936.9 192.4L910.7 204.6M914.2 199.7L910.7 204.6L916.7 205.1M237.2 209.8L210.3 220.1M214.1 215.5L210.3 220.1L216.2 221.1M252.5 209.8L225.5 220.1M229.3 215.5L225.5 220.1L231.4 221.1M267.7 209.8L240.7 220.1M244.5 215.5L240.7 220.1L246.6 221.1M298.1 209.8L271.1 220.1M274.9 215.5L271.1 220.1L277.1 221.1M404.6 209.8L377.6 220.1M381.4 215.5L377.6 220.1L383.5 221.1M419.8 209.8L393 220.5M396.7 215.8L393 220.5L398.9 221.4M435 209.8L408.5 221.3M412.1 216.5L408.5 221.3L414.5 222M465.4 209.8L439.6 222.8M442.9 217.8L439.6 222.8L445.6 223.2M480.6 209.8L455.2 223.6M458.4 218.5L455.2 223.6L461.2 223.7M921.7 209.8L895.6 222.1M899 217.2L895.6 222.1L901.6 222.6M328.5 227.2L301.4 237.1M305.2 232.5L301.4 237.1L307.3 238.1M358.9 227.2L331.8 237.1M335.7 232.5L331.8 237.1L337.7 238.1M404.6 227.2L377.4 237.1M381.3 232.5L377.4 237.1L383.3 238.1M435 227.2L408.2 238M411.9 233.3L408.2 238L414.1 238.9M465.4 227.2L439.2 239.3M442.6 234.4L439.2 239.3L445.1 239.8M480.6 227.2L454.7 239.9M458 234.9L454.7 239.9L460.6 240.3M511 227.2L485.7 241.1M488.8 235.9L485.7 241.1L491.7 241.2M921.7 227.2L895.7 239.7M899.1 234.8L895.7 239.7L901.7 240.2M237.2 244.6L209.9 254M213.9 249.5L209.9 254L215.8 255.2M252.5 244.6L225.2 254M229.1 249.5L225.2 254L231 255.2M267.7 244.6L240.4 254M244.3 249.5L240.4 254L246.3 255.2M282.9 244.6L255.6 254M259.5 249.5L255.6 254L261.5 255.2M404.6 244.6L377.3 254M381.2 249.5L377.3 254L383.1 255.2M495.8 244.6L469.5 256.6M473 251.7L469.5 256.6L475.5 257.2M526.2 244.6L500.4 257.5M503.7 252.5L500.4 257.5L506.4 257.9M374.1 262.1L346.8 271.4M350.8 266.9L346.8 271.4L352.7 272.5M435 262.1L407.8 271.8M411.7 267.2L407.8 271.8L413.7 272.9M480.6 262.1L453.7 272.5M457.5 267.9L453.7 272.5L459.6 273.4M495.8 262.1L469 272.8M472.7 268.1L469 272.8L474.9 273.6M374.1 279.5L346.8 288.7M350.7 284.2L346.8 288.7L352.7 289.9M404.6 279.5L377.2 288.9M381.2 284.3L377.2 288.9L383.1 290M465.4 279.5L438.1 288.9M442 284.4L438.1 288.9L444 290M480.6 279.5L453.3 288.9M457.2 284.4L453.3 288.9L459.2 290M480.6 296.9L453 305.2M457.1 300.9L453 305.2L458.8 306.6M891.3 331.8L867.1 347.5M869.8 342.2L867.1 347.5L873.1 347.2M511 366.6L482.8 372.6M487.2 368.6L482.8 372.6L488.5 374.4M419.8 384.1L392.5 393.4M396.4 388.9L392.5 393.4L398.3 394.6M435 401.5L407.7 410.9M411.6 406.4L407.7 410.9L413.6 412.1M450.2 401.5L422.8 410.6M426.8 406.1L422.8 410.6L428.7 411.8M480.6 401.5L453 410M457.1 405.6L453 410L458.9 411.3M495.8 401.5L468.1 409.7M472.3 405.4L468.1 409.7L474 411.1M526.2 401.5L498.4 409.1M502.6 404.8L498.4 409.1L504.2 410.6M343.7 418.9L317.1 430.2M320.7 425.4L317.1 430.2L323.1 430.9M237.2 436.3L211.2 448.7M214.6 443.8L211.2 448.7L217.1 449.2M252.5 436.3L226.4 448.7M229.8 443.8L226.4 448.7L232.3 449.2M267.7 436.3L241.6 448.7M245 443.8L241.6 448.7L247.6 449.2M282.9 436.3L256.8 448.7M260.2 443.8L256.8 448.7L262.8 449.2M298.1 436.3L272 448.7M275.4 443.8L272 448.7L278 449.2M313.3 436.3L287.3 448.8M290.6 443.9L287.3 448.8L293.2 449.3M419.8 436.3L393.9 449.2M397.2 444.2L393.9 449.2L399.9 449.5M267.7 453.8L242.2 467.3M245.4 462.2L242.2 467.3L248.2 467.5M282.9 453.8L257.4 467.3M260.6 462.2L257.4 467.3L263.4 467.5M389.4 453.8L364.2 468M367.3 462.9L364.2 468L370.2 468.1M374.1 471.2L349.8 486.8M352.6 481.4L349.8 486.8L355.8 486.5M921.7 471.2L907.8 496.5M907.7 490.5L907.8 496.5L913 493.4M313.3 506L290.4 523.7M292.7 518.1L290.4 523.7L296.4 522.9M328.5 506L305.7 523.8M308 518.2L305.7 523.8L311.7 523M282.9 523.5L259.7 540.7M262.1 535.1L259.7 540.7L265.6 540M298.1 523.5L275.2 541.1M277.5 535.5L275.2 541.1L281.1 540.3M876.1 575.8L872.7 604.4M870.4 598.9L872.7 604.4L876.3 599.6M830.4 593.2L827.1 621.9M824.7 616.4L827.1 621.9L830.7 617.1M921.7 662.9L916.7 691.3M914.6 685.7L916.7 691.3L920.5 686.7M921.7 680.3L916.4 708.7M914.4 703L916.4 708.7L920.3 704.1M921.7 697.7L916.1 726.1M914.2 720.4L916.1 726.1L920 721.6M921.7 715.2L915.8 743.4M913.9 737.7L915.8 743.4L919.8 739M921.7 732.6L915.5 760.8M913.7 755.1L915.5 760.8L919.5 756.4M876.1 750L869.4 778.1M867.7 772.4L869.4 778.1L873.5 773.8M921.7 750L915.2 778.2M913.5 772.4L915.2 778.2L919.3 773.8M876.1 767.5L869.4 795.5M867.7 789.8L869.4 795.5L873.5 791.2M921.7 767.5L915.2 795.6M913.5 789.9L915.2 795.6L919.3 791.2M876.1 784.9L869.4 813M867.7 807.2L869.4 813L873.5 808.6M891.3 784.9L884.7 813M883 807.3L884.7 813L888.8 808.6M876.1 802.3L869.4 830.4M867.7 824.6L869.4 830.4L873.5 826M891.3 802.3L884.7 830.4M883 824.7L884.7 830.4L888.8 826M876.1 819.7L869.4 847.8M867.7 842.1L869.4 847.8L873.5 843.5M891.3 819.7L884.7 847.9M883 842.1L884.7 847.9L888.8 843.5"/>
<path stroke="#e6dc32" d="M343.7 122.7L317.2 141.8M319.6 136.3L317.2 141.8L323.1 141.2M358.9 122.7L332.4 141.8M334.8 136.3L332.4 141.8L338.4 141.2M374.1 122.7L347.6 141.8M350.1 136.3L347.6 141.8L353.6 141.2M313.3 140.1L285.9 157.9M288.6 152.6L285.9 157.9L291.8 157.6M404.6 140.1L377.1 157.9M379.8 152.6L377.1 157.9L383.1 157.6M313.3 192.4L283 204.6M286.7 199.9L283 204.6L288.9 205.5M450.2 192.4L421 207.2M424.3 202.2L421 207.2L427 207.5M282.9 209.8L252.3 221.5M256.1 216.9L252.3 221.5L258.3 222.5M450.2 209.8L420.6 223.7M424 218.8L420.6 223.7L426.6 224.2M374.1 227.2L343.4 238.4M347.2 233.8L343.4 238.4L349.3 239.5M419.8 227.2L389.2 238.8M393 234.1L389.2 238.8L395.1 239.7M495.8 227.2L466.7 242.2M470 237.2L466.7 242.2L472.7 242.5M298.1 244.6L267.1 255.3M271.1 250.8L267.1 255.3L273 256.4M358.9 244.6L328 255.3M331.9 250.8L328 255.3L333.9 256.4M374.1 244.6L343.2 255.3M347.1 250.8L343.2 255.3L349.1 256.4M389.4 244.6L358.4 255.3M362.3 250.8L358.4 255.3L364.3 256.4M419.8 244.6L388.9 255.6M392.8 251L388.9 255.6L394.8 256.7M480.6 244.6L450.6 257.7M454.2 252.9L450.6 257.7L456.6 258.4M511 244.6L481.5 258.7M484.9 253.8L481.5 258.7L487.5 259.2M237.2 262.1L206.2 272.4M210.2 267.9L206.2 272.4L212.1 273.6M252.5 262.1L221.4 272.4M225.4 267.9L221.4 272.4L227.3 273.6M267.7 262.1L236.6 272.4M240.6 267.9L236.6 272.4L242.5 273.6M282.9 262.1L251.8 272.4M255.8 267.9L251.8 272.4L257.7 273.6M298.1 262.1L267 272.4M271 267.9L267 272.4L272.9 273.6M419.8 262.1L388.9 272.9M392.8 268.3L388.9 272.9L394.8 274M358.9 279.5L327.9 289.8M331.9 285.3L327.9 289.8L333.8 291M389.4 279.5L358.4 290M362.3 285.5L358.4 290L364.2 291.2M419.8 279.5L388.8 290.2M392.8 285.6L388.8 290.2L394.7 291.3M435 279.5L404 290.2M408 285.6L404 290.2L409.9 291.3M450.2 279.5L419.2 290.2M423.2 285.6L419.2 290.2L425.1 291.3M419.8 296.9L388.8 307.4M392.7 302.9L388.8 307.4L394.7 308.6M435 296.9L403.9 307.2M407.9 302.7L403.9 307.2L409.8 308.4M450.2 296.9L419 306.9M423.1 302.5L419 306.9L424.9 308.2M465.4 296.9L434.1 306.6M438.2 302.2L434.1 306.6L440 308M435 366.6L403.7 376.3M407.8 371.9L403.7 376.3L409.6 377.6M404.6 384.1L373.7 394.8M377.6 390.3L373.7 394.8L379.6 396M480.6 384.1L449.1 392.9M453.3 388.6L449.1 392.9L454.9 394.3M465.4 401.5L434.2 411.5M438.3 407.1L434.2 411.5L440.1 412.8M237.2 418.9L207.1 431.5M210.7 426.8L207.1 431.5L213 432.3M252.5 418.9L222.3 431.5M225.9 426.8L222.3 431.5L228.2 432.3M267.7 418.9L237.5 431.5M241.1 426.8L237.5 431.5L243.4 432.3M282.9 418.9L252.7 431.5M256.3 426.8L252.7 431.5L258.6 432.3M298.1 418.9L267.9 431.5M271.5 426.8L267.9 431.5L273.9 432.3M404.6 418.9L374.5 431.9M378.1 427L374.5 431.9L380.5 432.6M419.8 418.9L389.7 431.7M393.3 426.9L389.7 431.7L395.6 432.4M435 418.9L404.7 431.4M408.4 426.6L404.7 431.4L410.7 432.2M374.1 436.3L344.8 450.8M348.1 445.8L344.8 450.8L350.8 451.2M358.9 453.8L330.3 469.7M333.4 464.5L330.3 469.7L336.3 469.8M343.7 471.2L316 488.5M318.8 483.2L316 488.5L322 488.3M358.9 471.2L331.3 488.7M334.1 483.4L331.3 488.7L337.3 488.4M328.5 488.6L301.6 507.3M304.2 501.9L301.6 507.3L307.6 506.8M343.7 488.6L317 507.5M319.5 502L317 507.5L322.9 506.9M876.1 558.3L881.8 590.6M877.9 586L881.8 590.6L883.8 584.9M784.8 575.8L790.5 608M786.6 603.4L790.5 608L792.5 602.3M815.2 575.8L820.9 608M817.1 603.4L820.9 608L823 602.3M845.7 575.8L851.3 608M847.5 603.4L851.3 608L853.4 602.3"/>
<path stroke="#e6af2d" d="M358.9 105.2L330.3 128M332.5 122.5L330.3 128L336.3 127.1M298.1 140.1L267.4 160M270.1 154.7L267.4 160L273.4 159.7M267.7 157.5L235.8 175.4M238.8 170.3L235.8 175.4L241.8 175.5M282.9 157.5L251 175.4M254.1 170.3L251 175.4L257 175.5M435 192.4L401.8 207.8M405.3 202.9L401.8 207.8L407.8 208.3M313.3 244.6L278.7 256.6M282.7 252L278.7 256.6L284.6 257.7M328.5 244.6L293.9 256.6M297.9 252L293.9 256.6L299.8 257.7M343.7 244.6L309.1 256.6M313.1 252L309.1 256.6L315 257.7M313.3 262.1L278.6 273.7M282.6 269.2L278.6 273.7L284.5 274.9M328.5 262.1L293.8 273.7M297.8 269.2L293.8 273.7L299.7 274.9M343.7 262.1L309.1 273.8M313 269.2L309.1 273.8L314.9 274.9M237.2 279.5L202.4 290.6M206.4 286.2L202.4 290.6L208.3 291.9M252.5 279.5L217.6 290.6M221.7 286.2L217.6 290.6L223.5 291.9M267.7 279.5L232.8 290.6M236.9 286.2L232.8 290.6L238.7 291.9M282.9 279.5L248 290.6M252.1 286.2L248 290.6L253.9 291.9M298.1 279.5L263.3 290.6M267.3 286.2L263.3 290.6L269.1 291.9M313.3 279.5L278.5 290.7M282.5 286.3L278.5 290.7L284.4 292M343.7 279.5L309 291M313 286.5L309 291L314.9 292.2M237.2 296.9L202.3 307.6M206.4 303.2L202.3 307.6L208.1 309M252.5 296.9L217.5 307.6M221.6 303.2L217.5 307.6L223.3 309M267.7 296.9L232.7 307.6M236.8 303.2L232.7 307.6L238.5 309M282.9 296.9L247.9 307.6M252 303.2L247.9 307.6L253.7 309M298.1 296.9L263.1 307.7M267.2 303.3L263.1 307.7L269 309M313.3 296.9L278.4 307.8M282.5 303.4L278.4 307.8L284.2 309.2M374.1 296.9L339.4 308.5M343.4 304L339.4 308.5L345.3 309.7M389.4 296.9L354.7 308.6M358.7 304.1L354.7 308.6L360.6 309.8M404.6 296.9L370 308.8M373.9 304.2L370 308.8L375.8 309.9M237.2 314.4L202.1 324.4M206.3 320.1L202.1 324.4L207.9 325.9M252.5 314.4L217.3 324.4M221.5 320.1L217.3 324.4L223.1 325.9M267.7 314.4L232.5 324.4M236.7 320.1L232.5 324.4L238.3 325.9M282.9 314.4L247.7 324.4M251.9 320.1L247.7 324.4L253.5 325.9M298.1 314.4L263 324.5M267.1 320.2L263 324.5L268.8 326M313.3 314.4L278.2 324.7M282.4 320.4L278.2 324.7L284.1 326.1M404.6 314.4L369.9 326M373.9 321.5L369.9 326L375.8 327.2M419.8 314.4L385 325.8M389 321.4L385 325.8L390.9 327M435 314.4L400.1 325.4M404.2 320.9L400.1 325.4L406 326.7M237.2 331.8L201.9 341.2M206.2 337L201.9 341.2L207.7 342.8M252.5 331.8L217.1 341.2M221.4 337L217.1 341.2L222.9 342.8M267.7 331.8L232.3 341.2M236.6 337L232.3 341.2L238.1 342.8M480.6 331.8L445.1 340.5M449.4 336.4L445.1 340.5L450.9 342.2M237.2 349.2L201.8 358.1M206.1 353.9L201.8 358.1L207.5 359.7M252.5 349.2L217 358.1M221.3 353.9L217 358.1L222.7 359.7M267.7 349.2L232.2 358.1M236.5 353.9L232.2 358.1L237.9 359.7M237.2 366.6L202.1 376.7M206.3 372.4L202.1 376.7L207.9 378.2M252.5 366.6L217.3 376.7M221.5 372.4L217.3 376.7L223.1 378.2M267.7 366.6L232.5 376.7M236.7 372.4L232.5 376.7L238.3 378.2M419.8 366.6L385 378M389 373.6L385 378L390.9 379.3M237.2 384.1L202.5 395.4M206.5 390.9L202.5 395.4L208.3 396.6M252.5 384.1L217.7 395.4M221.7 390.9L217.7 395.4L223.5 396.6M267.7 384.1L232.9 395.4M236.9 390.9L232.9 395.4L238.8 396.6M282.9 384.1L248.1 395.4M252.1 390.9L248.1 395.4L254 396.6M298.1 384.1L263.3 395.4M267.3 390.9L263.3 395.4L269.2 396.7M389.4 384.1L354.8 396M358.7 391.5L354.8 396L360.7 397.2M526.2 384.1L490.6 392.3M495 388.2L490.6 392.3L496.4 394.1M237.2 401.5L202.9 414M206.7 409.4L202.9 414L208.8 415M252.5 401.5L218.1 414M221.9 409.4L218.1 414L224 415M267.7 401.5L233.3 414M237.2 409.4L233.3 414L239.2 415M282.9 401.5L248.5 414M252.4 409.4L248.5 414L254.4 415M298.1 401.5L263.7 414M267.6 409.4L263.7 414L269.6 415M313.3 401.5L278.9 414M282.8 409.4L278.9 414L284.8 415M343.7 401.5L309.4 414M313.2 409.4L309.4 414L315.3 415M358.9 401.5L324.6 414M328.4 409.4L324.6 414L330.5 415M374.1 453.8L342.3 471.7M345.3 466.5L342.3 471.7L348.3 471.8M739.2 558.3L726.7 592.7M725.6 586.8L726.7 592.7L731.3 588.8M800 575.8L806.4 611.8M802.5 607.2L806.4 611.8L808.4 606.1"/>
<path stroke="#f08228" d="M404.6 157.5L369.3 177.3M372.4 172.2L369.3 177.3L375.3 177.4M419.8 174.9L383.5 192.8M386.9 187.8L383.5 192.8L389.5 193.2M389.4 227.2L351.4 241M355.2 236.4L351.4 241L357.3 242.1M358.9 262.1L320.6 275M324.6 270.5L320.6 275L326.5 276.2M328.5 279.5L290.1 292M294.1 287.6L290.1 292L296 293.3M328.5 296.9L290 309.2M294 304.7L290 309.2L295.8 310.4M343.7 296.9L305.2 309.3M309.3 304.9L305.2 309.3L311.1 310.6M358.9 296.9L320.5 309.5M324.5 305L320.5 309.5L326.4 310.7M328.5 314.4L289.8 326.1M293.9 321.7L289.8 326.1L295.7 327.4M343.7 314.4L305.1 326.3M309.2 321.9L305.1 326.3L310.9 327.6M358.9 314.4L320.4 326.5M324.4 322.1L320.4 326.5L326.2 327.8M374.1 314.4L335.7 326.7M339.7 322.3L335.7 326.7L341.5 328M389.4 314.4L350.9 327M354.9 322.5L350.9 327L356.8 328.2M450.2 314.4L411.5 326M415.6 321.7L411.5 326L417.3 327.4M465.4 314.4L426.5 325.5M430.7 321.2L426.5 325.5L432.4 327M282.9 331.8L243.8 342.2M248.1 338L243.8 342.2L249.6 343.8M298.1 331.8L259.1 342.4M263.3 338.1L259.1 342.4L264.9 343.9M313.3 331.8L274.4 342.7M278.6 338.4L274.4 342.7L280.2 344.2M328.5 331.8L289.7 342.9M293.8 338.6L289.7 342.9L295.5 344.4M343.7 331.8L305 343.2M309.1 338.9L305 343.2L310.8 344.6M404.6 331.8L366.1 344.4M370.1 339.9L366.1 344.4L372 345.6M419.8 331.8L381.3 344.2M385.3 339.7L381.3 344.2L387.2 345.4M435 331.8L396.3 343.5M400.4 339.1L396.3 343.5L402.1 344.9M450.2 331.8L411.3 342.8M415.5 338.5L411.3 342.8L417.1 344.3M282.9 349.2L243.7 359M248 354.8L243.7 359L249.4 360.6M298.1 349.2L258.9 359.2M263.2 355L258.9 359.2L264.7 360.8M313.3 349.2L274.2 359.5M278.5 355.3L274.2 359.5L280 361.1M328.5 349.2L289.5 359.8M293.7 355.6L289.5 359.8L295.3 361.4M343.7 349.2L304.8 360.2M309 355.9L304.8 360.2L310.6 361.7M358.9 349.2L320.1 360.5M324.3 356.2L320.1 360.5L325.9 361.9M374.1 349.2L335.4 360.9M339.5 356.5L335.4 360.9L341.3 362.2M404.6 349.2L366.1 361.5M370.1 357.1L366.1 361.5L371.9 362.8M419.8 349.2L381.2 361.3M385.3 356.9L381.2 361.3L387 362.6M435 349.2L396.1 360.4M400.3 356.1L396.1 360.4L402 361.9M450.2 349.2L411.1 359.6M415.4 355.3L411.1 359.6L416.9 361.1M465.4 349.2L426.1 358.7M430.5 354.6L426.1 358.7L431.9 360.4M282.9 366.6L244 377.8M248.2 373.5L244 377.8L249.8 379.2M298.1 366.6L259.3 377.9M263.4 373.6L259.3 377.9L265.1 379.3M313.3 366.6L274.5 378.1M278.7 373.8L274.5 378.1L280.4 379.5M328.5 366.6L289.8 378.3M293.9 374L289.8 378.3L295.7 379.7M343.7 366.6L305.1 378.6M309.2 374.2L305.1 378.6L310.9 379.9M358.9 366.6L320.4 378.8M324.4 374.4L320.4 378.8L326.2 380.1M374.1 366.6L335.7 379M339.7 374.6L335.7 379L341.5 380.3M389.4 366.6L350.9 379.2M354.9 374.8L350.9 379.2L356.8 380.5M404.6 366.6L366.2 379.5M370.2 375L366.2 379.5L372.1 380.7M313.3 384.1L274.9 396.7M278.9 392.2L274.9 396.7L280.8 397.9M328.5 384.1L290.2 396.8M294.1 392.3L290.2 396.8L296 398M343.7 384.1L305.4 396.9M309.4 392.4L305.4 396.9L311.3 398.1M358.9 384.1L320.7 397.1M324.6 392.5L320.7 397.1L326.5 398.2M374.1 384.1L335.9 397.2M339.8 392.6L335.9 397.2L341.8 398.3M495.8 384.1L456.7 394.4M461 390.1L456.7 394.4L462.5 395.9M511 384.1L471.8 393.8M476.1 389.6L471.8 393.8L477.6 395.4M328.5 401.5L290.5 415.3M294.4 410.7L290.5 415.3L296.4 416.4M313.3 418.9L276 434.6M279.7 429.8L276 434.6L282 435.3M328.5 418.9L291.3 434.6M294.9 429.8L291.3 434.6L297.2 435.4M389.4 436.3L353.1 454.3M356.5 449.3L353.1 454.3L359.1 454.7M404.6 436.3L368.4 454.4M371.7 449.4L368.4 454.4L374.4 454.8M830.4 575.8L837.5 615.6M833.6 611L837.5 615.6L839.5 609.9"/>
<path stroke="#fa3c3c" d="M389.4 140.1L352.2 164.2M354.9 158.8L352.2 164.2L358.2 163.9M358.9 331.8L316.6 344.6M320.7 340.3L316.6 344.6L322.4 346M374.1 331.8L331.9 344.9M335.9 340.5L331.9 344.9L337.7 346.3M389.4 331.8L347.2 345.2M351.2 340.8L347.2 345.2L353 346.5M465.4 331.8L422.6 343.1M426.9 338.9L422.6 343.1L428.4 344.7M389.4 349.2L347.1 362.3M351.1 357.9L347.1 362.3L352.9 363.7M495.8 366.6L452.7 376.5M457.1 372.5L452.7 376.5L458.4 378.3"/>
</g>
<g clip-path="url(#fr)" fill="none" stroke="#000" stroke-linejoin="round" stroke-linecap="round">
<path stroke-width="2" d="M236.0 129.0L242.0 127.6L247.0 130.0L252.0 135.0L256.0 137.0L257.0 134.0L260.0 133.6L262.0 137.0L270.0 138.5L282.0 139.0L293.0 138.5L300.0 134.5L305.0 131.0L306.0 127.0L304.0 124.0L301.0 121.0L300.0 117.0L302.0 114.0L306.0 112.6L310.0 114.0L312.0 117.0L315.0 119.5M236.0 131.5L241.0 129.5L245.0 131.0L248.0 135.0L244.0 136.0L238.0 135.0L236.0 134.5M317.0 120.0L322.0 120.0L322.0 125.0L317.0 125.0L317.0 120.0M326.0 121.8L331.0 118.0L337.3 118.0L338.5 120.5L334.8 123.0L329.8 125.5L328.5 128.5L332.3 132.0L334.8 137.0L336.0 141.0L341.0 143.5L343.5 146.0L346.7 152.0M346.7 152.0L344.0 155.3L342.7 158.0L340.0 162.0L337.3 160.7L332.0 158.0L328.0 152.7L324.0 149.3L321.3 148.7L316.0 152.7L314.0 160.7L316.0 166.0L322.7 170.0L326.0 170.5L332.3 171.8L336.0 178.0L343.5 188.0L351.0 198.0L358.5 205.5L361.0 208.0L368.5 214.3L376.0 218.0L383.5 223.0L388.5 233.0L396.0 245.5L406.0 258.0L411.0 268.0L421.0 278.0L431.0 288.0L441.0 299.0L446.0 305.0L456.0 315.0L463.5 322.5L471.0 327.5L468.5 335.0L461.0 342.5L453.5 347.5L461.0 350.0L468.5 352.5L472.3 357.5L473.5 365.0L472.3 372.5L466.0 377.5L462.3 385.0L456.7 396.7L458.3 408.9L463.3 421.1L468.9 430.0L475.6 438.9L482.2 441.1L488.9 441.1L496.7 443.9L503.3 448.9L508.9 456.7L514.4 465.6L517.8 466.7L520.0 460.0L525.6 453.3L528.9 452.8L535.6 444.4L532.2 442.2L530.0 434.4L522.2 432.2L515.6 430.0L511.1 425.6L506.7 420.0L506.7 408.9L503.3 403.9M503.3 403.9L506.7 407.8L512.2 412.8L517.8 413.3L522.2 416.7L527.8 418.9L530.0 423.3L534.4 427.8L541.1 430.6L545.6 433.3L548.9 440.0L552.2 445.6L555.6 451.1L551.1 457.8L550.6 461.1L555.6 468.9L560.0 472.2L563.5 472.5L573.5 475.0L583.5 480.0L593.5 485.0L603.5 488.8L611.0 495.0L618.5 500.0L626.0 507.5L631.0 515.0L634.8 522.5L634.8 532.5L633.5 540.0L628.5 547.5L626.0 555.0L628.5 562.5L636.0 570.0L643.5 572.5L651.0 575.0L658.5 577.5L661.0 572.5L659.8 565.0L653.5 560.0L648.5 555.0L647.3 547.5L656.0 546.3L663.5 552.5L671.0 557.5L672.3 565.0L671.0 572.5L672.3 580.0L677.3 587.5L683.5 590.0L688.5 597.5L691.0 607.5L693.5 607.5L693.5 597.5L696.0 590.0L706.0 585.0L716.0 583.8L725.7 580.0L728.0 589.3L732.7 587.0L739.7 582.3L744.3 589.3L749.0 594.0L756.0 591.7L765.3 592.8L774.7 594.0L781.7 598.7L784.0 605.7L788.7 612.7L793.3 621.0L795.7 630.0L802.7 638.0L812.0 641.5L819.0 645.0L823.7 645.0L826.0 638.0L821.3 635.7L824.8 628.7L827.2 624.0L830.7 624.0L835.3 621.7L837.7 628.7L835.3 633.3L838.8 640.3L842.3 649.7L845.8 659.0L847.0 668.3L844.7 677.7L849.3 682.3L858.7 684.7L870.3 682.3L882.0 681.2L886.7 677.7L891.3 673.0L892.5 667.2L898.3 664.8L907.7 663.7L915.8 661.3L919.3 656.7L917.0 647.3L912.3 640.3L905.3 633.3L900.7 626.3L891.3 619.0L884.3 612.7L880.8 603.3L882.0 594.0L886.7 587.0L896.0 582.3L907.7 577.7L919.3 570.7L928.7 563.7L938.0 559.0L936.8 554.3L938.0 542.7L942.7 533.3L954.3 526.3L964.0 519.0M645.0 78.9L643.6 88.7L641.8 97.6L640.0 106.4L638.2 117.1L638.2 131.3L640.0 140.2L641.8 149.1L642.7 158.0L641.8 166.9L640.9 174.0L639.1 181.1L639.1 188.2L641.8 197.1L644.4 204.2L643.6 209.6L636.4 211.3L631.1 214.9L630.2 220.2L629.3 229.1L628.5 232.5L627.3 242.5L628.5 257.5L629.8 267.5L631.0 278.8L626.0 285.0L618.5 292.5L614.8 302.5L614.8 315.0L617.3 325.0L621.0 335.0L626.0 342.5L631.0 345.0L633.5 350.0L634.8 361.3L641.0 370.0L646.0 380.0L653.5 392.5L656.0 400.0L666.0 410.0L676.0 425.0L683.5 435.0L693.5 447.5L701.0 457.5L711.0 465.0L715.0 467.3L719.7 470.4L724.3 474.3L728.2 479.0L731.3 481.3L734.4 482.5L733.3 485.2L731.3 489.1L732.9 492.2L730.6 493.8L731.3 497.7L733.7 500.8L736.0 503.1L738.3 501.5L741.4 503.1L743.8 501.5L746.9 502.3L745.3 503.9L741.4 506.2L740.7 509.3L742.2 512.4L741.4 516.3L743.0 519.4L747.7 521.8L751.5 524.1L753.1 526.4L757.0 526.4L760.9 524.9L764.0 527.2L767.9 524.9L772.5 524.1L776.4 526.4L778.8 524.1L778.0 519.4L774.1 517.9L774.9 514.8L776.4 510.9L775.7 508.5L771.8 506.2L768.7 505.4L767.9 508.5L767.1 510.1L769.4 510.9L774.9 514.8L778.8 516.5L782.7 517.9L785.8 521.0L789.7 527.2L794.3 532.7L800.3 535.7L812.0 540.3L826.0 539.2L840.0 535.7L851.7 531.0L861.0 521.7L872.7 514.7L884.3 510.0L897.1 506.0L903.3 503.3L909.6 500.7L915.8 495.3L919.3 490.9L923.8 488.2L929.1 486.0L931.8 485.6L933.6 483.8L934.4 481.6L938.0 479.3L942.4 475.8L945.1 471.3L947.8 467.1L951.3 465.6L955.8 466.0L960.2 468.2L964.0 466.5M640.0 174.0L637.3 171.3L632.9 171.3L632.0 174.9L634.7 177.6L638.2 184.7L637.3 191.8L632.0 200.7L632.9 206.0L636.4 211.3M631.0 192.0L622.2 195.3L621.3 202.4L625.8 214.9L631.1 214.9M634.7 94.0L641.8 90.4L640.5 99.3L636.0 98.0L634.7 94.0M399.8 208.0L411.0 203.0L421.0 200.5L424.8 200.5L427.3 208.0L431.0 215.5L438.5 218.0L439.8 225.5L436.0 229.3L426.0 230.5L422.3 228.0L421.0 223.0L416.0 220.5L408.5 218.0L401.0 214.3L399.8 208.0M464.0 235.0L478.7 241.0L484.0 245.0L488.0 254.3L494.7 256.3L501.3 259.7L509.3 266.3L516.0 273.0L522.7 283.7L530.7 295.7L533.3 303.7L541.3 311.7L543.3 321.0L542.7 330.3L536.0 333.7L528.0 333.0L520.0 330.3L509.3 328.3L498.7 324.3L484.0 317.0L473.3 311.7L466.7 303.7L461.3 291.7L458.7 281.0L456.0 274.3L454.7 269.0L453.3 259.7L452.7 249.0L453.3 241.0L456.0 237.7L464.0 235.0M454.7 270.3L457.3 267.7L463.3 268.3L461.3 271.7L458.7 274.3L456.0 274.3L454.7 270.3M472.0 285.0L478.7 283.7L481.3 287.7L482.7 291.7L488.0 293.7L489.3 296.3L485.3 301.0L482.7 298.3L480.0 294.3L473.3 293.0L470.7 290.3L472.0 285.0M511.0 418.5L515.0 417.5L520.0 419.5L518.0 422.0L513.0 421.5L511.0 418.5M781.7 645.0L774.7 649.7L771.2 656.7L773.5 663.7L779.3 670.7L786.3 673.0L792.2 671.8L791.0 668.3L785.2 666.0L784.0 660.2L785.2 653.2L782.8 647.3L781.7 645.0M822.5 657.8L827.0 655.0L831.3 652.0L835.3 650.8L836.4 653.0L831.8 654.3L826.0 656.7L822.5 659.0M775.8 677.5L778.2 680.2M736.5 481.0L739.5 483.5L741.5 486.5L743.0 489.9L740.0 488.0L737.0 485.0L736.5 481.0M745.3 488.0L749.0 489.5L752.0 492.0L753.1 496.0L749.5 494.0L746.5 491.0L745.3 488.0M756.2 504.5L759.0 503.9L760.9 507.5L757.5 508.2L756.2 504.5M933.6 485.5L931.8 488.2L933.6 491.8L935.3 498.0L932.7 500.7L930.9 503.3L933.6 506.9L934.4 510.4L933.6 515.8L939.8 519.3L945.1 522.9L950.4 527.3L954.0 528.2M923.8 490.9L923.8 496.2L922.0 499.8L924.7 503.3L922.9 506.9L919.3 510.4L915.8 513.1L912.2 517.6L914.9 518.9L919.3 517.6L922.0 519.3L926.4 514.0L928.2 510.4L930.9 511.3L933.6 514.0M952.2 490.0L954.0 494.4L955.8 499.8L952.2 503.3L946.9 505.1L943.3 506.9L946.9 510.4L952.2 514.0L955.8 518.4L954.0 522.9L951.3 526.4M957.6 522.9L962.9 519.3"/>
<path stroke-width="1.1" d="M312.7 80.0L311.3 87.3L308.7 94.0L306.7 99.3L306.4 104.7L308.7 108.0L310.7 110.7M346.7 153.5L364.8 154.5L374.8 145.5L374.8 134.3L378.5 128.0L386.0 126.8L391.0 128.0L392.3 123.0L388.5 115.5L387.3 103.0L387.3 90.5L388.5 84.3L398.5 83.0L411.0 84.3L421.0 81.8L423.5 79.3M471.0 327.5L476.0 320.0L486.0 322.5L501.0 326.3L516.0 335.0L532.3 342.5L541.0 337.5L548.5 332.5L558.5 332.5L566.0 336.3L574.8 340.0L577.3 342.5L583.5 347.5L588.5 355.0L596.0 356.3L603.5 357.5L611.0 362.5L618.5 361.3L626.0 358.8L631.0 355.0L632.3 348.8M705.0 462.0L695.3 468.0L690.7 470.3L687.3 476.0L687.3 487.5L688.3 500.0L688.3 514.7L702.3 519.3L704.7 526.3L700.0 533.3L693.0 538.0L689.5 545.0L690.7 552.0L695.3 559.0L696.5 568.3L693.0 575.3L686.0 577.7L684.0 583.0L686.0 590.0L690.0 596.0"/>
<ellipse cx="811.0" cy="121.0" rx="1.2" ry="2.4" fill="#000" stroke="none"/>
<ellipse cx="785.0" cy="195.0" rx="1.4" ry="3.0" fill="#000" stroke="none"/>
<ellipse cx="449.5" cy="236.0" rx="1.5" ry="1.8" fill="#000" stroke="none"/>
<ellipse cx="523.0" cy="321.0" rx="1.4" ry="2.2" fill="#000" stroke="none"/>
</g>
<path d="M289.2 820.3V825.8M367.9 820.3V825.8M446.5 820.3V825.8M525.2 820.3V825.8M603.8 820.3V825.8M682.5 820.3V825.8M761.1 820.3V825.8M839.7 820.3V825.8M918.4 820.3V825.8M231.0 795.0H237.0M231.0 703.4H237.0M231.0 611.9H237.0M231.0 520.3H237.0M231.0 428.7H237.0M231.0 337.2H237.0M231.0 245.6H237.0M231.0 154.0H237.0" stroke="#000" stroke-width="1.3" fill="none"/>
<text class="t" transform="scale(0.950,1)" x="38.54" y="60.50" font-size="35.00" textLength="61.42" lengthAdjust="spacingAndGlyphs" stroke="#fff" stroke-width="1.20">IMN</text>
<text class="t" x="93.35" y="68.80" font-size="52.50" textLength="29.30" lengthAdjust="spacingAndGlyphs" stroke="#fff" stroke-width="3.40">/</text>
<text class="t" transform="scale(0.950,1)" x="127.13" y="60.50" font-size="35.00" textLength="70.19" lengthAdjust="spacingAndGlyphs" stroke="#fff" stroke-width="1.20">WRF</text>
<text class="t" x="188.13" y="59.50" font-size="35.00" textLength="28.97" lengthAdjust="spacingAndGlyphs" stroke="#fff" stroke-width="0.60">-</text>
<text class="t" transform="scale(0.950,1)" x="230.74" y="60.50" font-size="35.00" textLength="36.63" lengthAdjust="spacing" stroke="#fff" stroke-width="1.20">11</text>
<text class="t" transform="scale(0.950,1)" x="293.68" y="60.50" font-size="35.00" textLength="164.21" lengthAdjust="spacing" stroke="#fff" stroke-width="1.20">Direccion</text>
<text class="t" x="452.79" y="60.50" font-size="35.00" textLength="18.34" lengthAdjust="spacingAndGlyphs" stroke="#fff" stroke-width="1.20">y</text>
<text class="t" transform="scale(0.950,1)" x="518.95" y="60.50" font-size="35.00" textLength="164.21" lengthAdjust="spacing" stroke="#fff" stroke-width="1.20">velocidad</text>
<text class="t" transform="scale(0.950,1)" x="704.21" y="60.50" font-size="35.00" textLength="51.58" lengthAdjust="spacing" stroke="#fff" stroke-width="1.20">del</text>
<text class="t" transform="scale(0.950,1)" x="776.84" y="60.50" font-size="35.00" textLength="104.21" lengthAdjust="spacing" stroke="#fff" stroke-width="1.20">viento</text>
<text class="t" transform="scale(0.950,1)" x="903.16" y="60.50" font-size="35.00" textLength="83.16" lengthAdjust="spacing" stroke="#fff" stroke-width="1.20">(925</text>
<text class="t" transform="scale(0.950,1)" x="1008.42" y="60.50" font-size="35.00" textLength="214.74" lengthAdjust="spacing" stroke="#fff" stroke-width="1.20">hPa)(km/h)</text>
<text class="t" transform="scale(1.120,1)" x="868.75" y="26.75" font-size="21.60" textLength="168.75" lengthAdjust="spacing" stroke="#fff" stroke-width="0.60">16Z01FEB2021</text>
<text class="t" transform="scale(1.100,1)" x="346.36" y="876.60" font-size="23.40" textLength="94.55" lengthAdjust="spacing" stroke="#fff" stroke-width="0.50">Instituto</text>
<text class="t" transform="scale(1.100,1)" x="454.55" y="876.60" font-size="23.40" textLength="158.18" lengthAdjust="spacing" stroke="#fff" stroke-width="0.50">Meteorologico</text>
<text class="t" transform="scale(1.100,1)" x="626.36" y="876.60" font-size="23.40" textLength="101.82" lengthAdjust="spacing" stroke="#fff" stroke-width="0.50">Nacional</text>
<text class="t" transform="scale(1.100,1)" x="739.64" y="876.60" font-size="23.40" textLength="63.09" lengthAdjust="spacing" stroke="#fff" stroke-width="0.50">Costa</text>
<text class="t" transform="scale(1.100,1)" x="816.73" y="876.60" font-size="23.40" textLength="49.27" lengthAdjust="spacing" stroke="#fff" stroke-width="0.50">Rica</text>
<text class="t" transform="scale(1.350,1)" x="557.04" y="894.50" font-size="18.50" textLength="30.37" lengthAdjust="spacing" stroke="#fff" stroke-width="0.30">100</text>
<text class="t" x="274.16" y="840.75" font-size="17.20" textLength="29.65" lengthAdjust="spacingAndGlyphs" stroke="#fff" stroke-width="0.00">88W</text>
<text class="t" x="353.28" y="840.75" font-size="17.20" textLength="28.70" lengthAdjust="spacingAndGlyphs" stroke="#fff" stroke-width="0.00">87W</text>
<text class="t" x="431.44" y="840.75" font-size="17.20" textLength="29.62" lengthAdjust="spacingAndGlyphs" stroke="#fff" stroke-width="0.00">86W</text>
<text class="t" x="510.55" y="840.75" font-size="17.20" textLength="28.63" lengthAdjust="spacingAndGlyphs" stroke="#fff" stroke-width="0.00">85W</text>
<text class="t" x="588.66" y="840.75" font-size="17.20" textLength="29.65" lengthAdjust="spacingAndGlyphs" stroke="#fff" stroke-width="0.00">84W</text>
<text class="t" x="667.78" y="840.75" font-size="17.20" textLength="29.62" lengthAdjust="spacingAndGlyphs" stroke="#fff" stroke-width="0.00">83W</text>
<text class="t" x="745.91" y="840.75" font-size="17.20" textLength="29.62" lengthAdjust="spacingAndGlyphs" stroke="#fff" stroke-width="0.00">82W</text>
<text class="t" x="825.03" y="840.75" font-size="17.20" textLength="29.65" lengthAdjust="spacingAndGlyphs" stroke="#fff" stroke-width="0.00">81W</text>
<text class="t" x="903.14" y="840.75" font-size="17.20" textLength="29.62" lengthAdjust="spacingAndGlyphs" stroke="#fff" stroke-width="0.00">80W</text>
<text class="t" x="207.28" y="801.15" font-size="17.10" textLength="20.24" lengthAdjust="spacingAndGlyphs" stroke="#fff" stroke-width="0.00">6N</text>
<text class="t" x="207.28" y="709.58" font-size="17.10" textLength="20.24" lengthAdjust="spacingAndGlyphs" stroke="#fff" stroke-width="0.00">7N</text>
<text class="t" x="208.34" y="618.01" font-size="17.10" textLength="19.12" lengthAdjust="spacingAndGlyphs" stroke="#fff" stroke-width="0.00">8N</text>
<text class="t" x="208.34" y="526.44" font-size="17.10" textLength="19.12" lengthAdjust="spacingAndGlyphs" stroke="#fff" stroke-width="0.00">9N</text>
<text class="t" x="198.75" y="434.87" font-size="17.10" textLength="28.76" lengthAdjust="spacingAndGlyphs" stroke="#fff" stroke-width="0.00">10N</text>
<text class="t" x="198.75" y="343.30" font-size="17.10" textLength="28.76" lengthAdjust="spacingAndGlyphs" stroke="#fff" stroke-width="0.00">11N</text>
<text class="t" x="198.75" y="251.73" font-size="17.10" textLength="28.76" lengthAdjust="spacingAndGlyphs" stroke="#fff" stroke-width="0.00">12N</text>
<text class="t" x="198.75" y="160.16" font-size="17.10" textLength="28.76" lengthAdjust="spacingAndGlyphs" stroke="#fff" stroke-width="0.00">13N</text>
<text class="t" x="1065.84" y="747.86" font-size="20.00" textLength="12.33" lengthAdjust="spacingAndGlyphs" stroke="#fff" stroke-width="0.20">7</text>
<text class="t" x="1064.82" y="694.97" font-size="20.00" textLength="26.00" lengthAdjust="spacingAndGlyphs" stroke="#fff" stroke-width="0.20">14</text>
<text class="t" x="1065.97" y="642.07" font-size="20.00" textLength="24.92" lengthAdjust="spacingAndGlyphs" stroke="#fff" stroke-width="0.20">21</text>
<text class="t" x="1065.97" y="589.18" font-size="20.00" textLength="24.92" lengthAdjust="spacingAndGlyphs" stroke="#fff" stroke-width="0.20">28</text>
<text class="t" x="1065.93" y="536.29" font-size="20.00" textLength="24.96" lengthAdjust="spacingAndGlyphs" stroke="#fff" stroke-width="0.20">35</text>
<text class="t" x="1065.93" y="483.40" font-size="20.00" textLength="24.96" lengthAdjust="spacingAndGlyphs" stroke="#fff" stroke-width="0.20">42</text>
<text class="t" x="1065.95" y="430.50" font-size="20.00" textLength="24.92" lengthAdjust="spacingAndGlyphs" stroke="#fff" stroke-width="0.20">49</text>
<text class="t" x="1064.92" y="377.61" font-size="20.00" textLength="26.00" lengthAdjust="spacingAndGlyphs" stroke="#fff" stroke-width="0.20">56</text>
<text class="t" x="1064.92" y="324.72" font-size="20.00" textLength="26.00" lengthAdjust="spacingAndGlyphs" stroke="#fff" stroke-width="0.20">63</text>
<text class="t" x="1064.92" y="271.83" font-size="20.00" textLength="26.00" lengthAdjust="spacingAndGlyphs" stroke="#fff" stroke-width="0.20">70</text>
<text class="t" x="1064.90" y="218.93" font-size="20.00" textLength="26.05" lengthAdjust="spacingAndGlyphs" stroke="#fff" stroke-width="0.20">77</text>
<text class="t" x="1065.93" y="166.04" font-size="20.00" textLength="24.87" lengthAdjust="spacingAndGlyphs" stroke="#fff" stroke-width="0.20">84</text>
<rect x="1038" y="740.71" width="22" height="53.19" fill="#a000c8"/>
<rect x="1038" y="687.82" width="22" height="53.19" fill="#8200dc"/>
<rect x="1038" y="634.92" width="22" height="53.19" fill="#1e3cff"/>
<rect x="1038" y="582.03" width="22" height="53.19" fill="#00a0ff"/>
<rect x="1038" y="529.14" width="22" height="53.19" fill="#00c8c8"/>
<rect x="1038" y="476.25" width="22" height="53.19" fill="#00d28c"/>
<rect x="1038" y="423.35" width="22" height="53.19" fill="#00dc00"/>
<rect x="1038" y="370.46" width="22" height="53.19" fill="#a0e632"/>
<rect x="1038" y="317.57" width="22" height="53.19" fill="#e6dc32"/>
<rect x="1038" y="264.68" width="22" height="53.19" fill="#e6af2d"/>
<rect x="1038" y="211.78" width="22" height="53.19" fill="#f08228"/>
<rect x="1038" y="158.89" width="22" height="53.19" fill="#fa3c3c"/>
<rect x="1038" y="106.00" width="22" height="53.19" fill="#f00082"/>
<path d="M744.7 873.3H799.7M794.3 870.6L799.7 873.3L794.3 876" stroke="#000" stroke-width="1.4" fill="none"/>
</svg></body></html>
